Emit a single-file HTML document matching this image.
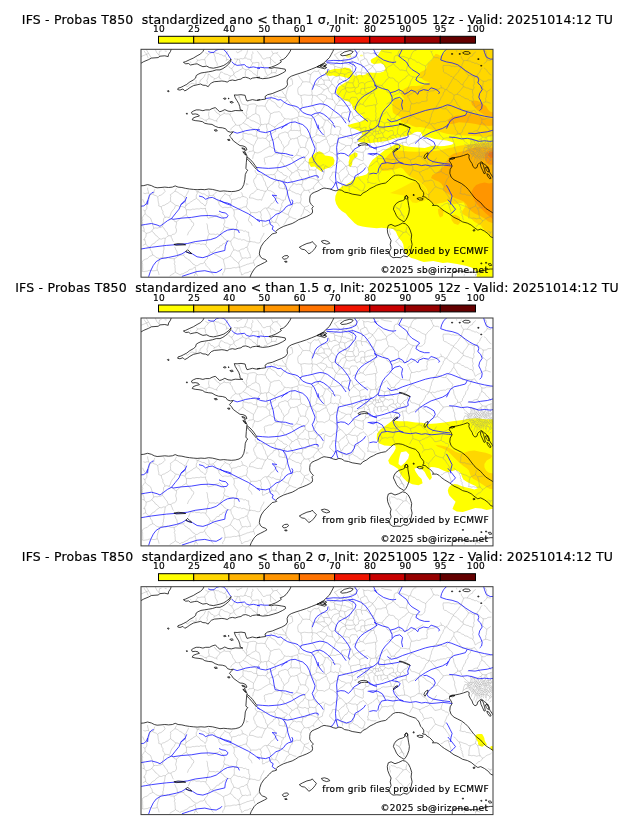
<!DOCTYPE html><html><head><meta charset="utf-8"><title>IFS - Probas T850</title>
<style>html,body{margin:0;padding:0;background:#fff}svg{display:block}text{font-family:"DejaVu Sans","Liberation Sans",sans-serif;fill:#000;white-space:pre;stroke:#000;stroke-width:0.18px}</style></head><body>
<svg width="630" height="828" viewBox="0 0 630 828">
<rect width="630" height="828" fill="#fff"/>
<clipPath id="mc"><rect x="141.0" y="49.3" width="352.0" height="227.9"/></clipPath>
<g transform="translate(0,0.0)">
<text y="23.8" font-size="12.5" xml:space="preserve"><tspan x="21.75" letter-spacing="0.192">IFS - Probas T850  standardized ano &lt; than 1 σ, </tspan><tspan x="334.27" letter-spacing="0.128">Init: 20251005 12z - Valid: 20251014:12 TU</tspan></text>
<rect x="158.50" y="36.3" width="35.22" height="6.9" fill="#ffff00" stroke="#000" stroke-width="1.0"/>
<rect x="193.72" y="36.3" width="35.22" height="6.9" fill="#ffd700" stroke="#000" stroke-width="1.0"/>
<rect x="228.94" y="36.3" width="35.22" height="6.9" fill="#ffb300" stroke="#000" stroke-width="1.0"/>
<rect x="264.16" y="36.3" width="35.22" height="6.9" fill="#ff9500" stroke="#000" stroke-width="1.0"/>
<rect x="299.38" y="36.3" width="35.22" height="6.9" fill="#ff7300" stroke="#000" stroke-width="1.0"/>
<rect x="334.60" y="36.3" width="35.22" height="6.9" fill="#f01400" stroke="#000" stroke-width="1.0"/>
<rect x="369.82" y="36.3" width="35.22" height="6.9" fill="#c80000" stroke="#000" stroke-width="1.0"/>
<rect x="405.04" y="36.3" width="35.22" height="6.9" fill="#960000" stroke="#000" stroke-width="1.0"/>
<rect x="440.26" y="36.3" width="35.22" height="6.9" fill="#640000" stroke="#000" stroke-width="1.0"/>
<text transform="translate(158.95,31.8) scale(1.08,1)" font-size="8.33" letter-spacing="0.33" text-anchor="middle">10</text>
<text transform="translate(194.17,31.8) scale(1.08,1)" font-size="8.33" letter-spacing="0.33" text-anchor="middle">25</text>
<text transform="translate(229.39,31.8) scale(1.08,1)" font-size="8.33" letter-spacing="0.33" text-anchor="middle">40</text>
<text transform="translate(264.61,31.8) scale(1.08,1)" font-size="8.33" letter-spacing="0.33" text-anchor="middle">50</text>
<text transform="translate(299.83,31.8) scale(1.08,1)" font-size="8.33" letter-spacing="0.33" text-anchor="middle">60</text>
<text transform="translate(335.05,31.8) scale(1.08,1)" font-size="8.33" letter-spacing="0.33" text-anchor="middle">70</text>
<text transform="translate(370.27,31.8) scale(1.08,1)" font-size="8.33" letter-spacing="0.33" text-anchor="middle">80</text>
<text transform="translate(405.49,31.8) scale(1.08,1)" font-size="8.33" letter-spacing="0.33" text-anchor="middle">90</text>
<text transform="translate(440.71,31.8) scale(1.08,1)" font-size="8.33" letter-spacing="0.33" text-anchor="middle">95</text>
<text transform="translate(475.93,31.8) scale(1.08,1)" font-size="8.33" letter-spacing="0.33" text-anchor="middle">100</text>
<rect x="141.0" y="49.3" width="352.0" height="227.9" fill="#fff"/>
<g clip-path="url(#mc)">
<path d="M382.5 48.0 L379.8 52.1 L378.3 54.5 L375.9 56.9 L372.7 58.5 L370.6 60.1 L371.1 62.5 L373.5 64.0 L376.7 63.7 L380.6 63.3 L383.8 64.8 L385.3 68.5 L384.0 71.3 L380.5 72.4 L376.7 72.8 L372.7 72.8 L369.5 72.4 L367.5 72.8 L365.6 74.4 L363.2 75.2 L359.2 74.8 L356.0 76.0 L353.7 75.2 L352.9 72.8 L351.6 71.2 L350.5 68.8 L348.1 68.0 L344.9 67.5 L341.7 68.5 L338.6 68.8 L335.4 68.8 L332.2 69.6 L329.0 70.4 L325.9 71.7 L325.1 73.6 L326.7 75.2 L329.8 76.0 L333.0 75.5 L336.2 76.4 L339.4 76.0 L342.5 76.7 L345.7 77.5 L348.9 78.3 L350.5 79.1 L348.1 81.2 L344.9 82.8 L341.7 84.7 L338.9 86.6 L337.0 89.4 L336.2 92.6 L337.8 95.0 L340.2 96.6 L342.5 99.0 L344.9 100.6 L347.3 101.3 L349.7 102.1 L351.6 104.5 L352.9 107.7 L353.7 110.1 L355.2 109.8 L357.6 112.9 L360.8 114.5 L363.2 116.9 L364.0 120.1 L360.8 121.7 L356.0 122.8 L351.3 124.0 L347.3 125.6 L350.5 127.5 L354.4 128.8 L358.4 130.4 L361.6 132.3 L362.4 134.4 L360.0 136.7 L358.4 139.1 L357.6 141.5 L360.8 142.3 L365.6 142.8 L371.1 143.1 L376.7 142.3 L380.0 142.0 L383.8 141.2 L389.5 140.2 L395.2 138.3 L401.0 136.9 L406.7 136.0 L411.4 134.5 L414.3 132.6 L417.1 131.7 L420.5 132.1 L421.9 134.0 L422.4 136.4 L425.7 137.2 L430.0 137.6 L434.4 138.9 L438.9 139.4 L442.2 140.0 L446.7 140.6 L451.1 141.7 L453.9 142.8 L452.2 144.4 L448.9 145.2 L444.4 145.9 L440.0 146.3 L435.6 145.6 L431.4 146.0 L424.8 147.9 L418.1 147.4 L411.4 146.9 L404.8 146.0 L401.0 144.5 L397.0 143.5 L392.5 146.0 L388.6 147.9 L384.6 150.2 L380.6 153.4 L376.7 156.6 L372.7 159.8 L370.3 162.9 L368.7 166.1 L367.9 169.3 L368.7 172.1 L366.3 174.5 L362.4 175.8 L358.4 176.4 L355.2 177.7 L352.9 180.1 L349.7 182.5 L345.7 184.8 L341.7 186.4 L339.4 188.8 L337.0 192.0 L335.4 196.0 L335.1 199.9 L336.2 203.9 L338.6 207.9 L341.7 211.0 L345.7 213.4 L348.1 216.6 L351.3 219.8 L354.4 222.9 L357.6 225.3 L362.4 226.6 L367.1 227.2 L371.9 227.7 L376.7 228.2 L381.4 227.7 L386.2 228.2 L389.4 228.5 L393.0 229.0 L395.9 231.7 L397.5 235.6 L399.4 238.8 L401.7 241.2 L403.3 244.4 L403.8 248.3 L404.9 252.3 L407.3 255.5 L411.3 257.9 L415.2 259.1 L419.0 260.5 L423.8 262.1 L428.6 261.6 L433.3 261.0 L438.1 262.1 L442.9 262.9 L447.6 262.5 L452.4 263.2 L457.1 264.1 L461.9 264.9 L466.7 266.0 L471.4 267.6 L475.4 270.8 L477.0 274.0 L476.2 278.5 L495.0 278.5 L495.0 48.0Z" fill="#ffff00" fill-rule="evenodd"/>
<path d="M309.0 159.0 L312.0 156.0 L316.0 152.5 L319.5 151.3 L322.0 152.6 L325.0 155.5 L329.0 156.1 L333.0 157.1 L334.6 160.6 L333.8 164.5 L330.6 166.9 L326.7 168.5 L324.0 169.5 L322.0 172.0 L318.7 169.8 L314.8 166.6 L311.0 167.0 L308.5 163.0Z" fill="#ffff00" fill-rule="evenodd"/>
<path d="M355.2 152.3 L357.6 153.4 L357.3 156.6 L354.4 158.2 L352.5 160.6 L352.1 164.5 L350.5 167.2 L348.9 166.1 L348.6 162.1 L349.7 158.2 L348.9 155.8 L351.6 154.2Z" fill="#ffff00" fill-rule="evenodd"/>
<path d="M345.7 55.0 L348.0 54.3 L351.3 55.0 L351.0 57.3 L348.0 57.9 L345.7 57.0Z" fill="#ffff80" fill-rule="evenodd"/>
<path d="M360.0 55.0 L362.0 54.6 L363.3 55.5 L362.0 56.6 L360.0 56.2Z" fill="#ffff80" fill-rule="evenodd"/>
<path d="M447.0 48.0 L445.2 52.1 L442.9 54.5 L440.5 56.1 L438.1 54.5 L435.7 53.7 L434.1 56.1 L432.5 59.3 L430.2 61.7 L427.8 64.0 L427.0 66.4 L426.2 68.8 L423.8 70.4 L420.6 72.0 L418.3 74.4 L419.8 76.7 L422.2 79.1 L424.6 80.7 L427.8 81.8 L429.4 82.8 L425.4 84.7 L420.6 85.5 L415.9 86.0 L411.4 86.0 L407.6 86.9 L403.8 89.3 L401.4 91.7 L400.5 94.0 L402.4 96.4 L404.8 99.3 L401.9 99.8 L398.1 99.3 L394.3 99.3 L392.9 101.7 L392.4 105.0 L392.4 108.8 L392.9 112.6 L395.2 114.5 L398.6 116.0 L401.4 117.9 L400.5 120.2 L401.4 122.1 L404.8 123.1 L408.6 124.0 L412.4 126.0 L416.2 127.2 L420.0 127.0 L424.5 127.8 L430.9 129.4 L437.2 131.0 L442.0 132.5 L446.7 133.7 L451.5 134.5 L456.3 134.9 L461.0 135.3 L465.0 135.5 L470.0 135.8 L475.0 136.2 L480.0 136.6 L485.6 136.8 L490.0 136.6 L495.0 136.2 L495.0 48.0Z" fill="#ffd700" fill-rule="evenodd"/>
<path d="M495.0 142.2 L487.8 142.6 L483.3 142.8 L478.9 143.3 L474.4 143.9 L470.0 144.4 L465.6 145.0 L461.1 145.6 L456.7 146.3 L452.2 147.4 L447.8 148.3 L443.3 149.4 L440.0 150.3 L436.0 150.7 L431.1 151.0 L423.5 151.5 L415.9 151.8 L408.3 151.4 L400.6 150.5 L394.3 150.9 L390.5 152.8 L387.3 156.0 L384.8 159.1 L382.2 162.3 L380.3 165.5 L379.7 169.3 L382.9 171.0 L389.0 170.5 L395.0 169.5 L400.5 167.5 L402.9 168.8 L405.2 171.7 L407.6 174.5 L410.5 176.9 L414.3 178.8 L418.1 180.7 L421.0 183.1 L423.8 185.5 L426.2 188.3 L427.6 191.2 L428.1 194.5 L427.6 197.9 L429.0 200.2 L431.4 202.1 L435.0 204.3 L439.8 203.3 L443.6 202.4 L447.4 201.0 L451.2 202.4 L454.0 204.3 L458.8 203.3 L463.6 202.4 L465.5 206.2 L463.6 209.0 L461.7 211.9 L463.6 214.8 L467.4 216.7 L471.2 218.6 L474.0 221.4 L476.9 223.3 L480.7 225.2 L482.6 228.1 L484.5 230.0 L487.4 231.9 L490.2 234.8 L492.1 237.6 L495.0 239.5Z" fill="#ffd700" fill-rule="evenodd"/>
<path d="M390.0 193.1 L395.2 190.7 L401.0 187.9 L406.7 185.0 L411.4 182.6 L416.2 181.0 L422.0 184.0 L426.0 189.0 L427.8 194.5 L427.6 198.0 L424.0 201.0 L420.0 201.8 L416.2 203.1 L412.4 202.6 L410.5 200.2 L408.6 197.9 L405.7 196.0 L401.0 195.0 L395.2 194.0Z" fill="#ffe600" fill-rule="evenodd"/>
<path d="M437.9 209.0 L441.0 208.0 L443.6 211.0 L443.0 216.0 L440.0 217.6 L438.5 214.0Z" fill="#ffd700" fill-rule="evenodd"/>
<path d="M451.2 215.7 L455.0 214.5 L459.5 217.0 L460.7 222.0 L458.0 225.0 L454.0 223.5 L451.5 220.0Z" fill="#ffd700" fill-rule="evenodd"/>
<path d="M471.0 101.5 L474.5 100.5 L478.0 101.0 L482.0 103.5 L486.0 106.0 L488.0 109.5 L490.0 111.5 L495.0 113.0 L495.0 117.2 L490.0 116.5 L485.5 115.5 L482.0 113.5 L479.0 111.5 L476.5 109.5 L474.5 107.0 L472.0 105.0Z" fill="#ffb300" fill-rule="evenodd"/>
<path d="M447.8 121.7 L448.9 118.9 L452.2 116.7 L456.7 115.6 L462.2 115.6 L466.7 114.4 L468.9 113.3 L472.2 113.9 L476.7 115.0 L481.1 116.7 L485.6 117.8 L490.0 118.9 L495.0 118.9 L495.0 125.6 L492.8 125.6 L488.9 126.1 L484.4 125.6 L480.0 125.0 L475.6 124.1 L471.1 123.3 L466.7 122.8 L462.2 122.6 L458.9 122.2 L455.6 123.3 L452.2 124.1 L449.4 123.7Z" fill="#ffb300" fill-rule="evenodd"/>
<path d="M495.0 147.5 L492.0 147.5 L476.2 147.2 L470.0 148.6 L465.0 150.8 L461.8 151.6 L457.9 152.4 L453.9 153.6 L450.7 155.6 L448.3 158.3 L446.7 161.5 L445.0 164.5 L443.3 167.0 L440.0 169.7 L436.7 172.8 L432.4 175.1 L431.0 178.0 L434.7 180.0 L438.5 181.5 L441.5 183.8 L443.5 187.0 L443.5 190.5 L446.0 192.5 L450.2 195.3 L455.0 198.0 L459.8 199.8 L463.6 201.6 L466.4 204.3 L468.3 208.1 L471.2 211.0 L475.0 213.8 L479.8 215.7 L484.5 218.6 L488.3 221.4 L492.1 222.9 L495.0 223.5Z" fill="#ffb300" fill-rule="evenodd"/>
<path d="M495.0 182.6 L489.0 183.4 L484.5 182.6 L479.9 183.4 L476.2 184.9 L473.5 187.9 L471.6 191.7 L471.7 193.8 L473.1 197.6 L475.0 201.4 L477.9 205.2 L481.7 209.0 L485.5 212.9 L489.3 216.2 L492.1 218.6 L495.0 220.0Z" fill="#ff9500" fill-rule="evenodd"/>
<path d="M495.0 150.0 L488.0 151.0 L485.0 154.0 L484.5 158.0 L486.0 162.0 L489.0 164.5 L495.0 165.0Z" fill="#ff9500" fill-rule="evenodd"/>
<path d="M495.0 151.5 L489.5 152.5 L488.0 155.0 L490.0 157.5 L495.0 158.0Z" fill="#ff7300" fill-rule="evenodd"/>
<path d="M145.7 48.6l2.9 4.8 2.8 4.7M154.9 48.6l1.9 4.2 3.2 3.4M141 56.6l7.6-3.2M395.3 206.3l4.4 3.8 2.9 4.8 1.9 4.7M391.8 53l-1.7-.4-1.8-.3-1.8-.2-1.8-.2-1.7-.7-1.8-.2M461.6 185.3l-.1 1.7-.9 1.5 .2 1.7-.2 1.7-.8 1.5M471.3 196l-1.6-.5-1.7-.4-1.7-.1-1.5-1.1-1.8 .4-1.6-.6-1.6-.3M443.2 189.2l.6 1.6 1.6 .9 .7 1.6 .9 1.3 1 1.4 .9 1.3 .6 1.6 1.4 1.1M443.2 189.2l.7-1.6 1.2-1.5-.2-2 .8-1.6 .7-1.7 .6-1.7 1.4-1.4 .4-1.7M490.2 232.3l1.8-.5M490.2 232.3l-2.5-1.2M491.7 215.4l-1.4 1.2-1.6 .7-1.7 .5-1.5 1.1-1.3 1.2-1.7 .6M482.5 220.7l-.1 .8M475.6 226.7l1.6-.8 1-1.5 1.9-.4 1.2-1.2 1.1-1.3M480.2 272.9l-1.2 1.3M479 274.2l1.3 1.3M410.1 245.5l-1.2 1.3-.9 1.4-1.1 1.3-1.1 1.3M405 253l.8-2.2M279.1 153l-1.7-.7-1-1.7-1.7-.8-1.2-1.6-1.8-.6-1.4-1.2M279.1 153l-1.3 1-1.9-.4-1.5 .5-1.3 1.1-1.4 1-1.7 0-1.6 .3-1.5 .7-1.6 .2-1.3 1.1M270.3 146.4l-1.7 .6-1.5 .9-1.5 .8-1.5 .9-1.5 1-1.4 1.1-1.6 .6-1.6 .7M281.4 153.7l1.2-1.2 .7-1.4 0-1.8 .9-1.4M281.4 153.7l-2.3-.7M269.1 141.7l.7 1.5-.3 1.7 .8 1.5M269.1 141.7l1.3-1.2 1.6-.7 1.9-.1 1.5-.8 1.2-1.5 1.8-.3M284.2 147.9l-.7-1.6-.7-1.6-1.2-1.3-.3-1.9-1.2-1.4-.9-1.5-.8-1.5M269.1 141.7l-1.8-1.4-1.3-2M254.5 152.1l1.7 .6 1.8 .3M254.5 152.1l-1.2-1.3M253.5 146l-.2 2.4 0 2.4M253.5 146l.9-1.6 1-1.5 .5-1.7 1.2-1.5 .4-1.8M257.5 137.9l1.7 .2 1.7 .2 1.7-.4 1.7 .5 1.7-.1M205.4 52.7l1.5 .8 1.5 .7M208.4 54.2l-.7 1.5-1.3 1.1-1.2 1.2-.5 1.7M204.7 59.7l-1.7-.1-1.8 .1-1.7 .5-1.7 0M196.3 58.9l1.5 1.3M150.5 218.1l.7 1.7 .5 1.7 .8 1.6 .1 1.8 .7 1.6 .4 1.8M153.7 228.3l1.7-.4 1.8 .3 1.7-.6 1.8-.1 1.6-.8M163.7 218.7l-.2 1.6 .1 1.7-.9 1.5 .2 1.7-.6 1.5M191.3 62.6l-1.5-.8M195.7 62.9l1.1-1.3 1-1.4M448.8 176l-1.3-1.3-2-.2-1.3-1.3-1.8-.5-1.3-1.2M443.5 163.3l-1 1.5-.1 1.7-.6 1.6-.5 1.7-.2 1.7M443.5 163.3l1.3-1 1.7-.4 1.1-1.3M435.9 148.6l1.2-.9M449.5 156.7l-1.6-.7-1.2-1.2-1.2-1.2-1.5-.9-1.3-1-1.5-1-1.3-1.1-1.2-1.2-1.6-.7M418.9 156.2l2.5 .3M418.9 156.2l-1.8 .4-1.4 1.3-1.6 .9-1.8 .4-1.6 .7M421.4 156.5l.8 1.7 1.2 1.4 1.9 .7 1.2 1.4 .9 1.6 .8 1.7 1.5 1.1M410.7 159.9l-.2 1.7 .9 1.6-.2 1.7 1.3 1.4 .3 1.7 0 1.7M429.7 166.1l.2 1.1M429.9 167.2l-1.4 .9-1.4 .9-1.7 .3-1.4 1.1-1.7 .2-1.2 1.3-1.7 .2M419.4 172.1l-1.7-.5-1.6-.7-1.7-.5-1.6-.7M434.7 148.6l-1.2-1.3-1.4-.8-1.2-1.3-1.4-.9-1.6-.8-1.6-.6-.9-1.6-1.5-.9-1.4-.9-1.3-1.1-1.5-.8M434.7 148.6l-1.4 1-1.5 .9-1.7 .4M422.7 155.4l-1.3 1.1M418.8 139.5l.9-1.9M418.8 139.5l-.2 1.6 0 1.7 .6 1.7-.5 1.7 .3 1.6 .3 1.7-.3 1.7 .3 1.7 .1 1.6-.5 1.7M435.9 148.6l-1.2 0M437 157.9l-1.5 1.1-.6 1.9-1.9 .7-.5 2-1.5 1.2-1.3 1.3M441.1 171.5l-1.5 .6-1.6 .4-1.6 .4-1.6 .1M434.8 173l-1.1-1.5-1-1.7-1.5-1.2-1.3-1.4M470.5 208.3l1.7-.7 1.6-.8 1.7-.7M470.5 208.3l-.7 1.5-.4 1.7-.4 1.5 0 1.7 0 1.7-.5 1.6M480.2 218.5l-.7-1.6-.4-1.8-.2-1.8-.1-1.8-.8-1.7-.3-1.7M480.2 218.5l-1.7-.2-1.7 .6-1.6-.5-1.7-.4-1.7 .4-1.6-.4-1.7 0M477.7 208.1l-2.2-2M476 201.3l.3 1.7-.7 1.5-.1 1.6M459.3 204.5l-1.7-1-1-1.7-1.4-1.4-1.6-1M459.3 204.5l1.7 .2 1.6 .7 1.5 .6 1.7 .4 1.5 .8 1.4 1.1 1.8 0M459.3 204.5l.3 1.6 1 1.4-.5 1.8 1.1 1.4-.3 1.7 1.3 1.3-.2 1.7 .8 1.5 .1 1.6 .7 1.5M483.1 207.3l-1.8 .4-1.8 .1-1.8 .3M482.5 220.7l-2.3-2.2M448.4 202.9l.1 1.8 .8 1.5 .3 1.7 .7 1.6 .5 1.6 .2 1.7M448.4 202.9l-1.6 .5-1.6 .4-1.5 .7-1.2 1.4-1.7 .3M443.2 189.2l-1.9-.4-2-.5-1.8-.7-1.8-.9M429 198.3l-.4-1.7 .2-1.7M428.8 194.9l.9-1.6 1.2-1.3 1.2-1.3 1-1.6 1.4-1.2 1.2-1.2M435.7 186.7l-1.1-1.5-.4-1.9-.9-1.7-1.3-1.4M419.4 172.1l.5 1.7 .8 1.5 1.6 1.1 .5 1.7 .6 1.7 1 1.4M432 180.2l-1.9 0-1.9 .7-1.9 0-1.9 .3M490.2 232.3l-.1 1.9M309.9 193.1l-.7-1.6-1-1.4M314.2 189.8l-.8-1.8M313.4 188l-1.8 .6-1.5 1.2-1.9 .3M410.4 235.7l-1.5-1.1-1.4-1.3-1.2-1.4M405.8 250.8l-1.5-.9-1.3-1.1-.9-1.6-1.4-1-1.5-.9-1-1.4-1-1.5-1.6-.8M395.6 241.6l1-1.4 1.5-1 .9-1.4 1-1.3 1-1.4 1.4-1 .8-1.6M403.2 232.5l3.1-.6M406.3 231.9l-.3-1.7 .5-1.7 .4-1.7M362.5 51.4l1.2 1.5M378.6 52.3l-2.1 .5-1.9 .9M363.7 52.9l1.8 .3 1.8-.4 1.8 .2 1.8 .8 1.9-.4 1.8 .3M282.1 155.3l1.6 .2 1.5 .8 1.5 .6 1.8-.3 1.5 .8 1.5 .6M282.1 155.3l-.1 2.1-.7 2-.9 2M297.2 170.6l.7-1.2M297.2 170.6l-1.9 .5-1.5 1.4-1.9 .5M280.4 161.4l1.3 1 1.4 .9 .4 1.9 1.8 .6 .9 1.3 1.3 1 .9 1.5 1.2 1 1.5 .9 .8 1.5M291.5 158l.7 1.6 .9 1.4 1 1.5 1 1.4 .7 1.5 1.2 1.3 .9 1.4M297.9 169.4l0-1.3M291.5 158l2-.5 1.4-1.7 1.9-.7M297.9 168.1l1.3-1.2 .9-1.6 1.4-1.1 1.6-.8 .6-1.9 1.6-.9M305.3 160.6l-.2-2.4M305.1 158.2l-1.8-.3-1.5-.9-1.5-1.1-1.8-.3-1.7-.5M282.1 155.3l-.7-1.6M280.4 161.4l-.8 1.6-1.3 1.3M264 158.5l.6 1.5-.2 1.6 .9 1.5-.2 1.7M274.3 174.4l-1.6 .4-1.7-.3-1.5 .4-1.6 0-1.7-.1-1.5 .5-1.7-.5-1.6 .4M274.3 174.4l1.1-1.4 1.3-1.2 .8-1.7M278.3 164.3l-.5 1.9 0 2-.3 1.9M261.4 175.2l-1.4-1M256.3 173.3l-1-1.4-.1-1.8M254.5 152.1l-.2 1.8-1.1 1.6-.2 1.7-.4 1.7M257.5 174.2l2.5 0M257.5 174.2l-1.2-.9M297.2 170.6l1 1.4 1 1.4 .1 1.8 1 1.3 1.3 1.3 .3 1.7 .9 1.5M291.9 173l-1.1 2.1-1.7 1.6M301.8 184.6l.8-1.7 .2-1.9M301.8 184.6l-1.7-.2-1.8-.3-1.8 .6-1.7-1.1-1.7 .3M293.1 183.9l-.5-1.6-1.6-1-.1-1.8-1.2-1.3-.6-1.5M277.5 170.1l1.4 1 1.3 1.2 1.8 .4 1 1.8 1.6 .8 1.8 .4 1.2 1.3M274.3 174.4l1.1 1.6-.2 2.2 1.3 1.6M261.4 175.2l1 1.3 .8 1.5 .4 1.6 .8 1.4 .9 1.4 .3 1.7 .3 1.6 1.3 1.2 .3 1.7M276.5 179.8l-1 1.6-2 .6-.6 1.9-1.6 .9-1.5 1.1-1 1.5-1.3 1.2M304.5 207.2l1.6-.6 1.6-.5 1.4-1M304.5 207.2l-1.7-1.3-1.5-1.3-1-1.9M304.2 190.1l2 .4 2-.4M304.2 190.1l-1.2 1.5-1.3 1.5-.5 1.9M300.3 202.7l.6-1.9 .3-1.9-.6-2 .6-1.9M301.8 184.6l.3 2 1.4 1.6 .7 1.9M293.1 183.9l-1.1 1.6-1.3 1.4-1.1 1.5-.6 1.8M301.2 195l-1.6-.4-1.4-.9-1.8 0-1.4-.8-1.5-.8-1.6-.4-1.2-1.4-1.7-.1M300.3 202.7l-1.8 .3-1.9-.3-1.7 .9-1.8-.1M289 190.2l-1.2 .5M287.8 190.7l-.6 1.8-.4 1.8-.7 1.7-.6 1.8-.1 1.8M278.8 134.2l1.6-.5 1.4-.8 1.7-.3 1.5-.8M274.4 127l1 2.1 .3 2.3M274.4 127l1.7-.7 1.1-1.5 1.3-1.1 1.6-.9 1.6-.8 1.5-.8M278.4 137.1l.4-2.9M267.2 136.2l-1.2 2.1M267.2 136.2l1.5-.7 1.1-1.2 1.6-.6 1.4-.8 1.3-1 1.6-.5M267.2 136.2l.3-1.7-.6-1.7-.1-1.7 .5-1.7-.6-1.7-.2-1.7 .3-1.7M268.1 123.6l-1.3 .7M268.1 123.6l1.8 .5 1.3 1.3 1.6 .8 1.6 .8M271 113.6l-.9 1.5 .1 1.9-.6 1.6-.5 1.7-.1 1.8-.9 1.5M271 113.6l1.6-.5 1.5-.9 1.7-.1 1.7-.2 1.6-.4M283.2 121.2l1.3-2.8M284.5 118.4l-1.2-1.3-1.2-1.3-.4-1.9-1.3-1.2-1.3-1.2M317.3 152.4l1.6 .9 2-.2 1.8 .1 1.7 .8M317.3 152.4l-.2 1.8-1.3 1.4-1 1.5 .3 2-1.2 1.4-.6 1.7M313.3 162.2l1.6 1.4 1.5 1.6 1.2 1.7M324.3 164.8l-1.8 .1-1.4 1.3-1.8-.1-1.7 .8M316.5 151.9l.8 .5M305.3 160.6l1.6 1.3 1.8 .8M308.7 162.7l2.4 .1 2.2-.6M308.7 152l-.5 1.7-1.4 1.3-1.2 1.4-.5 1.8M358.4 175.6l-.8 1.1M357.6 176.7l1.2 1.3 1 1.6 1.4 1.1 1.1 1.3 1.2 1.4 1.4 1.1M368.4 171.4l.4 1.6-.1 1.7-.2 1.6-.1 1.6-.9 1.5 .7 1.7-.6 1.6M357.6 176.7l-2.9 .9M361.9 191.3l1.1-1M361.9 191.3l-1.3-.9-1.7-.5-1-1.5-1.4-.7-1.6-.7-1.4-.8-1.2-1.2M354.7 177.6l-.4 1.9-1.1 1.7 .1 2.1-1 1.7M364.9 184.5l-.1 2.1-.8 1.9-1 1.8M378.2 175.2l.1 1.7 .1 1.8 .6 1.6 .8 1.6M367.6 182.7l1.8-.3 1.7 .8 1.8 .2 1.7 .1 1.8-.5M325.2 165.7l-.6 1.6-.5 1.6 .2 1.8-.1 1.7-.4 1.6-.9 1.5-.3 1.7-.3 1.6M325.2 165.7l1.7 .9 1.8 1 2 .2M332.4 172.2l-.3 1.8-.7 1.6-1.4 1.4-.3 1.8M340.4 160.8l-1.6 .8-1.3 1.1-1.4 1-1 1.4-1.9 .4-.9 1.6-1.6 .7M340.4 160.8l-1.5-1.2-.5-2-1.6-1.1-1-1.6M324.4 154l1.6-1.1 1.8-.7 1.5-1.2M335.8 154.9l-1.7-.8-1.4-1.5-1.9-.4-1.5-1.2M346.1 166.3l-.2-.1M346.1 166.3l.9 1.4-.3 1.8 .8 1.4 .9 1.4 .2 1.7M345.9 166.2l-1.4 1.1-.8 1.7-1.8 .6-1 1.4-1.4 1.1-1.2 1.3M348.6 174l-1.1 1.1-.7 1.6-1.8 .6-.9 1.4-1.2 1.1-.5 1.7-1.5 .9M338.3 173.4l.8 1.7 0 2 .5 1.8 .9 1.7 .4 1.8M358.4 175.6l-.6-1.6-.6-1.6 .2-1.7 0-1.8-.6-1.5M356.8 167.4l-1.5-.9-1.9 .3-1.7-.2-1.6-.7-1.7-.4M348.4 165.5l-2.3 .8M354.7 177.6l-1.6-.7-1.7-.7-1.2-1.3-1.6-.9M340.4 160.8l1.1 .4M341.5 161.2l1.1 1.2 1.1 1.3 1.1 1.2 1.1 1.3M332.4 172.2l2.1-.1 1.9 .4 1.9 .9M333.4 182.9l-1-1.6-1.6-1-1.1-1.5M333.4 182.9l1.8 .3 1.8 0 1.8 0 1.8 .4M340.6 183.6l.3-1.2M382.1 169.5l-1.1 1.4-.8 1.5-1.1 1.4-.9 1.4M382.1 169.5l-.7-1.5-.8-1.4-1.4-1-.2-1.8-1-1.3-.8-1.4M368.2 171.1l.2-1.7-.5-1.6M367.9 167.8l1.2-1.2 1.4-.8 1.5-.7 1.2-1.2 1.2-1 1.2-1.1 1.6-.7M356.8 167.4l1.9-.8 .9-1.9 2-.4 1.4-1.4M367.9 167.8l-1.3-1.2-.9-1.5-1.4-1.1-1.3-1.1M393 168.6l-1.8-.2-1.8 .2-1.8 .8-1.9-.4-1.8 .2-1.8 .3M393 168.6l.9-1.7 .5-1.9 .6-1.8 .6-1.8 .9-1.7M396.5 159.7l-1.8 0-1.6-.4-1.8 .6-1.7-.5-1.7-.5-1.7-.2-1.7 0-1.7 0-1.7-.2-1.8 .1-1.7-.1M377.2 161.1l.4-2.6M363.2 152l-1.7 .4-1.6-.4-1.7-.2-1.6-.6-1.6-.4-1.7 .4M363.2 152l0 1.9 .4 2-.5 1.9 .3 2M363.4 159.8l-.8 1.1M362.6 160.9l-1.8-.7-1.9-.8-1.8-.9-1.7-1M355.4 157.5l-.8-1.5-.3-1.6 0-1.8-1-1.4M377.6 158.5l-.4-1.6-.8-1.6-.6-1.6M375.7 153.7l.1 0M348.4 165.5l1.1-1.4 1.6-1 .9-1.5 .9-1.5 1.6-1 .9-1.6M351.5 149l1.8 2.2M351.5 149l-.8-1.5 .2-1.7M335.8 154.9l1.4-1.1 1-1.4 1.3-1.2 1.4-1 1.7-.7 1-1.3 1.4-1.1 1.1-1.3M350.9 145.8l-2.4-.4-2.4 .4M363.2 152l1.7-1.3 1-1.8M365.9 148.9l2.4 .2M231.8 68.6l-1.9-.6-1.2-1.8M231.8 68.6l.9-1.3 1.2-1.1 .4-1.7 1.3-1.1 .6-1.5 .9-1.4 .6-1.5M226 61.1l.7-1.7M237.7 59l-1.8 .1-1.9-.4M228.6 59.7l-1.9-.3M236.3 51.3l1.1 1.6M227.8 51l-.8 1.8-1 1.7-1.2 1.5M237.7 59l.3-.1M226.7 59.4l-.5-2-1.4-1.4M271 113.6l-2-1.3M269 112.3l-.6-1.7-1.7-1-.4-1.9-1.1-1.4M270.2 99.1l-2.5 1.1M270.2 99.1l.9 1.5 1.6 .8 1.5 .8 1.4 1 .9 1.5 .8 1.5 1.6 .8 1.3 1.1M265.2 106.3l.2-1.7 1-1.4 .8-1.4 .5-1.6M282 91.1l.9 1.4 .9 1.5 1.2 1.2 .9 1.5M285.9 96.7l0-1.9 .8-1.8 .2-1.9 .8-1.8 .2-1.9M259 62.7l-.1 1.7-.1 1.8-.2 1.7-.5 1.7-.5 1.7-.2 1.7 0 1.7 0 1.8M267.4 75.9l-1.4 1.2-2-.1M267.6 75.5l-.9-1.4-.8-1.5-.7-1.6-.2-1.7-1.2-1.3-.2-1.8-1.2-1.3-.8-1.5-.2-1.8M270.6 95.6l.8 1.4M274.4 94.3l-.7 1.5M270.2 99.1l1.2-2.1M276.7 73.4l-1.6-.7M275.1 72.7l-1.9-.1-1.8 .5M271.4 73.1l-1.9 1.3-1.9 1.1M286.3 98.3l-1.4-.8-1.7-.1-1.6-.1-1.6-.4-1.7 .4-1.4-1.3-1.7 .5-1.5-.7M286.3 98.3l-.4-1.6M287.1 99.4l0 .1M287.1 99.4l-.8-1.1M287.1 99.5l-.9 1.7-1.4 1.2-1.6 1.1-.7 1.7-1 1.6-1.3 1.3M204.7 59.7l.7 1.6-.1 1.9 .8 1.6M208.4 54.2l1.6-.7 1.6-.8 1.8-.2M213.4 52.5l.7 1.6 .5 1.7 .7 1.6-.2 1.8 .5 1.7 1 1.5 .7 1.6-.4 1.9M213.4 52.5l.2-.2M213.6 52.3l1.6 .4 1.6 .7 1.8 0 1.3 1.2 1.8 .1 1.4 1.2 1.7 .1M406.3 142.3l-2 0-2 .1M406.3 142.3l1 1.7 1.4 1.4M402.2 142.5l.1-.1M402.2 142.5l.5 1.6 .2 1.7 .3 1.7 .5 1.7-.5 1.8 .8 1.6 .3 1.7 .2 1.7 .1 1.7M405.8 157.7l-1.2 0M418.8 139.5l-1.4 .9-1.5 .7-1.3 1-1.4 1-1.7 .4-1.5 .7-1.3 1.2M410.7 159.9l-1.7-.6-1.5-1.1-1.7-.5M397.9 158.1l-1-1.6-1.3-1.5-.9-1.7M397.9 158.1l1.7 .4 1.6-.7 1.7 .1 1.7-.2M393.1 149.8l1-1.6 .5-1.9 1.4-1.4M396 144.9l1.7-.3 1.5-.6 1.6-.5 1.4-1M430.9 124.1l1.6-.8 1.8 .6 1.6-.5 1.5-.9 1.7 .1 1.5-.9 1.7 0 1.6-.4 1.8 .2 1.4-1.3 1.7 0 1.6-.4 1.7-.2M430.9 124.1l1 1.5 1.3 1.1 .8 1.5 1.7 .9 .4 1.8 1.1 1.4 1.9 .6 .7 1.6 1 1.4 1.4 1.1 1 1.4M443.2 138.4l1.8-.2 1.9-.4 1.9 .1 1.9 0 1.8-.2M452.1 119.6l1.1 1.4 .5 1.6 .1 1.8 .5 1.6 .9 1.5 .2 1.7 1.2 1.4 .9 1.4 .2 1.7M452.5 137.7l1.3-1 1.3-1 1.5-.7 1.1-1.3M437.1 147.7l.7-1.8 1.2-1.4 1-1.6 1-1.5 1.6-1.1 .6-1.9M456.5 155l-.2-1.6-.3-1.6-.6-1.5-.4-1.5-.5-1.6 .3-1.7-.4-1.6-.8-1.5-.3-1.5-.6-1.6-.2-1.6M453.8 98.8l-1.5 1.1-.6 1.8-1.1 1.5-1.6 1-1.1 1.4-1.3 1.3-.8 1.7M453.8 98.8l1.2 1.1 .7 1.5 1 1.3 .3 1.7 1.4 1 1.2 1.2 .4 1.7 1.6 .8 .5 1.7M445.8 108.6l1.2 1.2 1.5 .9 .7 1.7 1.4 .9 1.2 1.1 1 1.4M436.2 107.5l1.6-.3 1.6 .1 1.6 .5 1.5 .9 1.7 .2 1.6-.3M436.2 107.5l-2.4 .9M429.2 123.1l.6-1.7 .4-1.6 .2-1.7 .9-1.5 .1-1.8 .6-1.6 .8-1.6 .9-1.5 .1-1.7M429.2 123.1l1.7 1M452.1 119.6l0-1.9 .7-1.9M419.7 137.6l-.1-1.2M429.2 123.1l-.3 0M419.6 136.4l.5-1.6 1.4-1 1.2-1.2 1-1.2 .7-1.5 .9-1.4 .4-1.6 1.2-1.2 1.4-1 .6-1.6M491.5 117.9l-1.6 .3-1.7 0-1.6-.1-1.5 1.1-1.7 .2-1.6-.3M475.3 107.6l1.3-1 1.3-1 1.6-.6 1.5-.7 1.3-.9 1.4-.9 1.6-.5M485.3 102l1.9 0 1.7 .8 1.8 .5M481.8 119.1l-1.1-1.3-.8-1.4-1.3-1.1-1.1-1.3-1-1.4-1.1-1.2-.9-1.4M390.4 235.1l0-1.7-.9-1.5 .2-1.7 .1-1.7M403.2 232.5l-1.4-1-1.6-.7-1.6-.6-1.9 .3-1.3-1.4-1.5-.6-1.9 0-1.3-1.1M399.3 209.1l-1.6-.8-1.6-.4M399.3 209.1l1.1 1.7 .9 1.9 .6 1.9M401.9 214.6l-1.5 .7-1.2 1.2M401.9 214.6l1.5 1 1.3 1.3M399.3 209.1l1.2-1.4 .5-1.6 .1-1.9 1.2-1.3M393 168.6l.1 2 1.1 1.7 .3 1.9M318.4 181.4l.1-.6M318.4 181.4l.8 1.6 1.4 1.1 1.3 1.3 1 1.3M318.5 180.8l1.8-1.1 2-.9M313.4 188l.6-1.7 1-1.2 1-1.4 1.4-1 1-1.3M309.1 177.8l1.6 .1 1.6 .4 1.6 .4 1.5 .6 1.4 .7 1.5 .7M309.1 177.8l.3-1.8-.8-1.6-.3-1.7 .1-1.7M318.3 180.7l-.5-1.8-.8-1.8-.5-1.7-.4-1.9-.1-1.9-.4-1.8M315.6 169.8l-1.9 .6-2.1-.5-2 .1M308.4 171l1.2-1M318.5 180.8l-.2-.1M302.8 181l1.3-1.3 2 .1 1.2-1.6 1.8-.4M297.9 169.4l1.7 .4 1.7 .5 1.8 .4 1.9-.8 1.6 1 1.8 .1M317.6 166.9l-.9 1.5-1.1 1.4M308.7 162.7l0 1.9 0 1.8 .4 1.8 .5 1.8M253.3 150.8l-2.1 .5-2.2 .1M249 151.4l-1.3 1.4M253.6 180.6l.3 1.9 1 1.7 .3 1.9 1.4 1.5 .5 1.8M257.1 189.4l-1.3 1.3-1.1 1.3-1.4 1.1-1.8 .6-1.3 1.3M257.5 174.2l-1.2 1.5-.4 1.9-1.7 1.1-.6 1.9M248.4 184.3l-1-.1M247.4 184.2l-1.5-1.1M145 211l.1 2.8M145 211l1.8-2.4M145.1 213.8l1.3 1.1 1.3 1.2 1.4 1 1.4 1M163.7 218.7l1.1-1.2M158.7 206l2.6 .8M164.8 217.5l-.1-1.7-1.3-1.2-.6-1.6 .2-1.7-1-1.4-.5-1.5-.2-1.6M479 274.2l-1.9-.2-1.7 .4M475.5 276.1l-.1-1.7M475.4 274.4l-.4-.2M296.3 218.9l-1.8-.3-1.7-.5-1.6-1-1.8-.2M283.5 224.8l1.1-1.2 .9-1.4 .8-1.5 .6-1.6 1.6-.9 .9-1.3M293.1 203.5l-.6 1.6-.5 1.7-1.3 1.3-.6 1.6-.6 1.7-.8 1.5-.4 1.7M285.4 199.6l-2 .7M283.4 200.3l-.2 1.6-1.2 1.3-.4 1.5 .4 1.9-1.2 1.3-.3 1.5-.4 1.6M280.1 211l1.7 .5 1.5 1 1.6 .9 1.6 .7 1.8 .5M304.4 208.5l-.8 1.6-.3 1.9-.6 1.7-1.3 1.4-.4 1.8M304.4 208.5l.1-1.3M289.4 216.9l-1.1-2.3M359.7 50.4l-.9 1.6-1.6 .5M354.2 50.8l1.7 .5 1.3 1.2M314.4 71l2 .5 1.9-.4M318.3 71.1l1-1.7M395.3 55.7l2.4-.4M395.3 55.7l-1 1.4-.2 1.7 .1 1.8-1.3 1.3 0 1.7M397.7 55.3l1.4 1 1.7 .1 1.7 0 1.7 .4 1.5 .6 1.6 .5 1.4 .9M406.5 70.8l.1-1.7 .6-1.7 .3-1.7 .2-1.7 .3-1.7 .6-1.7 .1-1.8M406.5 70.8l-1.6-.1-1.6-.5-1.7-.2-1.6 .2M392.9 63.6l1.4 .8 .9 1.4 1.2 1.2 1.5 .7 1 1.4 1.1 1.1M378.5 59l1.1 1.4 1.4 1 1.3 1.2 .8 1.6 1.4 1.1 .9 1.6 1.4 1.1M392.9 63.6l-1.2 1.5-1.7 .9-1.8 .7-1.4 1.3M363.7 52.9l.1 1.9 .3 2 .8 1.8M364.9 58.6l1.8 .6M318.3 71.1l1.3 1.3 .6 1.7 1.1 1.5M328.6 68.9l.7 1.6 .2 1.8M321.3 75.6l2-.2 2-.4 2-.2M329.5 72.3l-.9 1.5-1.3 1M287.9 87.4l1.5-1.1 1.8-.7 1.4-1.4M290.1 79.2l1.6-.6M291.7 78.6l.5 1.8 .4 1.9 0 1.9M298.4 94.4l-.4-1.9-.3-1.8 .2-1.9M284.6 179.8l-.2 1.8 .7 1.7-.5 1.8 .1 1.7 .2 1.8M284.6 179.8l-1.6 .4-1.5 .6-1.8-.6-1.6 .6M278.1 180.8l.7 1.8 .5 1.7-.6 2 .7 1.8M284.9 188.6l-1.9 .2-1.8-.6-1.8-.1M287.6 177l-1.7 1.2-1.3 1.6M287.8 190.7l-1.3-1.3-1.6-.8M276.5 179.8l1.6 1M267.5 188.6l0 1.2M273.6 192.5l-1.5-.8-1.4-.9-1.8-.1-1.4-.9M283.4 200.3l-1.8-.2-1.5-1.1-1.7-.7-1.8-.4M273.6 192.5l1.2 1.6 .7 2 1.1 1.8M257.1 189.4l1.8 0 1.7 1 1.8 0 1.7 .9 1.9-.2M266 191.1l1.5-1.3M250.2 195l-.9 3M249.3 198l1.8 0 1.8 .1 1.8 .8 1.7 .6 1.7 .4 2-.4 1.6 .8M266 191.1l-1.1 1.4-.8 1.4-.5 1.7-.8 1.5-.7 1.5-.4 1.7M284.5 118.4l1.9 .6 1.9-.2 1.9 .5 2-.4M287.1 99.5l.8 1.4 1.4 1 .6 1.5 1.5 .9 .6 1.6 1.1 1.1 1.1 1.2 1.3 1 1.4 .9 .8 1.5 1 1.3M298.7 112.9l.1 3.1M298.8 116l-1.5 1.5M292.2 118.9l1.7-.4 1.7-.6 1.7-.4M298.4 94.4l2.6 1.2M298.7 112.9l1.1-1.7 1-1.7 1.1-1.7M301 95.6l0 1.7 .7 1.7 .1 1.8-.4 1.8 .8 1.7-.1 1.8-.2 1.7M363 190.3l1.6 .5M329.3 151l.4-2 .3-2M346.1 145.8l-1.5-1-1.6-.6-1.8-.3-1.3-1.4-1.8-.3M330 147l1.6-1 1.9-.4 1.1-1.9 1.9-.4 1.6-1.1M316.5 151.9l-.2-1.7 .2-1.6-.5-1.7 0-1.7 0-1.6M316 143.6l1.6-1 2 0 1.5-1.3 1.7-.9 1.6-.9 1.8-.5M330 147l-.8-1.6-.7-1.6-1.1-1.4 0-2-1.2-1.4M237.4 52.9l1.6-.8 1.5-1 1.7-.6M249.5 104.4l2.1-.3 2-.2 2.1 .3M256.8 105.6l-1.1-1.4M256.8 105.6l1.7 .5 1.7-.2 1.7-.1 1.7 .3 1.6 .2M242.2 104.2l1.9 .3 2 .4 1.8 .5M242.2 104.2l-.9-1.8-.8-1.9-.6-1.9-.5-1.9M247.9 105.4l1.6-1M239.4 96.7l.2-.6M275.1 72.7l1.3-1.4 .3-1.8M271.4 73.1l.2-1.6-.1-1.7M271.3 64.9l-1-1.5 .4-1.7-.3-1.6 .1-1.6M276.1 63.3l-1.6-1-1.3-1.3-1.4-1.3-1.3-1.2M271.5 50.7l.8 1.5 .8 1.6M278.2 52.1l-1.7 .9M276.5 53l-1.8 .2-1.6 .6M263.3 59.1l1.8-.2 1.5-1 1.8-.1 1.7-.3M263.3 59.1l-1.1-1.3-.9-1.4-.8-1.6-1.5-1.1-.8-1.5-1.1-1.3M273.1 53.8l-1.2 2.1-1.8 1.6M270.5 58.5l-.4-1M231.2 128.5l-.5 1.7M206.4 122l-.3-1.8M217.1 122.2l-.5-1.5M216.6 120.7l-2.1 0-1.8-1-1.9-.6-1.9-.4M206.1 120.2l2.8-1.5M166.7 51.3l-2-.3M159.5 51.3l2-.5M400.3 137.9l1 .9M400.3 137.9l.4-2.4M401.3 138.8l2.2-.8 2.4 .3M400.7 135.5l1.9-1.5M402.6 134l1.4 1.2 1.1 1.5 .8 1.6M406.3 142.3l-.1-1.8 .5-1.8M419.6 136.4l-1.8-.6-1.8-.7-1.7-.8-2-.1M406.7 138.7l-.8-.4M491.4 79.7l-1.7 .2-1.7 0-1.5 1.2-1.6 .3-1.8-.1M490.8 88.9l-1.3 1.1-1.3 .8-1.3 1.1M483.1 81.3l.2 1.8-.6 1.7 .1 1.8-.5 1.7M486.9 91.9l-1.6-1.1-1.3-1.4-1.7-1.1M485.3 102l.6-1.6-.4-1.8 .9-1.6-.1-1.7 .4-1.7 .2-1.7M396.5 159.7l1.4-1.6M393.1 149.8l-1.9-1M391.2 148.8l-1.9 .4-2 .3-1.9 .2-2-.3M375.8 153.7l.7-.8M383.4 149.4l-1.9 .6-1.4 1.5-2 .3-1.6 1.1M471.4 159.2l.3-1.8 1-1.5M472.7 155.9l-1.1-.9M475.9 165.3l-.2-1.7 1-1.5 .5-1.6-.1-1.7M478.8 161.4l.3-1.6 .2-1.6M478.1 157.7l-1 1.1M478.1 157.7l.5 0M478.6 157.7l.7 .5M352.3 185l-1.3 1.2-1.7 .2M349.3 186.4l-.2 1.7 0 1.7 .8 1.6M428.8 194.9l-1.6-.5-1.2-1.3M424.4 181.2l-1.2 1.5-1.4 1.3M412.8 169.7l-.9 1.5-.9 1.4-.7 1.5-.9 1.4M145 211l-1.7-1.1M146.8 208.6l.1-1.8-.4-1.8M142.6 199.1l.7 1.7 .8 1.6 1.2 1.3 1.2 1.3M209.3 195.5l-.3-1.6 0-1.7-.7-1.6M209.3 195.5l-.7 .6M208.6 196.1l-1.7-.2-1.4-1.1-1.4-1-1.8 .1-1.5-1-1.6-.4-1.5-.8M199.5 190.9l-1.8 .8M168.9 235.7l2.2 .1M168.9 235.7l-2 1-1.5 1.6M171.1 235.8l.2 1.6 .9 1.5 .4 1.6 1 1.4M174.6 246.8l.8 1.5 .5 1.5 1 1.4 .2 1.7 .3 1.6 .7 1.5M178.1 256l-1.7 1.6-2.1 1.1M165.4 238.3l-.4 1.6-.2 1.6-.2 1.6-.6 1.6-.3 1.6 .3 1.7-.1 1.6-.5 1.6 .1 1.6-.7 1.6 .2 1.7-.6 1.5M174.3 258.7l-1.7-.1-1.7 0-1.7-.6-1.6-.4-1.8 .7-1.7-.6-1.7-.1M175.9 232.9l-1.5 1.2-2 .3-1.3 1.4M178.1 256l1.7-.7 1.7-.2 1.8 .1M183.3 255.2l1.3-1M188.1 248.7l.8-1.4 .6-1.6 .7-1.4 1.1-1.2M464.1 275.8l.3-1.8M272.3 221.8l1.7 .7 1.8-.2M272.3 221.8l-.7-1.4-1-1.4-.3-1.6 0-1.8-.8-1.4-.6-1.6-.8-1.4-1-1.4-.3-1.6M275.8 222.3l.1-1.7 .7-1.6 .7-1.5 .4-1.7 1.1-1.4 .5-1.6 .4-1.6M279.7 211.2l-1.6-.5-1.8-.1-1.6-.7-1.5-1-1.9 .4-1.5-1.1-1.7-.4M266.8 208.2l1.3-.4M279.4 226.3l-.8-1.7-1.1-1.5-1.7-.8M280.1 211l-.4 .2M276.6 197.9l-.8 1.4-1.1 1.2-.8 1.5-1.1 1.2-1.8 .6-.6 1.7-1.5 .9-.8 1.4M265.1 207.9l1.7 .3M334.4 54.6l1.6-.5 1.3-1 1.5-.8 1.5-.6 1.6-.4M386.8 68l-.6 2M386.2 70l.5 1.9 1 1.6-.1 2.1 1.2 1.6M392.8 78l-2.1 0-1.9-.8M356.4 55.7l-1.7 .4-1.6 .8-1.7 .5M356.4 55.7l.9 1.6 .9 1.5 .2 1.9M353.7 64.3l-1.2-1.5-.3-1.9-1.2-1.5M357.2 52.5l-.9 1.5 .1 1.7M350.1 56l1.3 1.4M360.1 61.2l1.6-1 1.7-.7 1.5-.9M321.3 75.6l-.1 2.5M327.3 74.8l.5 1.9 1.1 1.8 .6 1.9M321.2 78.1l1 1.3 1.5 .8M329.5 80.4l-1.9-.3-1.9 0-2 .1M307.3 73l1.6 1.1 2 .4M297.9 75.3l1.3 1.1 .7 1.7 1.1 1.2 1.1 1.4 1 1.3M303.1 82l1.7-.2 1.6-.1 1.7 .3 1.7 .1M310.9 74.5l-.5 1.9-.4 1.9-.1 1.9-.1 1.9M314.4 71l-1.3 1.1-1.3 1-.9 1.4M297.9 88.8l.7-1.7 1.7-.8 .9-1.5 .5-1.7 1.4-1.1M312.8 85.7l-.6 1.8-.1 1.8-.4 1.8 .5 1.9-.3 1.9M312.8 85.7l-1.4-1.9-1.6-1.7M301 95.6l1.8-.5 1.8-.3 1.9 .3 1.8 .2 1.8 0 1.8-.4M312.8 85.7l2.7-1M315.5 84.7l1.5-1 1.2-1.3 .5-1.8 1.2-1.4 1.3-1.1M276.5 53l1.2 1.3 1.2 1.3 1.1 1.4 1.1 1.3M308.7 152l-.9-1.7-1.1-1.5-1.6-1.1M305.1 147.7l.7-1.6 .1-1.6 .3-1.6 .9-1.5 .7-1.5 .1-1.7M311.6 137.9l1.2 1.4 .7 1.7 1.8 .8 .7 1.8M311.6 137.9l-1.6-.2M310 137.7l-2.1 .5M284.2 147.9l1.7-1.6 1.9-1.2M296.8 155.1l.2-1.8 1.3-1.4 .2-1.7 .5-1.7M305.1 147.7l-2.4-.4-2.4 .4M365.3 148.2l.2-2M365.9 148.9l-.6-.7M368.3 149.1l.9-1.7 .6-1.9 .4-2M370.2 143.5l-.6-1.6-.4-1.6M369.2 140.3l-1.8 .6M350.9 145.8l.7-1.7 1.1-1.5M354.4 142.7l1.9 .7M363.9 138.2l-1.4 1.1-1.8 .3-1.7 .5-1.2 1.5-1.6 .7-1.8 .4M363.9 138.2l.7 1.7-.3 1.8M352.7 142.6l-.2-1.7-.2-1.7M338.1 142.2l-.2-1.8 .4-1.7-.1-1.7 .5-1.7M352.1 138.9l.2 .3M352.1 138.9l-1.4-.9-1.8 .1-1.5-.9-1.4-1-1.8 0-1.6-.5-1.3-1.2-1.7-.1M238.9 59.4l1.9-.9 2.1 .4 1.8-.8M238.9 59.4l1 1.7 0 2.1 1.5 1.4 .7 1.8 .6 1.8M244.7 58.1l1.7 0 1.3 1 1.7 .1 1.5 .8M242.7 68.2l1.7 1 1.9 .6M252.8 62.9l-.9 1.7-.9 1.7-1.6 1.1-.8 1.8M252.8 62.9l-1.4-1.2-.5-1.7M248.6 69.2l-2.3 .6M238 58.9l.9 .5M247.6 50.3l-.4 1.7-.4 1.6-1 1.4-.6 1.5-.5 1.6M231.8 68.6l.5 1.8 1.3 1.5 .3 1.9M233.9 73.8l1.3-1.2 1.5-.9 1.7-.5 1.2-1.4 1.7-.6 1.4-1M252.6 51.5l.4 1.9-1.3 1.4 .2 1.9-.1 1.7-.9 1.6M259 62.7l-2.1-.3-2.1 .5-2 0M257.4 76.5l-1.4-.9-.9-1.4-1.8-.5-.9-1.4-1.2-1.1-1.6-.6-1-1.4M245.5 75.7l-.3-2 .2-2 .9-1.9M233.9 73.8l-.2 .6M236.7 78.2l-1.1-1.1-1.1-1.3-.8-1.4M220.8 71.9l1.8 .4 1.3 1.3 1.7 .6 1.8 .3 1.5 1 1.7 .6M230.6 76.1l1.7-.5 1.4-1.2M247.9 105.4l0 1.9-.5 1.7-.4 1.8-.7 1.7 .7 2-.7 1.7M246.3 116.2l-1.5-1.1-.8-1.8-1.8-.9M220.1 115.6l2.1-1.1 2-1.1M220.1 115.6l-1.1 1.7-1.5 1.5-.9 1.9M224.2 113.4l1.9 .6 2.1-.2 1.9 .6M231.2 128.5l1.4-1.4 1.5-1.1 1.6-1.1M235.7 124.9l-.7-1.6-.9-1.4-1.2-1.3-.5-1.7-.5-1.6-1.4-1.2-.4-1.7M239.4 96.7l-1.6 .5M247.2 118.2l1.7 .4 1.2 1.2 1.5 .9 1.8 .3 1.5 .7 1.4 .9 1.6 .6 1.4 1 1.5 .7M247.2 118.2l1.3-.9 1.7-.5 1.2-1.1 1.4-1 1.6-.5 1.4-.8M255.8 113.4l1.5 1.1 1.8 .7M259.1 115.2l.4 1.6 .6 1.5 .1 1.6 .1 1.7 .3 1.5 .7 1.5M261.3 124.6l-.5 .3M256.8 105.6l-.7 1.9-.3 1.9 0 2 0 2M246.3 116.2l.5 2.1M246.8 118.3l.4-.1M266.8 124.3l-1.9-.3-1.8 .7-1.8-.1M242.8 138.6l-1.7 1-1.3 1.6-1.6 1.1M242.8 138.6l1.3 1 1.3 1 1.2 1.2 1.5 .6 1.4 .9 1.3 .9 1.5 .7 1.2 1.1M220.8 71.9l-.7 1.5-.8 1.5-.1 1.7M219.2 76.6l-1.6 .9-1.5 1-1.8 .2M214.3 78.7l-1.3-1.5-2.1-.5-.9-1.9-1.8-.8M213.8 80.4l.5-1.7M208.2 74l-.1 1.6 0 1.7-.5 1.7-.8 1.5 .7 1.8-.7 1.6M220.1 115.6l-.9-1.5-1.6-.8-1.4-1-.8-1.6-1.5-.9M224.2 113.4l-.2-1.8M208.9 118.7l.3-1.7-.7-1.8 .2-1.8 .3-1.7M230.1 114.4l1-1.3M142 218.1l.8 1.6-.7 1.8 .5 1.6 .1 1.7 .3 1.6 .8 1.6 .4 1.6 0 1.7M144.2 231.3l-1.8-.6M142 218.1l.9-1.5 1-1.5 1.2-1.3M159.5 51.3l-.3 2-.1 2M148.3 58.2l-.7-1.6-.7-1.6-.9-1.5-1.1-1.3-.9-1.5M481.8 119.1l0 3M481.8 122.1l-.6 1.6-1.2 1.2-.2 1.7-.9 1.4-.8 1.5-1.1 1.2M474.5 110l-2.5 1.1M472 111.1l-.3 1.6-1.1 1.3-.4 1.7-1.5 1-.7 1.5 .1 1.8-.8 1.5-1.2 1.2-.5 1.6-.3 1.6-1.4 1.2-.3 1.6-1.1 1.3-.1 1.8-1.1 1.3M477 130.7l-1.7 .2-1.6 .6-1.3 1.2-1.6 .3-1.7 .2-1.4 .9M457.7 133.7l1.9-.1M462.1 110.8l1.7 .3 1.6-.2 1.7-.4 1.6 .4 1.7 .1 1.6 .1M459.6 133.6l1.7-.5M490.9 60.6l-1.9-.1-1.8-.7M486 51.5l.6 1.6-.6 1.8 1.1 1.5-.2 1.8 .3 1.6M486 51.5l-1.5-.6M491.4 75.1l-1.7-.8-.9-1.5-1.4-1.1-.8-1.7-1.2-1.2-1.5-.9M483.1 81.3l-1.4-.8-1.2-1.2-1.3-.9-1-1.4-1.3-1M476.9 76l.7-1.4 1-1.3 1.2-1.1 .5-1.7 .8-1.4 1.1-1.2M487.2 59.8l-.7 1.8-1.4 1.2-1.4 1.1M475.6 51.6l-1 1.5-1.6 .9-.6 1.9-1.9 .6-1.2 1.2-1.1 1.4-1.1 1.5M479.7 64.6l-1.6-.2-1.4-1.2-1.8 .2-1.4-.9-1.7-.3-1.4-1-1.6-.3-1.7-.3M476.9 76l-2.3 1M473.6 89.1l.4-1.7-.5-1.8 .8-1.7 0-1.7-.3-1.8 0-1.7 .6-1.7M475.3 107.6l-.7-1.9-.7-1.9-1.1-1.7M472.8 102.1l.5-1.8-.1-1.7-.7-1.7 .8-1.8-.6-1.7-.3-1.7 .4-1.8M473.6 89.1l-.8 .8M461.4 50.7l-.7 1.6M467.1 60.6l-1.8-.2-1.8 .5M461.2 56.2l.3 1.8 1.1 1.4 .9 1.5M453.8 98.8l.1-1.8 .2-1.8M472.8 102.1l-1.4-1.3-1.8-.1-1.3-1.4-1.6-.6-1.9-.2-1.2-1.5-1.8-.3-1.3-1.2-1.6-.7-1.7-.5M454.1 95.2l1.5-.6 1.6-.3M472.8 89.9l-1.6-.6-1.6-.3-1.4-.9-1.7-.2-1.5-.8-1.6-.3M457.2 94.3l.7-1.6 1.4-.9 1-1.3 1-1.2 .9-1.4 1.2-1.1M474.6 77l-2.1-.2-1.8-1.3-2.2 0M468.5 75.5l-.7 1.6-1 1.6-1 1.5-1.3 1.3-1 1.5-.5 1.8M463.4 86.8l-.4-2M413.1 51.7l1.5-1.1 1.8-.2M409.8 58.3l1.7 .2 1.2 1.3 1.7 .2 1.3 .9 1.1 1.5 1.9-.2 1.3 1 1.4 .9 1.4 .8 1.5 .5 1.4 .8M409.8 58.3l1-1.6 .5-1.8 .8-1.6 1-1.6M425.7 66.2l1.1-1.4 1-1.4 1.3-1.2 1.4-1.1 1.1-1.3 1.2-1.3 .7-1.7M433.5 56.8l-.8-1.5-.6-1.6-.7-1.5M430.5 50.7l.9 1.5M397.7 55.3l.4-1.8 .6-1.6 .8-1.5M408.7 58.8l1.1-.5M373.9 139.2l0 1.7 .1 1.6 .7 1.5M376.5 152.9l.2-1.9-.5-1.8 .3-1.9-.4-1.8M374.7 144l1.4 1.5M391.2 148.8l-.1-1.7-.6-1.5-.7-1.5-.6-1.5-1.3-1.2-.2-1.7M387.7 139.7l-1.3 1.3-1.9 .2-1.3 1.2-1.4 .9M396 144.9l-.1-2.2 .5-2.2M388.9 136.9l.3-.1M388.9 136.9l-1.3 1.5M387.7 139.7l-.1-1.3M389.2 136.8l1.5 .6 1.3 1 1.6 .4 1.5 .8 1.3 .9M400.3 137.9l-1.8 .4-1.4 1.1M397.1 139.4l-.7 1.1M400.7 135.5l-1.6-.5-1.4-1.1M397.1 139.4l-.8-2-1.1-1.8M397.7 133.9l-2.5 1.7M389.2 136.8l1.9-1.1 2.1-.7M395.2 135.6l-2-.6M480.4 161l.8-1.7M479.3 158.2l.7-.1M480 158.1l1.2 1.2M486.3 154.1l-.3-.3M486.3 154.1l1.4-.7M487.7 153.4l-.5-1.6M487.2 151.8l-1.2 .4M486 153.8l0-1.6M487.8 155.7l0 .2M487.8 155.7l-1.5-1.4M486.3 154.3l-1 1.2M487.8 155.9l-.7 .7M487.1 156.6l-1.8-1.1M490.9 163.1l-1.2 1.9M491.7 159.6l-1.8 1.1M489.9 160.7l-1.3 1.3-.7 1.6M491.7 159.5l0 .1M491.7 159.5l-1-1.3M489.9 160.7l-.3-1.7M490.7 158.2l-1.1 .8M481.2 159.3l.5-.5M483.7 160.8l-.7-1.7M487.2 157.5l1.4 .5M487.2 157.5l-.9 1.6-.2 1.8M488.6 158l.1 .5M485.4 157.5l1.6-.4M485.4 157.5l-.3 1.3M487 157.1l.2 .4M485.1 158.8l1 2.1M485.8 163.7l.5-2M483 159.1l.6-.9M489.6 159l-.9-.5M304.4 208.5l1.2 1.4 1.9 .5 1.1 1.4 1.6 .9M247.4 184.2l-1.5 .9M247.9 199l-1.3-1.3-1.5-.7-1.7-.5M243.4 196.5l-1-1.3-.4-1.7-1-1.3M231.6 199.9l-1.4-1.8-.6-2.3M231.6 199.9l1.6-.7 1.8 0 1.7-.6 1.5-1 1.9 .3 1.5-1.2 1.8-.2M229.6 195.8l1.3-1.3 1.4-1.3M229.6 195.8l-1.5-.6-1.5-.6-1.4-.8M225.2 193.8l-1.2-1.4M225.2 193.8l-1.2 1.3-1.3 1.2-1 1.4-1.1 1.4-.6 1.7-1.1 1.3M213 195.2l1.2-1.2 1.5-1 1.1-1.4M213 195.2l1.5 1.1 .5 2 1.6 1 .9 1.6 1.4 1.2M209.3 195.5l1.9 .1 1.8-.4M143.3 193l1.8 .7 1.7-.6 1.8 .1M146.5 205l.2-1.8 .6-1.8 1.4-1.4 .5-1.8 .3-1.8 .6-1.7M150.1 194.7l-1.5-1.5M148.6 193.2l-.3-1.8-.6-1.8-.1-1.9M175.9 232.9l.6-1.8-.1-1.9-.8-1.9 .4-1.8 .6-1.8-.3-1.9M187.4 235.3l.6-1.5 .6-1.6 1-1.2 1.1-1.3 .9-1.3 .4-1.6 1.4-1.1 .4-1.7M193.8 224l-.7-1.6-1.7-.8-.4-1.9-1.8-.8-.8-1.6-1.2-1.2-.9-1.5M186.3 214.6l-1.5 1-1.6 .8-1.3 1.2-1.6 .7-1.3 1.3-1.3 1.2-1.4 1M162.3 226.7l1.5 1.2 .9 1.7 1.1 1.5 1.3 1.4 .5 1.9 1.3 1.3M164.8 217.5l2-.5 2 .5M176.3 221.8l-1.7-.4-1-1.8-1.7-.5-1.6-.7-1.5-.9M247.9 199l-.9 1.7 .4 2.1-.5 1.8-.6 1.9M231.6 199.9l0 1.9-.6 1.8-.1 1.8 .1 1.9M231 207.3l1.6 1.2 1.1 1.5M233.7 210l1.7-.3 1.6-.2 1.5-.5 1.5-.9 1.7 .1 1.4-1 1.6-.3 1.6-.4M218.9 202.1l0 1.8M231 207.3l-1.6 0-1.6 .4-1.7-.4-1.7 0-1.6 .6M218.9 203.9l1 1.6 1.5 1.2 1.4 1.2M208.6 196.1l-.2 1.8-.6 1.6-1 1.6 .1 1.8-.9 1.6-.7 1.6M159.5 238.9l-1.2 1-1.5 .8-1.1 1.2-1 1.3-1.6 .6-1.4 .9-.8 1.5-1.4 .9M159.5 238.9l-1.2-1.4-1.2-1.4-1.7-.9-.9-1.7-1.5-1.1-1.1-1.5M151.9 230.9l-1.7 1.3-2 .7-2.1 .5M146.1 233.4l0 1.7-.3 1.7-1.2 1.6 .2 1.7M144.8 240.1l.7 1.9 .2 2M145.7 244l1 1.4 1.2 1.1 1.6 .6M153.7 228.3l-1.8 2.6M165.4 238.3l-2-.1-1.9 .9-2-.2M144.2 231.3l1.9 2.1M143.1 239.5l1.7 .6M142.8 245.5l1.4-.9 1.5-.6M152.7 255l1.7 .7 1.4 1.5 1.7 .7 1.8 .6M152.7 255l-1.4 .8-1.6 .4-1.2 1.3-1.2 1.2-1.7 .4-1.4 .7-1.4 .9M159.3 258.5l.2 1.7-.7 1.6-.5 1.6-.6 1.6-.3 1.6-.3 1.6 .2 1.8M157.3 270l-1.6 .6-1.7 .2-1.6 0-1.8-.4-1.6 0-1.6 .7-1.7 .2-1.6 .3-1.7-.1M142.8 260.7l-.6 1.8 .5 1.8-.1 1.8 .1 1.8 .1 1.8-.4 1.8M162.4 257.6l-1.6 .2-1.5 .7M149.5 247.1l.6 1.6 .6 1.6 1.2 1.4 .3 1.7 .5 1.6M174.3 258.7l-.1 1.7 .8 1.6-.8 1.8 .9 1.6-.2 1.7 .3 1.6 0 1.7 .2 1.7M175.4 272.1l-1.2 1.2-1.6 .8-1.4 .9-1.5 .9M159.1 275l-.4-1.8-.5-1.7-.9-1.5M183.3 255.2l1.2 1.1 .9 1.5 1.7 .5 1 1.3 1.7 .6 .8 1.5 1.4 .9 .9 1.5 1.6 .5 1.1 1.3M195.6 265.9l1.9-.3 1.6-1.1 1.7-.9 2 0 1.6-1.1M191.3 243.1l1.6 .4 1.7-.5 1.5 .9 1.6-.1 1.6-.2 1.6 .9 1.6-.5 1.6 .2 1.6 .3M205.7 244.5l.7 1.7 1.1 1.5 1.4 1.3 .8 1.6 .8 1.7M210.5 252.3l-1.4 1.2-.4 1.7-1.2 1.3-.1 1.9-1.2 1.2-1.2 1.3-.6 1.6M309.7 251.1l-1.6-.8M308.1 250.3l-.2 0M327.1 63.4l1.8-.5 1.3 1.4 1.6 .3 1.7 0M334.4 54.6l.8 1.4 1.5 .9 .5 1.6 1.6 .9 .6 1.5M339.4 60.9l-1.3 1.3-1.8 .3-1.1 1.6-1.7 .5M428.9 123.1l-1.8-.2-1.5-1-1.4-1.1-1.9 .2-1.5-.8-1.3-1.4-2 .3-1.5-.9-1.5-1.1-1.5-.9-1.7-.2M412.3 134.2l-1.5-.8-.5-1.8-1.8-.4-.8-1.4M411.3 116l-.8 1.6-1.5 1.2-1.3 1.3-.4 1.9-1.2 1.4M407.3 128.2l.4 1.6M402.6 134l.2-.4M402.8 133.6l1.3-1.6 2.1-.8 1.5-1.4M399.5 92.5l-.4-1.8-.1-1.9-.5-1.8-.2-1.9 .3-1.9M399.5 92.5l1.5 .8 1.7 .1 1.7 0 1.5 .7M405.9 94.1l.6-1.6 .5-1.6 .4-1.7 1-1.4 .4-1.7 1.1-1.4 .3-1.7 .6-1.6 .7-1.6 1.1-1.4 .4-1.6M398.6 83.2l1.2-1.2 1.4-.9 1.1-1.3 1.5-.8 1.5-.8 .8-1.6 1.6-.8 1.1-1.2M408.8 74.6l1.9 1.4 2.3 .8M391.7 96.4l1.5-.8 1.6-.8 1.5-.8 1.8-.4 1.4-1.1M391.7 96.4l-.8-1.5-1.2-1.1-1-1.2-1.7-.7-.3-1.8-1.6-.8-.9-1.3-1.4-1-.8-1.4M382 85.6l.9-1.6 1.1-1.4 1.5-1.1 .7-1.7 1.8-.9 .8-1.7M392.8 78l1.7 1 .9 1.9 2 .7 1.2 1.6M406.5 70.8l1.2 1.9 1.1 1.9M424.3 75.1l-2.1 2.1M424.3 75.1l.7-1.7-.1-1.8 .8-1.8 0-1.8 0-1.8M422.2 77.2l-1.8 .5-1.9-.5-1.8 0-1.9 0-1.8-.4M411.5 103.8l-.7-1.7-1-1.5-.5-1.8-1.3-1.5-.3-1.8M411.5 103.8l1.8 0 1.7-.3 1.7-.8 1.8 .4 1.8-.4 1.5-1.3 1.8 .1 1.7-.3 1.8-.3M407.7 95.5l1.6-.4 1.3-1 1.5-.6 1.1-1.3 1.7-.4 1.4-.8 1.4-.6 1.5-.7 1.3-1 1.4-.7 1.3-1M427.1 100.9l.1-1.7-.6-1.8 .8-1.7-.4-1.7 .1-1.7M409.4 111.3l-1.8 .3-1.7-.5-1.7-.1-1.7-.2-1.7-.1M409.4 111.3l.7-1.8 .4-1.9 0-2 1-1.8M389.4 102l1.5 .9 1.1 1.6 1.6 .8 1.3 1.3 1.4 1.1 1.7 .8 1.6 .9 1.2 1.3M411.3 116l-.8-1.5-.3-1.7-.8-1.5M377.3 103.8l-.8-1.5 0-1.7-.5-1.6-.3-1.6-1.4-1.2 .3-1.9-.9-1.4M382 85.6l-2.4-.4-2.4 .2M389.4 102l-1.1 1.4-1.7 .7M377.2 85.4l-.6 1M376.6 86.4l-.3 1.8-.7 1.7-1.7 1.2-.2 1.8M365.4 106.6l-2.4-2.1M365.4 106.6l1.7-.6 1.7-.2 1.8-.2 1.7-.2 1.7-.6 1.8 .1M375.8 104.9l1.5-1.1M363 104.5l.5-1.7M363.5 102.8l1.2-1.3 1.1-1.5 1.1-1.4 1-1.5 1.4-1.2 1-1.5 1.5-1.1M373.7 92.9l-1.9 .4M360.1 61.2l.8 2 1 1.8 .6 2M366.7 59.2l.6 1.8 .9 1.7 1 1.6M362.5 67l1.8-.5 1.6-.7 1.7-.5 1.6-1M378.5 59l-1.4 1.3-.8 1.6-1 1.5-1.4 1.2-1.3 1.3M372.6 65.9l-1.7-.8-1.7-.8M352.8 71.4l.4 .4M352.8 71.4l-1.8 .2-1.5 .7-1.7 .4-1.4 1.2-1.7 .4M353.2 71.8l-.6 1.6-1 1.4-.5 1.6-1.5 1.1-.3 1.8-.6 1.5-1.1 1.4M347.6 82.2l-.7 .4M344.7 74.3l0 2 .6 1.8 .8 1.8 0 1.9M346.9 82.6l-.8-.8M329.5 72.3l2.2 .6M329.5 80.4l1.7 1.2M331.2 81.6l.8-1.6 .9-1.6M345.4 87.9l.2-1.9 1-1.6 .3-1.8M345.4 87.9l-1.4-1.3-1.7-.8-1.4-1.3-1.9-.6-1.3-1.5M346.1 81.8l-1.4-1.1-1.9 .1-1.2-1.5-1.8-.3M337.7 82.4l.6-1.9 1.5-1.5M316.6 85l1.9-.4 1.9 .1 1.9-.5 2 .3M316.6 85l1.4 1.2 1.9 .4 1.3 1.3 1.5 1.1 1.7 .7M324.3 84.5l1.4 1.1 1.4 1 .9 1.5M324.4 89.7l1.8-.9 1.8-.7M315.5 84.7l1.1 .3M323.7 80.2l.5 2.1 .1 2.2M301.2 134.8l-.7-2.1-.1-2.3M301.2 134.8l-1.1 1.4-1.8 .5-1.1 1.3M300.4 130.4l-1.6 .5-1.6-.5-1.6 .1-1.6-.2-1.6 .3-1.6-.4M297.2 138l-1.6 .2-1.6 .7-1.7-.3-1.6 .8M290.7 139.4l-.8-1.6-1.1-1.4-.2-1.8-.8-1.6M287.8 133l1.2-1.7 1.8-1.1M300.4 130.4M310.8 125.7l.3 1.8-.9 1.6 0 1.7 .3 1.8-.3 1.7-.5 1.6 .3 1.8M307.9 138.2l-1.8-.7-1.3-1.5-2-.2-1.6-1M300.3 147.7l-.2-1.7-1-1.5-.6-1.6-.4-1.6-.2-1.7-.7-1.6M292.2 118.9l-.2 1.6-.3 1.6 0 1.7-.4 1.5-.4 1.6 .5 1.7-.6 1.6M297.3 117.5l.9 1.5-.3 1.8 1 1.5 .3 1.6 .1 1.7 .6 1.5 .3 1.6 .2 1.7M287.8 145.1l.9-1.4 .2-1.7 .7-1.4 1.1-1.2M285 131.8l2.8 1.2M326.2 139l-.1-1.5M338.7 135.3l-1.7-.1-1.6-.8-1.8 .8-1.6-.8-1.7-.1M330.3 134.3l-1.3 1.1-1.7 .8-1.2 1.3M316.3 135l1.8-.2 1.6 .9 1.8 .1 1.7 .7 1.8-.1M316.3 135l-1.3 1.3-1.7 .8-1.7 .8M325 136.4l1.1 1.1M331.2 81.6l.9 2.8M328 88.1l.1 0M328.1 88.1l1.6-1 .7-1.9 1.7-.8M332.9 78.4l1.3-1.1 1.6-.7 1.7-.4 1.6-.5M339.1 75.7l.4 1.6 .3 1.7M333.3 84.6l-1.2-.2M219.2 76.6l.4 1.7 1.7 .8M230.6 76.1l-.9 1.6-.7 1.6M239.5 125.1l2-.8 1.6-1.5M239.5 125.1l.3 1.7 .7 1.5 1.5 1.2 .4 1.7 .8 1.5M243.1 122.8l1.3 .9 1.6 .5 1.4 .9 1.3 .9 1.2 1.2 1.6 .4 1.1 1.3 1.9 .1 .9 1.5 1.6 .5M243.2 132.7l1.6 .8 1.8 .1 1.6 .7 1.9-.2 1.7 .4 1.5 1.3 1.8 .2 1.8 .3M256.9 136.3l-.5-1.8 .5-1.8 .1-1.7M246.8 118.3l-1.1 1.6-1 1.7-1.6 1.2M235.7 124.9l1.8 .5 2-.3M242.8 138.6l.4-2-.3-1.9 .3-2M260.8 124.9l-.9 1.5-1.3 1.3-.3 1.9-1.3 1.4M257.5 137.9l-.6-1.6M199.3 117.9l1.8 .3 1.7 .7 1.5 1.1 1.8 .2M464.9 147.1l-.8 1.8-.6 2-.3 2M463.2 152.9l-1 1.6M459.6 133.6l1.4 1.9 .7 2.3M456.8 52.1l-.3-1.7M433.5 56.8l1.8 .9 2.1-.1 1.9 .8M431.4 52.2l1-1.4M468.5 75.5l-1-1.5-1.4-1.2-.7-1.7-1.6-1-1.1-1.4-1.2-1.3M463.5 60.9l-.6 2-.9 1.9-.5 2.1M461.5 67.4l0-.5M461.5 66.9l-1.7 .2-1.6-.8-1.7 .1-1.7 .3-1.6-.7-1.7 .3-1.6-.7-1.6-.3-1.7 .1-1.7 .1-1.6-.1M445 89.6l1.6 0M445 89.6l-1.3-1.3-1.9-.4M446.6 89.6l.6-1.6 1.2-1.2 .6-1.5 .8-1.5 .9-1.4 .9-1.4 .6-1.6 1.2-1.1M441.8 87.9l-1.3-2.9M443.4 71.8l1.3 1.1 1.8 .3 1.2 1.3 1.6 .6 1.2 1.1 1.7 .4 1.2 1.2M453.4 78.3l0-.5M436.2 107.5l.3-1.7 1.4-1.2 .5-1.6 .9-1.4 .8-1.4 .6-1.6 .7-1.5 1.1-1.3 .7-1.5 .2-1.8 1.4-1.1 .2-1.8M454.1 95.2l-1.4-1.2-1.5-1.2-1.9-.6-1.2-1.5-1.5-1.1M427.1 92.3l1.7-.4 1.5-.8 1.7-.2 1.8-.1 1.5-1 1.5-.8 1.9 .3 1.4-1.3 1.7-.1M463 84.8l-1.7-.5-1.3-1-1-1.5-1.3-.9-1.3-1.2-1.5-.6-1.5-.8M424.3 75.1l.2 .1M443.3 65.4l-.4 2.1 .5 2.1 0 2.2M461.5 67.4l-.9 1.4-1.3 1-.7 1.6-1 1.3-1.1 1.2-1 1.4-1.3 1-.8 1.5M363.9 138.2l1.8-2.3M352.3 139.2l1.3-1.1 1.5-.9 1.1-1.4 1.7-.7 1.2-1.2 1.6-.8M360.7 133.1l1.3 .9 1.4 .8 1.6 .5M365 135.3l.7 .6M367.7 137.4l-1.9-1.5M367.7 137.4l1.6 2.6M365.7 135.9l.1 0M350.7 128.8l1.7-.6 1.8-.3 1.8-.1 1.7-.7 1.9 .1M350.7 128.8l-.2 1.7 .4 1.7 .4 1.7 .6 1.6 .3 1.7-.1 1.7M360.7 133.1l.1-1.7 .3-1.6-.6-1.7M359.6 127.2l.9 .9M365 135.3l.6-2 .4-1.9-.3-2.1 .6-1.9M360.5 128.1l2 .1 1.8-.9 2 .1M364.9 112.8l-1.7 .3-1.6 .7-1.6 .5-1.5 1.2-1.9-.2-1.3 1.4-1.8 .2M353.3 117.9l.2-1M353.3 117.9l1.9 .7 1.2 1.6 1.6 1.1 1.6 1.1M359.6 122.4l1.5-1 1.7-.5 1.7-.5 1.1-1.7 1.8-.4M387.6 138.4l-1.9-.2-1.7-.9M381 142.8l.2-1.6-.3-1.6 .1-1.7M384 137.3l-3 .6M367.7 137.4l1.4-1.3 1.6-.9 1.8-.5M372.5 134.7l1.3 .9 1 1.3M373.9 139.2l1.2-1.2M374.8 136.9l.3 1.1M378.2 143.1l-.7-2.3-.1-2.3M375.1 138l2.3 .5M381 137.9l-1.4-.3M377.4 138.5l2.2-.9M473.6 155.3l1.2-1M473.6 155.3l-.7-1.4M472.9 153.9l1.3-.5M474.8 154.3l-.6-.9M474.4 152.9l-.2 .5M474.4 152.9l.8-.4M475.4 154.5l1-1M475.4 154.5l-.6-.2M476.4 153.5l-.2-.4M475.2 152.5l1 .6M472.7 155.9l.9-.3M471.6 155l.3-1.2M473.6 155.6l0-.3M471.9 153.8l.7-.1M482.2 137.2l-1.1 1.7M482.2 137.2l3.2 .2M481.1 138.9l.3 2M481.7 141.6l1.8 1.7M485.4 137.4l-.5 2.3 .4 2.4M483.5 143.3l1.2-.3M485.3 142.1l-.6 .9M481.7 141.6l.5 3.1M483.5 143.3l-.3 1.1M483.2 144.4l-1 .3M480.3 143.8l1.3 1.2M480.3 143.8l1.1-2.9M481.6 145l.4 0M481.8 122.1l1.1 1.4 1.7 .8 1 1.6 1.1 1.4 1.5 1 1.1 1.4 .9 1.6 1.1 1.4M477 130.7l1.4 1 .9 1.4 .8 1.6 1.4 1 .7 1.5M486.7 137.1l-1.3 .3M486.7 137.1l1.5-1 1.7-.4 1.5-1M473.6 155.6l1 1M475.4 154.5l.4 1.1M475.8 155.6l-1.2 1M478.1 157.7l-1-1.6M477.1 158.8l-1-1.3M477.1 156.1l-1 1.4M473.8 163l.3-1.9 .7-1.8 .5-1.9M475.3 157.4l-.7-.8M475.3 157.4l.8 .1M476.7 149.2l.8-1.4M476.7 149.2l-1.2-.4M477.5 147.8l-.6-.6M476.9 147.2l-1.3 .6M475.6 147.8l-.2 .8M475.5 148.8l-.1-.2M485.4 157.5l-.5-.6M487 157.1l.1-.5M485.3 155.5l-.1 .1M483.6 158.2l-.3-1M484.9 156.9l-1.6 .3M491 157.2l-.3 .4M491 157.2l-.4-1.5M488.9 156.1l.5-.4M490.7 158.2l0-.6M492.2 155.4l-1-.4M488.6 158l.7-.8M157.7 197l1.3-1.4 2-.4 1.5-1.2 1.5-1.2 1.2-1.4M157.7 197l-1.5-1.3-2-.6-1.6-1M152.6 194.1l1.3-1.3 .3-1.9 .6-1.7M165.2 191.4l-1.5-2.8M158.7 206l.2-1.9-.5-1.7-.3-1.8-.1-1.8-.3-1.8M150.1 194.7l2.5-.6M186.3 210l-1.2-2.5M186.3 210l.3 2.3-.3 2.3M168.8 217.5l1.3-1.3 .5-1.8 .6-1.7 .9-1.5 1.1-1.4 1.2-1.3 .6-1.7 1.2-1.3M185.1 207.5l-1.7-.6-1.8-.5-1.9 .3-1.7-1-1.8-.2M161.3 206.8l1.4-1.2 1.9-.4 1.5-1.1 1.7-.7 1.4-1.2 1.5-1M176.2 205.5l-1.7-.7-1-1.5-1.7-.7-1.1-1.4M170.7 201.2l-.1-1.7-.2-1.6 .5-1.6-.6-1.6M176.6 188.1l-.9 1.5-.7 1.6M170.3 194.7l1.7-1.1 1.5-1.2 1.5-1.2M260.4 212l.5 1.5 .5 1.6-.7 1.8 .7 1.5 .3 1.6 .6 1.6 .4 1.6-.5 1.7 .6 1.6M260.4 212l-1.6-.4-1.6 .9-1.6 .2-1.7-.1-1.6 0-1.6 .2M250.7 212.8l-.5 1.8-.6 1.8-.6 1.8-.7 1.8M248.3 220l.8 1.6 1.6 1 .8 1.6 .6 1.7M262.8 226.5l-.3 .4M265.1 207.9l-1.8 1.1-1.6 1.3-1.3 1.7M272.3 221.8l-1.5 1-1.8 .3-1.2 1.6-1.9 .1-1.3 1.4-1.8 .3M246.3 206.5l.7 1.8 1.6 1.2 1.2 1.5 .9 1.8M233.7 210l.6 2 0 2-.5 2M233.8 216l1 1.5 .7 1.7 1.3 1.3 1.1 1.4M264 232.9l-.4 1.7-1 1.5-.9 1.6-.8 1.6-.1 1.9-.9 1.5M258 256.6l.3-1.7M205.7 207.9l-.2 .4M205.5 208.3l.1 1.8 .8 1.5 .7 1.6 .3 1.7-.2 1.9 .9 1.5M219.6 214l-1.5 1-1.8 .3-1.7 .5-1.4 1.2-1.7 .4-1.7 .4-1.7 .5M219.6 214l1.2 1.1 .9 1.5 1.5 .8 .5 1.7 1.3 1.1M179.9 275.2l1.4-1.1 1.9-.3 1.4-1 1.6-.7 1.6-.7 1.1-1.5 1.7-.6 1.8-.3 1.4-1.2 1.5-.9M195.3 266.9l.1 2 .7 2-.3 2.1M195.8 273l-1 1.4-.6 1.6M175.4 272.1l1.4 1.1 1.8 .7 1.3 1.3M204.4 262.5l1.3 1.2 .4 1.9 1.2 1.2 1.3 1.2 1.3 1.2 .8 1.6 .6 1.7 1 1.4 1.3 1.2M198 275.6l-1.3-1.1-.9-1.5M342.9 61.4l-.1 0M342.9 61.4l1.7 .5M342.8 61.4l-.3 2.1 0 2-.5 2M344.6 61.9l1.2 1.5 1.9 .6 1.8 .8 1.4 1.3 1.4 1.3M342 67.5l1.4 .9 1.8-.2 1.3 1.2 1.7 .2 1.5 .5 1.5 .7 1.5 .5M352.7 71.3l0-2-.4-1.9M344.3 57.9l-1.1 1.6-.3 1.9M339.4 60.9l1.7-.1 1.7 .6M351 59.4l-1.7 .4-1.7 .3-1.5 1-1.5 .8M353.7 64.3l-1.1 1.4-.3 1.7M352.8 71.4l-.1-.1M355.6 72.8l1.7-.7 1.6 0 1.8 .2M362.5 67l-.7 1.7-.1 2-1 1.6M341.4 68.3l-1.6-.8-1.8-.1-1.6-.7-1.7-.2M341.4 68.3l-.2 1.8-.3 1.7-.7 1.7M340.2 73.5l-.7 .5M339.5 74l-1.6-.6-1.2-1.3-1.8-.3M334.9 71.8l.2-1.7-.6-1.8 .2-1.8M333.5 64.6l1.2 1.9M342 67.5l-.6 .8M344.7 74.3l-2.2-.8-2.3 0M339.1 75.7l.4-1.7M331.7 72.9l1.4-1.1 1.8 0M400.8 110.7l-1.2 1.4-.8 1.6-1.7 .9-1.1 1.4-.9 1.6-1.4 1.1M406.1 123.4l-2 .1M397.6 122.1l-1.2-1.2-1.1-1.4-1.6-.8M386.6 111.8l1.3 1.2 .4 1.8 1.6 1 .3 1.9 1.3 1.1M391.5 118.8l2.2-.1M376.9 120.5l1.5 1 1.8-.1 1.7 .3 1.4 1 1.7 .5M376.9 120.5l.9-1.5 1.3-1 1.6-.7 1.1-1.1 .9-1.5 1.2-1.1 1.5-.8 1.2-1M385 123.2l1.9-.9 2.3 0M391.5 118.8l-1.2 1.8-1.1 1.7M345.4 88.3l0-.4M345.4 88.3l1.8-.7 1.9 .3 1.8 .1 1.8-.3 1.8-.4M347.6 82.2l1.8 .6 1.7 0 1.8 0M354.5 87.3l-1.1-2.2-.5-2.3M355.6 72.8l0 .1M355.6 72.9l-.5 1.5-.3 1.6 .3 1.7-1.2 1.4 .2 1.7-.6 1.5M353.5 82.3l-.6 .5M355.6 72.9l.8 1.5 .4 1.6-.2 1.8 1.1 1.4 .7 1.5-.1 1.8M369.2 81.6l-1.7 .3-1.5 .9-1.3 1.1M364.7 83.9l-1.5-1.2-1.8-.1M377.2 85.4l-.9-1.5-1.2-1.4-1.1-1.4M374 81.1l-1.6 .1-1.7-.2-1.5 .6M376.6 86.4l-1.8-.2-1.5 1.2-1.9-.7-1.6 .8-1.7-.1-1.6 .8-1.8 0M364.7 88.2l.2-2.2-.2-2.1M360.7 72.3l.6 .5M361.3 72.8l.2 2.4 1.1 2.1M358.3 82.5l1.1 .9M359.4 83.4l2-.8M371.8 93.3l-1.9-.6-2 .5-1.9-.6M364.7 88.2l-.3 .4M364.4 88.6l.3 2.2 1.3 1.8M363.7 94.7l2.3-2.1M373.7 78.5l-1.6-.6-1.2-1.1-1.5-.7-1.3-1.1-.9-1.4-1.6-.6M373.7 78.5l.9-1.5 .3-1.7 .8-1.6 .4-1.6M365.6 73l1.3-1 .8-1.5 1.2-1.1 1.7-.6 1-1.3 1-1.3M376.1 72.1l-.5-1.7-1-1.4-1.1-1.3-.9-1.5M374 81.1l-.3-2.6M361.3 72.8l2.1 .1 2.2 .1M386.2 70l-1.7 .4-1.7 .2-1.6 .9-1.7 0-1.8-.1-1.6 .7M372.6 65.9l0 .3M196.3 83.7l-1.8 .4-1.8-.7-1.8 .1M190.9 83.5l-1.5 1.5-1.7 1.5M205.9 73.3l-1 1.5-.6 1.7-1.2 1.2-1.1 1.4-1.7 .9-.4 1.8-1.3 1.3M196 80.1l0 1.8 .3 1.8M186 85.9l1.7 .6M464.3 144.1l1.8 .9 1.9 .9M461.7 137.8l1.3 1.1 .7 1.6 1.3 1.1 1.2 1.2 1.2 1 1.3 1.1M468.7 144.9l-.7 1M464.9 147.1l2 .3M466.9 147.4l1.3-.8M468 145.9l.2 .7M359.6 127.2l.4-1.6-.2-1.6-.2-1.6M367.4 118.3l1.8 1.5 2 1.2M371.2 121l-1 1.6-.2 1.9-1 1.6M375.8 104.9l-.4 1.7 .5 1.7-.1 1.7-.3 1.8 .7 1.7-.5 1.7 .5 1.8-.7 1.7 .3 1.7M371.2 121l2.3-.1 2.3-.5M376.9 120.5l-.6 .1M375.8 120.4l.5 .2M388.2 131.6l-.5-.7M384 137.3l-1-2.1-.4-2.2M387.7 130.9l-2.6-.8M382.6 133l1.7-1.1 .8-1.8M385 123.2l-.7 1.8 .3 2-.4 1.8M389.2 122.3l.5 1.6 .5 1.5M385.1 130.1l-.9-1.3M377.3 124.7l-.6-2-.4-2.1M377.3 124.7l1.3 1.1 .2 1.8 1.3 1.1M384.2 128.8l-2 0-2.1-.1M382.6 133l-1.1-.3M379.1 134.1l2.4-1.4M380.1 128.7l-.2 1.3M379.9 130l1.6 2.7M480.3 146l-.8-.8M480.3 146l-.1 1M480.2 147l0 .1M478.8 146.9l1.4 .2M478.8 146.9l-.5-1.2M478.3 145.7l1.2-.5M480.3 146l1.3-1M479.5 145.2l0-1M481.1 138.9l-1.7 .7-1.6 1.1M477.8 140.7l.8 3M479.5 144.2l-.9-.5M473.8 140.4l1.1 1.8 1 1.8M473.8 140.4l1.9 .6 2-.3M477.7 140.7l-.7 1.7-.3 1.7M475.9 144l.8 .1M468.7 144.9l.7 0M477.8 140.7l-.1 0M473.8 140.4l-.4-.1M470.8 138.3l.1 .1M470.9 138.4l1.4 1.2M473.4 140.3l-1.1-.7M468.3 153.1l1.2-1.2M470.2 152l.3 1.4M471.9 153.8l-.5-.3M470.5 153.4l.9 .1M474.4 152.9l-1.2-1M472.6 153.7l.5-1.8M473.2 151.9l-.1 0M475.2 152.5l-.1-1M473.2 151.9l1.2-.7M475.2 149.8l-1 .3M475.2 149.8l.3-1M475.4 148.6l-1.6 0M473.8 148.6l-.2 1.1M474.2 150.1l-.6-.4M478.6 157.7l.7-1.4M480 158.1l.7-1.1M480.7 157l-.7-.7M479.3 156.3l.7 0M481.7 158.8l.2-1.4M480.7 157l.8 .1M481.9 157.4l-.4-.3M483.3 157.2l-.1-.1M481.9 157.4l1.3-.3M486.7 137.1l0 2.1 1.1 1.9 .4 2M485.3 142.1l1.3 1.7M488.2 143.1l-1.6 .7M491.9 149.8l-.5-1.3M490.6 150.2l-.7-.9M490.6 150.2l-1.4 1.2M489.2 151.4l-.6-1.7M489.9 149.3l-1.3 .4M487.1 150.4l1.2-.8M486.3 149.9l.3-1.6M486.8 148.2l-.2 .1M486.8 148.2l1.2 .3M489.2 151.6l0-.2M487.1 150.4l.2 1.2M488.3 149.6l.3 .1M485.5 146.3l-.2 .1M485.5 146.3l-.2-1.6M485.3 146.4l-1 0M483.9 144.7l.1 1.4M483.9 144.7l.9-.3M484.3 146.4l-.3-.3M485.3 144.7l-.5-.3M484.8 148.5l.4-.4M484.8 148.5l-1.1-.9M485.2 148.1l.1-1.7M483.7 147.6l.6-1.2M483.2 144.4l.7 .3M482 145l.4 1.1M482.4 146.1l1.6 0M484.7 143l.1 1.4M486.4 144.1l.2-.3M491.9 149.8l-.1 .3M491.8 153.3l.3-.8M491.2 155l-.3-1.2M490.9 153.8l.9-.5M491.2 151.6l.9 .9M491.2 151.6l.1-1.2M491.3 150.4l.5-.3M490.8 153.8l-1-1.4M490.8 153.8l-1.4 .7M489.4 154.5l-1-.6M489.6 152.3l-1.3 1.3M489.6 152.3l.2 .1M488.4 153.9l-.1-.3M490.9 153.8l-.1 0M491.2 151.6l-1.4 .8M489.4 155.7l0-1.2M487.8 155.7l.6-1.8M487.7 153.4l.6 .2M489.2 151.6l.4 .7M490.6 150.2l.7 .2M486.3 154.1l0 .2M185.7 206l.4-1.8-.6-1.8-.2-1.7-.2-1.8-.1-1.8M185.7 206l1.1-1.3 1.3-1.1 1.5-.7 1.2-1.1 1.6-.7 1.1-1.3 1.6-.5 1.3-1M185 197.1l1.2-1.5 .8-1.7 .9-1.6 .7-1.8M196.4 198.3l-.2-1.7 .2-1.6 .9-1.5-.3-1.6M197 191.9l-1.1-1.3M185.1 207.5l.6-1.5M175 191.2l1.6 .6 1.5 .7 1.3 1.2 1.4 .7 1.5 .8 1.2 1.3 1.5 .6M205.3 206.1l-1.3-1-1.1-1.4-1.6-.7-1.3-1.1-.8-1.6-1.5-.9-1.3-1.1M186.3 210l1.6-.4 1.6 .3 1.6-.1 1.6-.7 1.6 .2 1.6-.4 1.6-.1 1.6 .3 1.6-.8 1.6 .4 1.6-.1 1.6-.3M197.7 191.7l-.7 .2M251.4 271.2l-1.8 .2-1.5 1.1-1.8 .3-1.8 .3-1.3 1.4-1.8 .4M254.6 265.9l-.2-1.8-.8-1.4M241.4 274.9l-.1-2-1.3-1.7 .1-2.1-.7-1.9M253.6 262.7l-1.6 .4-1.7 .2-1.5 .7-1.7 .2-1.5 .8-1.5 .5-1.6 .6-1.5 .8-1.6 .3M258 256.6l-1.7 .9-.9 1.9-1.7 .9M253.6 262.7l.1-2.4M247 247.2l-1.8 .4-1.3 1.4-1.9 0-1.6 .8-1.5 1.1M247 247.2l.8 1.4 0 1.7 .8 1.4 .7 1.5 .7 1.5 .3 1.6 .4 1.5M238.9 250.9l1.1 1.6 .7 1.9 .4 2 1.2 1.6M250.7 257.8l-1.7-.3-1.7 .8-1.6-.6-1.7 .4-1.7-.1M248.7 232.1l0 2 .1 1.9 1 1.8-.3 2 .4 1.9M248.7 232.1l-1.7 .1-1.4-1.3-1.8 .4-1.4-1-1.7-.2-1.7 .1-1.6-.5-1.5-.5M233.8 237.6l1.7 .3 1.5 .7 1.5 .6 1.8-.2 1.4 1.1 1.8-.5 1.6 .5 1.4 .9 1.6 .4 1.7 .3M233.8 237.6l.6-1.8-.1-1.8-.1-1.9 .7-1.8M249.9 241.7l-.1 0M235.9 229.2l-1 1.1M259.9 242.7l-1.7 .4-1.7-.3-1.6-.8-1.7 0-1.6-.4-1.7 .1M237.9 221.9l-.9 1.7-.5 1.9 .4 2-1 1.7M247 247.2l1-1.8 .4-2.1 1.4-1.6M238.9 250.9l-1.8 .1-1.5-1-1.8 0M233.8 250l-.5-1.8-.8-1.7-1.1-1.6-.3-1.8-.4-1.9M230.7 241.2l1.5-1.8 1.6-1.8M224.5 226.5l-.9 1.5-.3 1.9-1.4 1.3-1 1.5-.4 1.8M224.5 226.5l-.9-1.9M220.5 234.5l-1.6 .1-1.6-.7-1.7 .8-1.6-.6-1.6 .1-1.6 .1-1.6-.5M209.2 233.8l-.9-1.6-.1-1.8-.6-1.6-.1-1.8-.1-1.8-.7-1.7M206.7 223.5l0-.1M227 241l1.9 .1 1.8 .1M227 241l-1.1-1.4-1.8-.8-.9-1.8-1.7-.9-1-1.6M234.9 230.3l-1.6-1-1.7-.6-2 .1-1.6-1.1-1.9-.2-1.6-1M225 220.2l-.4 2.3-1 2.1M205.7 244.5l.9-1.4-.1-1.7 .7-1.5 .5-1.5 .1-1.7 .6-1.4 .8-1.5M210.5 252.3l1.4 .2M211.9 252.5l1.5-1 1.5-.9 .9-1.6 1.3-1.1 2-.2 .8-1.9 2-.2 .8-1.7 1.8-.5 1.3-1.2 1.2-1.2M224.8 269.1l1.6-.4 1.6-.3 1.7 .1 1.6-.2 1.5-.5 1.6-.2 1.7 .3 1.6-.7 1.6-.1M224.8 269.1l.2-1.7-.2-1.6-.4-1.6-.5-1.6-.3-1.6 .1-1.6M230.2 256.1l-1.6 .9-1.6 .9-1.9 .3-1.4 1.2M230.2 256.1l1.6 1 1.4 1.2 1 1.7 1.7 .9 1.3 1.3 1.5 1.2M238.7 263.4l.6 1.8 0 1.9M222.8 275.4l-.1-1.8 1.2-1.4 .6-1.5 .3-1.6M239.4 267.2l-.1-.1M211.9 252.5l1.5 .9 1.3 1.1 1.7 .5 1.4 1 1.5 .8 1.5 .7 1.3 1.3 1.6 .6M233.8 250l-1.2 1.3-.9 1.6-.7 1.6-.8 1.6M242.3 258l-.7 1.5-1.3 1-1.1 1.3-.5 1.6M393.7 132.6l-1.1-2.1M397.2 131l.7-2M397.9 129l-.1-1.4M399 125.8l-1.2 1.8M390.2 125.4l1.8 1.2 1.7 1.3M388.2 131.6l2.1-1 2.3-.1M397.7 133.9l-.5-2.9M393.2 135l.5-2.4M358.5 86.6l-1.4 .8-1.6 .5M360.9 88.8l0 2.2-.9 1.9M355.5 87.9l-.8 1.9 .3 1.9M355 91.7l1.6 2.6M356.6 94.3l1.6-1 1.8-.4M354.5 87.3l1 .6M359.4 83.4l-1 1.5 .1 1.7M364.4 88.6l-1.7-.3-1.8 .5M363.7 94.7l-2-.5-1.7-1.3M363 104.5l-2.5-.5M360.5 104l-1.2-1.2-.5-1.6-1.2-1.1-.3-1.8-1.3-1.1M311.9 94.9l.3 .3M311.8 104.7l-.1-1.9 .6-1.9-.5-1.9 .9-1.9-.5-1.9M311.1 125.3l.1-1.7-.2-1.7 .6-1.7 .2-1.7M311.8 118.5l1.4-1.2 1.9-.4 1.5-1.3 1.6-.8M316.9 129.8l1.2-1.2 1.9 .1 1.1-1.4 1.6-.4M318.3 114.8l1.4 1 1.5 .8 1.3 1.2 1 1.6 1.7 .7M322.7 126.9l1.1-1.5 .4-1.8 .9-1.7 .1-1.8M298.8 116l1.5 .6 1.8-.4 1.6 .5 1.5 .9 1.6 .2 1.7 .1 1.6 .6 1.7 0M310.8 125.7l.3-.4M316.3 135l-.3-1.8 1-1.7-.1-1.7M311.8 104.7l.7 1.5 1.4 1.2 1 1.4 .5 1.7 1.4 1.1 .8 1.5 .6 1.7M325 136.4l-.7-1.5-.1-1.6 .1-1.7-.4-1.6-1-1.4-.2-1.7M350.7 128.8l-1.3-1.2-.9-1.5M339.6 134.4l.3-1.7-.2-1.7 1.1-1.5-.1-1.8M353.3 117.9l-1.2 1.3-1.2 1.4-1.3 1.3M348.5 126.1l.3-2.2 .8-2M330.3 134.3l.6-1.5 0-1.7 0-1.6 .7-1.6 0-1.6 .2-1.6M325.2 120.1l2.6 .2M331.8 124.7l-1.5-1.3-1.4-1.4-1.1-1.7M340.7 127.7l-.9-.7M331.8 124.7l1.7 .1 1.4 1.3 1.6 .3 1.7 .1 1.6 .5M345.4 88.3l-.1 .3M333.3 84.6l1.2 1.9 1.7 1.4M345.3 88.6l-2.8 .9M356 97.2l-1.7 .2-1.7-.2-1.7 .5M355 91.7l-1.8-.4-1.7 .5-1.7 .5-1.7-.1M345.3 88.6l1.2 2.5M348.1 92.2l-1.6-1.1M369.1 132.3l.7-2.3-.2-2.3M369.1 132.3l1.9 .5 1.4 1.2M369.6 127.7l1.5 1.2 1.1 1.5 1.6 .9M372.4 134l1.4-2.7M365.8 135.9l.9-1.3 1-1.4 1.4-.9M369 126.1l.6 1.6M376.3 134l2.4-.2M376.3 134l-1.1-2.8M378.7 133.8l-.5-2.4M378.2 131.4l-2.9-.3M375.3 131.1l-.1 .1M374.8 136.9l.6-1.5 .9-1.4M379.1 134.1l-.4-.3M373.8 131.3l1.4-.1M379.9 130l-1.7 1.4M377.3 124.7l-.6 1.6-.1 1.7-1.1 1.5-.2 1.6M469.1 150.3l.1-.1M469.1 150.3l-1.6 .6-1.7 .4M469.2 150.2l-.8-1.7M465.8 151.3l1.2-1.3 .9-1.5M467.9 148.5l.5 0M463.2 152.9l2.6-1.6M469.5 151.9l-.4-1.6M468.8 148.1l-.4 .4M468.8 148.1l1.3 .1M470.1 148.2l.3 .9M470.4 149.1l-.2 .8M470.2 149.9l-1 .3M466.9 147.4l1 1.1M468.2 146.6l.5 .2M468.7 146.8l.1 1.3M476.8 147l-.8-1.1M476.8 147l1.3-1.4M476 145.9l1.3-1.2M478.1 145.6l-.6-.9M477.5 144.7l-.2 0M477.5 147.8l.4 .1M476.9 147.2l-.1-.2M477.9 147.9l.9-1M478.3 145.7l-.2-.1M478.6 143.7l-1.1 1M476.7 144.1l.6 .6M475.9 144l-.6 .7M473.4 140.3l.8 1.9-.2 2.2M474 144.4l1.3 .3M476 145.9l-.4-.1M475.3 144.7l.3 1.1M468.7 146.8l.9-.4M470.1 148.2l.6-1M470.7 147.2l-1.1-.8M470.9 138.4l-.3 1.7 .6 1.6-.6 1.7 .2 1.6M469.4 144.9l.3 .3M470.8 145l-1.1 .2M469.6 146.4l.1-1.2M472.3 149.9l-1.4 .7M472.8 150.1l0 1.5M472.8 151.6l-1.1 .2M471.7 151.8l-.7-.4M470.9 150.6l.1 .8M471.9 148.8l.4 1.1M470.2 149.9l.7 .7M473.1 151.9l-.3-.3M470.2 152l.8-.6M480 156.3l.8-1.4M480.8 154.9l.1 0M481.5 157.1l.3-1.7M475.8 155.6l1.2 .3M477.5 154l-.5 1.9M479.3 156.3l-.5-.6M478.8 155.7l-1.7 .4M477.1 156.1l-.1-.2M479.8 154.4l-.9 .4M479.8 153.4l-1.4-.4M478.9 154.8l-1.2-.9M478.4 153l-.7 .9M480.8 154.9l-1-.5M477.5 154l.2-.1M488.3 146.5l-1.6 .3M488.3 146.5l0-1.3M488.3 145.2l-1.4-.2M486.9 145l-.7 1.4M486.2 146.4l.5 .4M488.2 143.1M488.2 143.1l.4 1.8M486.4 144.1l.5 .9M488.6 144.9l-.3 .3M485.5 146.3l.7 .1M485.2 148.1l1.4 .2M486.8 148.2l-.1-1.4M490 144.8l1.6 .1M491.1 143.2l-.7-.4M491.1 143.2l.5 1.6M491.6 144.8l0 .1M490.2 143l.2-.2M488.2 143.1l2-.1M488.6 144.9l1.2 0M489.8 144.9l.2-.1M491.4 134.7l-.4 1.6 .1 1.7 .1 1.6-.5 1.6-.3 1.6M484.8 148.7l1.1 1.3M484.8 148.7l-1.1 .9M483.9 150.2l1.2 .5M485.1 150.7l.8-.7M484.8 148.5l0 .2M486 152.2l-.9-.4M485.1 151.8l0-1.1M490.2 146.4l.5 .1M490.2 146.4l-1.4 .5M488.8 146.9l0 .7M488.8 147.6l1.3 .8M490.7 148.2l-.6 .2M490.7 146.5l.2 .3M489.8 144.9l.4 1.5M491.6 145.1l-.9 1.4M488.3 146.5l.5 .4M488 148.5l.8-.9M489.9 149.3l.2-.9M491.4 148.5l-.7-.3M483.4 147.7l-1.3-.7M483.4 147.7l-.5 1.5M482.9 149.2l-.2 0M481.7 148.5l-.1-1.1M481.6 147.4l.5-.4M482.4 146.1l-.3 .9M483.7 147.6l-.3 .1M480.2 147l1.4 .4M480.2 147.1l-.6 1.8M479.6 148.9l1.2 .3M480.8 149.2l.9-.7M485.1 151.8l-.6 .4M483.3 151.1l.6-.9M484.5 152.2l-.6 0M486 153.8l-1.3-.3M484.5 152.2l.2 1.3M481.6 150.9l-.3-.1M481.9 151.1l.2 1.8M481.3 150.8l-1.2 .4M480.1 151.2l-.1 .4M480 151.6l.4 1.3M480.4 152.9l1.1 .2M481.5 153.1l.6-.2M480.8 149.2l.5 1.6M483.3 151.1l-1.4 0M483.9 152.2l-1.3 1M482.6 153.2l-.5-.3M479.8 153.4l.6-.5M478.4 153l0-.6M478.4 152.4l1.6-.8M480.9 154.9l.6-1.8M342.5 188.3l-.1-1.6-.3-1.7M341.1 184.3l1 .7M340.6 183.6l.5 .7M349.3 186.4l-1.8-.5-1.9 .2-1.7-.7-1.8-.4M327.8 120.3l1.9-1.6M329.7 118.7l1.7-.8 1.9-.1 1.9 .3 1.7-.8 1.8-.2 1.8-.3M349.6 121.9l-1.5-.9-1-1.5-1.4-.8-1.5-.8-1.7-.6-1.1-1.3M341.4 116l-.9 .8M336.2 87.9l-.3 1.6-.8 1.5 .3 1.7M342.5 89.5l-1.7 1.3-.9 2-1.4 1.6M338.5 94.4l-1.7-.6-1.4-1.1M328.1 88.1l.4 2.1 1 1.9M329.5 92.1l2.4 1.8M331.9 93.9l1.8-.3 1.7-.9M318.3 114.8l.5-1.8 1.5-1.1 1.3-1.4 .7-1.6 1.1-1.4 .9-1.5M329.7 118.7l.5-1.7 1.5-1.2 .2-1.8 .6-1.5 .6-1.7 1.4-1.2 .3-1.8 .5-1.6 1-1.4M336.2 104.7l.1 .1M346.5 91.1l-.7 1.5-.7 1.6-.8 1.5-.3 1.7-.9 1.4M350.9 97.7l-.7 1.5-1.1 1.1M349.1 100.3l-1.9-.9-2.2 .2-1.9-.8M338.5 94.4l-.2 2.1 .6 2.1 .5 2.1M343.1 98.8l-1.9 .9-1.8 1M332.9 99.8l1.4 1.4 .7 2 1.2 1.5M332.9 99.8l-.7-1.9-.2-2-.1-2M339.4 100.7l-.9 1.4-1.2 1.1-.7 1.5M474 144.4l-.4 .8M475.6 145.8l-.8 .5M473.6 145.2l1.2 1.1M475.6 147.8l-1-.9M474.6 146.9l.2-.6M483.2 155.9l-1-.6M483.2 155.9l1.1-.7M482.2 155.3l.8-1.5M484.3 155.2l-.3-1M484 154.2l-1-.4M483.2 157.1l0-1.2M481.8 155.4l.4-.1M485.2 155.6l-.9-.4M482.6 153.2l.4 .6M484.7 153.5l-.7 .7M479.6 148.9M480.1 151.2l-.4-.4M479.7 150.8l-.1-1.9M477.9 147.9l.8 1M478.7 148.9l.9 0M476.8 149.6l1.2 .3M476.8 149.6l-.6 1.2M476.2 150.8l.9 .7M478 149.9l.1 .8M478.1 150.7l-.5 .8M477.1 151.5l.5 0M476.7 149.2l.1 .4M478.7 148.9l-.7 1M476 150.8l.2 0M476.2 153.1l.9-1.6M479.7 150.8l-1.6-.1M478.4 152.4l-.8-.9M323.3 102.6l1.1-1.7 1.4-1.3 1-1.7M323.3 102.6l-1.1-1.6-1.7-.9-1.3-1.4-1.3-1.3-1.2-1.5M320.5 94.2l2.1 .3 1.9 .7 1.9 .9M320.5 94.2l-2 .5-1.8 1.2M326.4 96.1l.4 1.8M324.3 106l-.9-1.6-.1-1.8M332.9 99.8l-2-.8-2.1-.2-2-.9M312.2 95.2l2.3 .2 2.2 .5M324.4 89.7l-1.2 1.5-1.3 1.6-1.4 1.4M341.9 113l1.6-.3 1.6-.5 1.7 .5 1.4-1.1 1.8 .5 1.5-.6M337.7 105.6l1.8-.2 1.8 .1 1.8 .6 1.8-.3 1.8 .1 1.8-.5 1.8 .3M341.4 116l.5-3M336.6 104.7l1.1 .9M353.5 116.9l-.9-1.7-.3-2-.8-1.7M349.1 100.3l.7 1.7 .6 1.8-.1 1.9M360.5 104l-1.5 1-1.8 .4-1.5 1-1.8 .1-1.5 1.1M472.3 139.6l-.2 1.8 0 1.8 .1 1.7M473.6 145.2l-.7 .2M472.2 144.9l.7 .5M470.8 145l.3 .2M472.2 144.9l-1.1 .3M470.7 147.2l.6-.2M471.1 145.2l.2 1.8M472.1 148.3l-.5-1.2M471.6 147.1l1.1-.6M473.6 148.3l.2-1M471.9 148.8l.2-.5M473.8 148.6l-.2-.3M471.3 147l.3 .1M472.9 145.4l-.2 1.1M474.6 146.9l-.8 .4" fill="none" stroke="#8c8c8c" stroke-width="0.35" stroke-linejoin="round"/>
<path d="M208.2 51.5l2.7 .9 3 0 2.3-2.3 3.8-1.1 3.8 .6 2.3 2.4 1.9 2.7 1.5 2.5 1.5 1.9M231.8 61.6l1.9 2.2 3.4 1.6 3.9-.4 3.4-.4 2.3 2.1 2.8 .9 3.8-.7 3.3 .7 3.4 1M257 68.2l3.8-.9 3.8 .5 4.2 0M265.6 98.5l5.7-.8 3.8 .8 2.9 1.5 2.8-.4 2.9 2.3 3.8 2.3 3.8 1.2 3.8 .7 2.9 1.2 1.9 1.9 2.8 3.2 4.2 1.9 4.4 1 2.8 3.4 1.9 4.2 2 5.7M299.9 109.2l2.8-1.6 4.8-.9 4.7-1 3.8-1.1 3.9-.8 3.8 .4 3.8 1.5 3.8 2.9 3.8 2.9 3.8 2.8 2.9 2.9 2.4 3.4 1.9 2.7M311.3 115.3l3.8-1.9 4.8-.8 3.8 1.7 3.8 2.9 3.8 3.8 2.3 3M281.4 128.6l4.2-3.8 4.7-2.3 4.8-.6 3 1.2M312.2 89.7l1.6-4 1.3-3.8 1.9-2.8 3.8-2.7 3.8-1.9 2.9-2.1 .5-3.2M326 61.2l7.2-.8 7.6 .2 7.6-1 3.8-1.1 3.8-1.9 1.2-3.2-1.9-2.9-1.2-1.9M326.5 62.7l6.7 .4 7.6 .5 7.6-1.1 4.8-.6 3.2 1.2 4.4 1.7 3.8 2.8 3.8 4.8 2.9 4.8 2.8 4.7 1.9 4.8 1 1.9M348.4 62.5l5.7 2.5 1.9 2.6-.9 3.1-2.9 3.6-2.2 2.9-3.5 2.8-3.8 1.9-3.8 2.1-1.9 2.7-1.1 3-.8 3.7 1.9 2.1 2.9 1.9 2.8 2.6 2.9 3.8 2.8 3.8 1.9 3.9-.9 3.8-1 3.8 1.2 3M377 87.8l-3.8 2.7-3.8 2.3-4.8 2.7-3.8 3-2.8 3.4-2 3.8-1.1 3.9 2.1 2.8 2.9 2.9 3.8 3 4.2 3.1M373.2 48.6l1.9 3.8 1.9 3.1M374 52.4l3.8 3.8 5.7 3.8 5.7 1.9 3.8 .6 3.1-.6M402.6 48.6l-1.9 3.8-1.9 3.8 3.8 2.9 3.8 2.8 2.8 4.8 2.9 2.9 4.8 2.8 2.8 1.9-2.8 2.9-1 2.8 3.8 2.5 4.8 1.5 5.1 0M374 84.8l3.8 1.9 4.8 1.9 5.7 1.5 1.9 2.7 1.9 4.4 0 3.8-2.9 3.8-3.8 3.8-2.8 3.8-1.9 4.8-1.4 4.7-1.1 3.8 .3 1.1M390.2 92.8l4.8-1.3 3.8-1.9 3.8 1.9 1.9 2.8 3.8-1.9 2.8-2.3 3.9 1.4 2.8 2.8 1-2.8 4.7-1.9 4.8 .9 2.8-2.7 3.9 1.2 2.8 1.5 1.9 2.3-1.3 .8M392.1 101l2.9-2.5 4.7-1.1 2.9 2.6-1 4.8 1 4.8M387.3 119.1l3.8 2.8 5.8-1.3 5.7-2.5 5.7-1.9 5.7-1.9 5.7-1.9 5.7-1.9 5.7-1.3 5.8-.6 5.7-1.9 4.7-1.9 3.8 .9 4.8 1.9 5.7 2.3 5.7 1.9 5.7 1.6 5.8 1.5 5.7 1.3 5.7 1 3.8 .4M467.3 111.8l-1.9 3.5-5.7 1.5-5.7 1.3-3.8 2.9-1.9 3.8-1.9 3.8M447.3 48.6l-1.3 1-2.5 2.8-1.9 3.8-.9 3.8 5.7 1.9 5.7 1 5.7 1.9 3.8 2.8 3.8 2.9 3.8 2.5 3.8 2.3 4.8 1.9 1 2.8-1 2.9 2.9 2.8 1.5 3.9-2.5 3.8-.9 3.8 1.9 3.8 1.5 3.8-.6 3.8-1.9 1.9M483.5 48.6l1 3.8 1.9 4.8 3.8 1.9 3.8 0M378.5 126.8l4.5 .4 5-.6 5-.7 5.2-.9 2.5-.7M233.3 131.8l3.8 1.4 3.9-1 4.7-1.5 4.8-.8 4.7-.5 4.8 .5M256.6 168.8l1.9 1.9 1.5 1.5M147.6 204.6l.4-4.8 1.5-4.7 2.3-2.3 1.9-.6M181 204.6l3.8-2.9 1.9-4.7M199 196l3.9 1 2.8 2.3 2.9-1.4 3.8-.5 3.8 1.9 3.8 1.5 3.8 1.5 3.8 .8 3.8 1.5M257 130.3l3.8 1.5 4.8 .8 4.7-1.3 4.8-1.9 4.8-1.9 4.7-1.9 2.9-1M298.1 123.1l4.6 1.5 4.2 3.8 2.5 4.8 1.9 5.7 1.9 4.7 1.9 4.8-1 3.8-1.9 3.8 1.9 4.8 2.9 3.8 3.8 3.8 2.5 3.8M270.3 131.3l1 4.7 1.9 5.7 .9 5.8 1 4.7 4.8 1 5.7 .4 4.7 1.5 2.9 .4M257 167.5l5.7 .5 5.7 .4 5.7-.4 5.8-.5 5.7-1.4 5.7-2.5 4.7-2.8 3.9-2.3 3.8-1.5 1.3 .4M257 170.3l3.8 1.9 4.8 2.9 4.7 2.8 4.8 1.9 4.8 1 2.8 .9 2.9 3.9 1.5 4.7 .8 4.8 1.5 4.7 1.9 4.8M282.7 181.7l4.8 1 5.7-1 5.7-1.5 5.7-1.3 5.7-1.9 4.8-1.4 2.9 .4 .3 1.9M272.2 195.1l2.9 2.8 .9 2.9 2 2.8M272.2 195.1l4.8 .7M369.4 130.3l-5.7 1-5.7 1.9-5.8 1.9-5.7 1.3-4.7 1.2-3.3 .7M371.3 128.8l-2.9 3.4-4.7 3.4-3.8 2.7-2.9 1.9M338.5 138.3l-1.1 4.4-.8 4.8 .4 5.7 .2 6.1-.6 5.3-.6 5.7-.5 5.7 .5 5.7-1.9 3.9-1.9 2.8-1.9 1M336 181.7l1 4.8 1.1 3.2M337.2 154.1l3.6-.9 3.8 .4 3.8 2.4 2.9-2.8 2.8-3.8 3.9-2.3 2.8-1.9M367.5 144l3.8 2.5 2.8 1.9 2.9 .6M337 181.7l3.8 1.9 5.7 2 4.8-1.6 2.8-4.2 1-3.8 4.8-2.8 3.8-2.9 1.9-2.8M369.4 154.1l3.8 1 3.8-1.9M369.4 174.1l3.8-.9 3.8 .5M318 124.6l.9 4.8 2.9 3.8 1.9 1.9M333.2 124.6l1.9 3M410.2 127.8l-1.2 2.6-1.3 3.2 .6 3.1-2.5 1.3-3.8 1-3.8 .9-3.8 1.7-2.6 1.5M367.7 144.6l2.5 2.3 3.8 1 5.1-1 5.1-1.3 3.8-1.3 3.8-1.2 2.6 .6 3.8 .6 1.9 2M370.2 130.4l3.8-1.9 3.9-3.2M367.7 153.9l5.1-.4 5.1 .4 4.4 2.5 2.5 4.5 .7 1.9M377.8 173.2l1-4.8 2.8-4.8 5.7-.9 5.7 .9 5.8-.9 5.7 1.5 5.7 .8 5.7-.8 5.7 1.4 3.8-.6 5.7 1.1 5.8-.5 5.7-.6 5.7 .6 3.8 .5M400.1 146.3l-1.3 2.5-3.2 1.3-2.5 2.5 1.3 3.8 2.5 3.2 2.5 2.5 3.9 1.3M415 143.6l4.7-4.5 5.7-3.8 5.7-3.1 5.8-1.9 5.7-1.9 4.7-2.8 1-1.8M423.5 138.3l2.9-.4 3.8 1.9 3.8 2.3 1.3 3.5-1.9 3.4-2.6 2.3-2.5 2.8-1.3 2.9 1.3 2.3 4.7 2.4 5.8 1 5.7 .9 5.7 .6M449.2 137l6.7 .6 5.7 1.3 5.7-.6 5.7 1.2 5.8 1.9 5.7-.6 5.7 .6 3.8-.6M468.3 133.2l6.7 .5 5.7-1.1 6.6-.8 6.7-1.9M446.4 185.2l1.9 3.2 1.9 3.8 1.9 3.8-1 3.8-.9 4.8M140 206.3l3.8-.4 2.9-2.4 .9-2.9M140 225.4l5.7-1 5.7-.9 5.7 1.5 2.9 1.3 3.8-2.8 3.8-2.9 3.8-1.9 1.9 .6 8.6-1.2 9.5-.7 9.6-1.6 7.6-.3 7.6 .7 5.7 1.9 4.8-.4 1.3-2.2-2.3-2.5-3.8-.6-2.9-1.3M171.4 218.7l3.8-4.8 3.8-4.7 2-4.8 3.8-3.8M220 200.6l5.7 2.9 5.7 1.9 5.7 2.8 5.8 2.9 5.7 2.8 5.7 3.8 3.8 2.9 1.9 1.3M140 249.2l5.7-1 5.7-.9 7.6-1 7.7-.9 7.6-.6 5.7-.4 7.6-.9 7.6-1.9 7.7-1 7.6-1 5.7-1.9 3.8-2.8 3.8-2.9 3.8-1.9 5.7-.9 4.8 .9 1.3 2.9M148.6 276.8l1.9-5.7 2.8-5.7 2.9-3.8 4.8-2.9 7.6-1.3 7.6-1.6 5.7-1.9 3.8-2.3 6.7 2.3 4.7 2.9 5.8 .9 5.7-1.9 5.7-2.8 5.7-1.4 4.8-1.1 .5-4.2 1.4-3.8 1.3-1.9M181.9 276.4l7.6-2.5 7.6-2.4 7.7-.8 5.7 1.3 5.7 .6 4.8-2.5 .9-1.3M257 219.6l3.8 1 4.8 .6 3.8-1.2 3.8-3.2 2.8-2.5 3.9-1.3 3.8-2.9 1.9-2.8 2.8-1.9 3.8-1 .6-2.8-1.1-2M269.4 220l.9 4.4 2.9 1.9-1 2.9 3.1 2.4M447.9 199.6l3.2 3.9 2.9 3.8 1.5 1.9-2.5 2.8-2.8 2.3" fill="none" stroke="#1414ff" stroke-width="0.8" stroke-linejoin="round"/>
<path d="M140 63.8l3.8-2.2 4.8-2 2.8-1.5 6.7-.5 1.9-1.4 4.8-.4 3.4 .8 .4-2.3 1.9-2.8 .9-2.9M204.4 48.6l-1.5 2.9-2.3 2.4-3.5 1.9-3.8 2.3-3.4 1.5-4.2 2-2.3 .7 2.3 1.5 2.9-.3 1.9 1.5 3.8-.8 2.8-.4 2.9 1.6 2.9 1.3 3.8-.6 2.8 1.5 3.8 .6 2.9-.6 3.8-.9 3.8-1.3 2.9-1.9 2.4-1.9 1.9-2.5-.3 2.1-2.1 3-2.9 2.5-2.8 1.9-2.9 1.3-3.8 0-3.8 1.2-3.8 .7-3.8 .6-3.8 .6-2.9 1.3-1.9 1.3-.6 2.5-2.3 1.9-3.4 1.9-3.2 2.5-2.9 1.5-2.8 1.4-2.9 .9-.4 1.4 2.3 .5 2.9-1.1 1.9 1.9 2.4-1.3 2.7-2 3.4-1.9 3.8-.9 3.5-.8 2.3 1.2 2.8 .2 2.5 1.3 1.3-1.9 1.9-1.9 2.9-1.2 3.8-.3 3.8-.4 2.9 .4 2.4 .7 2.3-1.5 2.9-.6 2.8 .6 2.9-1 2.9-.5 1.9-1.5 2.8-.4 2.9 .9 1.9 1 1.9-1 2.8-.4 4.8-.5M167.4 90.9l1.2-.4 .5 1-1.1 .3-.6-.9M186.3 113.4l.9-.2 .2 .9-.9 0-.2-.7M223.4 98.5l1.9-.6 .8 1-1.9 .4-.8-.8M229.9 101.9l2.3-.5 1.1 1.1-2.3 .6-1.1-1.2M228 98.5l.8-.4 .2 .8-1-.4M260 99.6l-3.8 .8-3.8-.8-2.9 .8-2.5 .6-1.1-2.5-.8-3.2-4.1-.6-3.9 .4-2.8-.2 .9 2.8 1.6 2.7 1.9 3.1 1.1 3.2 .4 2.9 2.7 1.1-3.9 0-3.8-.2-3.8 1-3.4-.4-3.2-1.5-2.9 1.5-2.3 .7-2.5-2.6-1.9-1.6-3.2 1-2.5 1.3-3.8 0-2.8 .8-3.5-.8-3.2 0-2.9 1.2-1.9 1.3 1 1.9 2.8-.4 2.9 .6 1.3 1.5-3.2 .8-2.9 1.1-1.1 1.9 3 .8 3.8 .4 3.5 .7 2.3 1.6 3.4 .7 3.8 .4 3.2 1.9 3.3 1.2 3.8 .3 3.4 1M257 77.6l5.7 1.1 5.7-.6 4.8-1.3 4.8-1.5 4.7-2.3 2.9-1.9-.4-1.9-3.4-.6-3.8-.6-3.9-.4-2.8 .8-2.5-.6 2.5-.7 3.8-1.4 2.9-1.5 3.4-2.3-1.2-1.5 3.1-1.1 2.7-2.1 2.2-2.9 1.9-2.8 1.2-2.9M257 100.4l4.8-.8 3.8-.5-.6-2.5 2.5-1.9 4.7-1.1 4.8-2 4.8-1.9 3.8-2.1 1.9-2.8-.4-3.8 1.3-2.9 2.9-1.9 4.7-1.7 4.8-1.5 5.7-1.9 4.8-1.9 4.7-1.9 3.9-1.9 3.8-2.3 2.8-2.7 2.9-2.7 1.9-3.4 1.5-2.8 1.3-2.9M317 66.9l3.8-1.9 3.8-1.5 2.1 1.3-3 1.7 3 1-1.9 1.3-4-1-3.8-.9M319.9 66.1l3.8-1.1 1.9 1.1-2.9 1.2-2.8-1.2M340.4 54.7l3.8-2.7 5.8-1.5 3.2 1-1.7 2.1-5 1.7-4.5 .5-1.6-1.1M399.3 123.6l3.3 .6 3.4 1.4 3.8 1.9 .4 .5-3.8-1.5-3.8-1.5-3.3-.9 0-.5M451.5 53.6l1.2 0 0 .7-1.2 0 0-.7M459.1 53.6l1.2 0 0 .7-1.2 0 0-.7M477.8 58.7l1.2 0 0 .8-1.2 0 0-.8M480.7 65.4l1.1 0 0 .7-1.1 0 0-.7M462.6 52.8l2.4-1.3 3.9 .3 1.5 1.4-2.1 1.1-3.8-.2-1.9-1.3M225.7 128.8l1.9 2.5 2.9 .9 2.8-.4-2.3 2.3-1.5 1.9 1.9 1.9 1.9 2.9 3.8 2.8 2.9 2 2.9 .3 2.8 1.2 1.3 2.6-2.6 1.2 1.3 2.3 1.3 2.8-.3 2.5-.4 4.2-.4 5.7 .8 1.2 1.1 .7-1.1 1.2-1.4 3-.5 5.3-1 4.8-1.9 3.8-2.9 1.9-3.8 1-3.8 .3-3.8-.3-3.8-.4-3.8 .4-3.8-1-3.8-.9-3.8-.4-3.8 .7-3.8-.3-3.9 .3-3.8-.3-3.8-.4-3.8-.6-3.8-.9-3.8-.4-2.9-1.2-2.8 1.2-3.8 .4-3.8-.4-3.8 .4-3.9 .3-2.8-.7-2.9-1.5-3.8-1-3.8 1-3.8 .3M247 157l3.1 2.3 2.7 3 2.4 3.3 1.9 2.8M246.7 158.5l2.8 2.7 2.5 3 2.3 2.7 2.3 2.7M214.3 129.9l2.3-.2 .7 1.2-2.3 .2-.7-1.2M227.6 139.5l1.9-.2 .4 1.1-1.9 0-.4-.9M241.9 147.8l2.9 .8 .3 1-2.6-.6-.6-1.2M242.9 151.6l2.2 1.6 .8 1.9-1.9-1.5-1.1-2M358 144.8l2.8-1.5 3.2-.4 3.1 .7 .8 1.6-3.3-.4-3.2 .4-2.5 .7-.9-1.1M311.4 204.6l-1.6-2.5-.1-3.2 .5-3.1 1.6-2.2 2.9-1.4 3.3-1.3 3.4-1.9 2.6-1 2.5 .4 3.8 .6 2.9 1.3 2.8 .6 2.9-1.2 2.9 .6 2.8 1.9 3.8 .6 3.8 1.3 3.8 .6 4.8 .8 1.9-2.3 3.8-1.9 3.5-2.7 3.6-1.7 3.1-1.7M393 151.6l1.6-1.9 2.6-1.5 .8 .8-2.3 1.5-1.9 1.9-.8-.8M423.9 157.4l.8-2.3 1.9-1.9 1.5-.4-.4 1.9-1.5 2.3-1.2 1.9-1.1-1.5M376.7 185.2l4.5-1.4 4.4-.8 2.9-2.4 2.6-2.7 2.1-1.7 2.3-1 3.3-.1 3.4 .5 3.4 1.4 3.3 1.5 3.2 1.1 3.4 1.1 1.9 1.8 1.6 2.1 1.7 4.4 1.3 1.3 1.7 2.4 0 2.4-1.2 1.5 3.1 .4 1.2 1.6 2.8 1.6 2.4 2.4 1.6 2M494 213.6l-3.3-2.1-5-3.2-3.1-3.3-1.9-2.3-3.8-2.9-2.9-2.8-2.9-3.8-2.8-3.8-2.9-2.9-3.8-2.9-3.8-1.9-3.8-1.9-2.9-2.8-1.3-3.8 .4-3.8 1.9-3.3-1-2.5-1.9-2.8 1-1.9 2.8-1 2.9-.5 3.8-.8 3.8-1.1 3.8-1.4 1.9 1-.3 2.8 1.3 2.9 1.9 2.8 .9 2.9 2 1.9 1.9-.9 .9-2.9 1.9-1.9 1.9-1 1.9 1.9 2.9 2 1.9 3.8 1.9 3.8 1.9 2.8 1.9 2.9M449.4 158.9l2.7-1.2 2.9 .4-2.5 1.2-3.1-.4M480.3 163.6l1.9-.9 1.3 2.9 1 3.8 .9 3.8-1.3 .5-1.5-3.4-1.6-3.4-.7-3.3M485.4 167.5l2.5-.6 1.5 3.4-1.1 1.9-1.9-1.9-1-2.8M486.8 173.7l1.9 .8 2.4 3.8-1.3 .6-2.3-2.9-.7-2.3M416.9 198.5l2.8-.8 3.4 .8-.5 1.5-3.3 0-2.4-1.5M405 196.6l1.8-1 1.1 2.1-1.5 1.6-1.2-1.2-.2-1.5M413 194.7l1-.4 .2 1.2-1 0-.2-.8M173.9 244.4l4.2-.8 4.8 .4 2.8 .8-4.7 .2-4.8 .2-2.3-.8M185.7 251.6l1.9-1.9 2.3 2.3 1.9 1.6-2.7-.4-3.4-1.6M311.4 204.6l2 2-1.5 1.6 .7 2.7-.4 2.3-2.4 1.7-3.1 1.6-4 1.6-4 1.5-3 2-3.5 1.9-4.7 1.5-3.8 1.3-3.8 1.9-2.9 1.9-1.3 1.4 1.1 1.1-2.3 .8-2.3 .5-2.8 2.9-2.9 2.8-2.8 2.9-2.5 3.8-1.3 3.8-.6 3.8 1.1 2.9 2.3 1.9 2.9 .9 1.3 1.6-2.3 1.3-3.8 1.9-3.8 1.9-2.9 2.9-2.8 4.7-1.9 4.8M299.3 247.3l3.4-1.9 4.2-1.9 4.4-1 .9-1.1 1.2 1.5 3 3-1.3 2.3-1.9 2.3-1.9 1.9-2.5 1.5-1.9-2.3-2.3-1.9-2.8-.5-2.5-1.9M321.4 241l3.2-.6 3.8 1.2 1.4 1.7-3.3 .9-3.8-1.3-1.3-1.9M282.3 257.4l2.3-1.6 2.9-.3 1.1 1.5-2.1 1.7-2.8 .6-1.4-1.9M284.6 261.4l2.1-.2 .4 .9-2.1 0-.4-.7M405 196.8l1.4-1.5 1.3 1.5 .2 3.8 .8 4.8 .7 3.8-.5 3.8-1.4 3.8-1.5 2.8-1.9 2.3-2.5-1.5-2.8-1.7-2.3-2.9-1.5-3.4-1.6-3.2 .8-2.9 1.9-2.7 3-2 3.5-1 1.9-1 .5-2.8M388.3 225.4l2.8-1 3.9 1.9 3.8-1.3 3.8-1.9 2.8 .7 2.9 2.5 1.9 3.8 1.5 4.8-.6 4.7 1 4.8-1 4.8-.9 4.7-2.9 2.9-3.8-1-2.8 1.9-3.8-.3-3.9 .3-2.8-1.9-1-3.8 1.9-3.8-.9-3.8 .9-3.8-1.9-3.8-1.5-3.8-.4-3.8 1-3.8M433.6 204.6l-1.2 .8 4.3 0 2.4 1.2 2.3 2.3 3.1 2.2 4.7 2.8 4.8 3.5 4.8 2.2 3.8 2.3 4.7 1.2 3.8 1.9 3.9 3.2 2.8 1.9 2.9-.9 3.8 1.9 3.8 2.8 2.3 2.9 2.4 .9 2 1M488.3 263.8l2.3-.3 1.1 1.9-2.3 .3-1.1-1.9M480.7 263.1l1.1-.2 .2 .9-1.1 0-.2-.7M473 230.1l1.6-.5 .4 1.1-1.6 .4-.4-1M452.1 278.6l.3-5 1.5-1.8 3-.6 3.6-.3 3.5 .9 3.6 .6 3.6-.3 3.6 .3 3.5-.6 3.6-.6 3-1 3-.8 2.3-.4 3.8 0M462.3 260.8l1.2 0 0 .8-1.2 0 0-.8M485.5 262.4l1.2 0 0 .8-1.2 0 0-.8" fill="none" stroke="#000" stroke-width="0.75" stroke-linejoin="round"/>
</g>
<rect x="141.0" y="49.3" width="352.0" height="227.9" fill="none" stroke="#3a3a3a" stroke-width="1.0"/>
<text transform="translate(322.2,254.2) scale(1.08,1)" font-size="8.33" letter-spacing="0.322">from grib files provided by ECMWF</text>
<text transform="translate(380.4,273.2) scale(1.08,1)" font-size="8.33" letter-spacing="0.28">©2025 sb@irizone.net</text>
</g>
<g transform="translate(0,268.7)">
<text y="23.8" font-size="12.5" xml:space="preserve"><tspan x="15.20" letter-spacing="0.192">IFS - Probas T850  standardized ano &lt; than 1.5 σ, </tspan><tspan x="340.03" letter-spacing="0.128">Init: 20251005 12z - Valid: 20251014:12 TU</tspan></text>
<rect x="158.50" y="36.3" width="35.22" height="6.9" fill="#ffff00" stroke="#000" stroke-width="1.0"/>
<rect x="193.72" y="36.3" width="35.22" height="6.9" fill="#ffd700" stroke="#000" stroke-width="1.0"/>
<rect x="228.94" y="36.3" width="35.22" height="6.9" fill="#ffb300" stroke="#000" stroke-width="1.0"/>
<rect x="264.16" y="36.3" width="35.22" height="6.9" fill="#ff9500" stroke="#000" stroke-width="1.0"/>
<rect x="299.38" y="36.3" width="35.22" height="6.9" fill="#ff7300" stroke="#000" stroke-width="1.0"/>
<rect x="334.60" y="36.3" width="35.22" height="6.9" fill="#f01400" stroke="#000" stroke-width="1.0"/>
<rect x="369.82" y="36.3" width="35.22" height="6.9" fill="#c80000" stroke="#000" stroke-width="1.0"/>
<rect x="405.04" y="36.3" width="35.22" height="6.9" fill="#960000" stroke="#000" stroke-width="1.0"/>
<rect x="440.26" y="36.3" width="35.22" height="6.9" fill="#640000" stroke="#000" stroke-width="1.0"/>
<text transform="translate(158.95,31.8) scale(1.08,1)" font-size="8.33" letter-spacing="0.33" text-anchor="middle">10</text>
<text transform="translate(194.17,31.8) scale(1.08,1)" font-size="8.33" letter-spacing="0.33" text-anchor="middle">25</text>
<text transform="translate(229.39,31.8) scale(1.08,1)" font-size="8.33" letter-spacing="0.33" text-anchor="middle">40</text>
<text transform="translate(264.61,31.8) scale(1.08,1)" font-size="8.33" letter-spacing="0.33" text-anchor="middle">50</text>
<text transform="translate(299.83,31.8) scale(1.08,1)" font-size="8.33" letter-spacing="0.33" text-anchor="middle">60</text>
<text transform="translate(335.05,31.8) scale(1.08,1)" font-size="8.33" letter-spacing="0.33" text-anchor="middle">70</text>
<text transform="translate(370.27,31.8) scale(1.08,1)" font-size="8.33" letter-spacing="0.33" text-anchor="middle">80</text>
<text transform="translate(405.49,31.8) scale(1.08,1)" font-size="8.33" letter-spacing="0.33" text-anchor="middle">90</text>
<text transform="translate(440.71,31.8) scale(1.08,1)" font-size="8.33" letter-spacing="0.33" text-anchor="middle">95</text>
<text transform="translate(475.93,31.8) scale(1.08,1)" font-size="8.33" letter-spacing="0.33" text-anchor="middle">100</text>
<rect x="141.0" y="49.3" width="352.0" height="227.9" fill="#fff"/>
<g clip-path="url(#mc)">
<path d="M495.0 150.6 L491.8 150.6 L485.6 150.6 L477.3 149.6 L469.1 150.0 L460.8 151.6 L452.5 152.6 L444.3 153.7 L436.0 154.7 L427.8 155.3 L421.6 154.1 L415.4 153.7 L407.1 152.6 L398.9 152.6 L392.7 151.6 L388.6 154.7 L384.4 157.8 L380.3 160.9 L377.0 165.0 L376.7 170.2 L378.9 174.6 L384.4 176.9 L391.1 177.4 L393.5 176.0 L395.5 177.5 L395.6 180.0 L393.7 183.6 L390.6 187.7 L388.2 191.9 L389.6 195.4 L393.7 197.4 L397.9 200.1 L399.9 204.2 L403.0 209.0 L407.1 213.1 L412.3 215.6 L418.5 216.6 L422.6 214.6 L421.6 210.4 L418.5 207.3 L415.8 203.2 L414.4 200.1 L417.5 198.7 L421.6 200.1 L424.7 203.2 L426.7 207.3 L429.8 211.5 L431.9 209.0 L431.1 205.3 L430.0 202.0 L429.0 199.5 L431.0 198.3 L434.4 198.5 L438.9 199.6 L443.3 201.9 L447.8 203.5 L452.2 202.4 L455.6 201.3 L458.9 203.0 L461.1 205.2 L462.2 208.5 L463.3 210.7 L466.7 213.0 L471.1 215.2 L475.6 217.4 L477.8 219.6 L474.4 220.7 L470.0 219.6 L465.6 218.5 L461.1 217.4 L457.8 215.7 L454.4 215.2 L451.1 216.3 L448.9 218.5 L447.8 221.9 L448.4 224.5 L449.4 226.9 L452.5 230.0 L455.6 233.1 L453.6 237.3 L452.5 240.4 L456.7 242.8 L462.9 243.4 L469.1 241.4 L475.2 239.3 L481.4 239.9 L486.6 241.4 L491.8 240.4 L495.0 240.0Z M401.0 183.6 L406.1 182.6 L409.2 185.7 L408.2 189.8 L405.1 193.9 L401.0 197.4 L398.5 195.4 L398.9 190.8 L399.9 186.7Z" fill="#ffff00" fill-rule="evenodd"/>
<path d="M435.6 176.3 L441.1 176.9 L446.7 178.0 L451.1 180.2 L455.6 183.0 L460.0 184.6 L464.4 184.1 L468.9 182.4 L474.4 181.9 L480.0 183.0 L485.6 184.1 L490.6 185.7 L492.2 187.4 L490.6 189.6 L486.7 191.9 L484.4 195.2 L484.4 198.5 L486.1 201.9 L488.9 204.1 L495.0 205.2 L495.0 220.7 L490.0 220.2 L486.7 218.5 L483.3 216.3 L480.0 214.1 L476.7 211.9 L473.3 210.2 L471.1 208.0 L470.0 205.2 L468.9 201.9 L466.7 199.6 L463.3 197.4 L460.0 194.6 L456.7 191.3 L453.3 188.0 L450.0 184.6 L446.7 181.9 L442.2 179.6 L437.8 178.0Z" fill="#ffd700" fill-rule="evenodd"/>
<path d="M145.7 48.6l2.9 4.8 2.8 4.7M154.9 48.6l1.9 4.2 3.2 3.4M141 56.6l7.6-3.2M395.3 206.3l4.4 3.8 2.9 4.8 1.9 4.7M391.8 53l-1.7-.4-1.8-.3-1.8-.2-1.8-.2-1.7-.7-1.8-.2M461.6 185.3l-.1 1.7-.9 1.5 .2 1.7-.2 1.7-.8 1.5M471.3 196l-1.6-.5-1.7-.4-1.7-.1-1.5-1.1-1.8 .4-1.6-.6-1.6-.3M443.2 189.2l.6 1.6 1.6 .9 .7 1.6 .9 1.3 1 1.4 .9 1.3 .6 1.6 1.4 1.1M443.2 189.2l.7-1.6 1.2-1.5-.2-2 .8-1.6 .7-1.7 .6-1.7 1.4-1.4 .4-1.7M490.2 232.3l1.8-.5M490.2 232.3l-2.5-1.2M491.7 215.4l-1.4 1.2-1.6 .7-1.7 .5-1.5 1.1-1.3 1.2-1.7 .6M482.5 220.7l-.1 .8M475.6 226.7l1.6-.8 1-1.5 1.9-.4 1.2-1.2 1.1-1.3M480.2 272.9l-1.2 1.3M479 274.2l1.3 1.3M410.1 245.5l-1.2 1.3-.9 1.4-1.1 1.3-1.1 1.3M405 253l.8-2.2M279.1 153l-1.7-.7-1-1.7-1.7-.8-1.2-1.6-1.8-.6-1.4-1.2M279.1 153l-1.3 1-1.9-.4-1.5 .5-1.3 1.1-1.4 1-1.7 0-1.6 .3-1.5 .7-1.6 .2-1.3 1.1M270.3 146.4l-1.7 .6-1.5 .9-1.5 .8-1.5 .9-1.5 1-1.4 1.1-1.6 .6-1.6 .7M281.4 153.7l1.2-1.2 .7-1.4 0-1.8 .9-1.4M281.4 153.7l-2.3-.7M269.1 141.7l.7 1.5-.3 1.7 .8 1.5M269.1 141.7l1.3-1.2 1.6-.7 1.9-.1 1.5-.8 1.2-1.5 1.8-.3M284.2 147.9l-.7-1.6-.7-1.6-1.2-1.3-.3-1.9-1.2-1.4-.9-1.5-.8-1.5M269.1 141.7l-1.8-1.4-1.3-2M254.5 152.1l1.7 .6 1.8 .3M254.5 152.1l-1.2-1.3M253.5 146l-.2 2.4 0 2.4M253.5 146l.9-1.6 1-1.5 .5-1.7 1.2-1.5 .4-1.8M257.5 137.9l1.7 .2 1.7 .2 1.7-.4 1.7 .5 1.7-.1M205.4 52.7l1.5 .8 1.5 .7M208.4 54.2l-.7 1.5-1.3 1.1-1.2 1.2-.5 1.7M204.7 59.7l-1.7-.1-1.8 .1-1.7 .5-1.7 0M196.3 58.9l1.5 1.3M150.5 218.1l.7 1.7 .5 1.7 .8 1.6 .1 1.8 .7 1.6 .4 1.8M153.7 228.3l1.7-.4 1.8 .3 1.7-.6 1.8-.1 1.6-.8M163.7 218.7l-.2 1.6 .1 1.7-.9 1.5 .2 1.7-.6 1.5M191.3 62.6l-1.5-.8M195.7 62.9l1.1-1.3 1-1.4M448.8 176l-1.3-1.3-2-.2-1.3-1.3-1.8-.5-1.3-1.2M443.5 163.3l-1 1.5-.1 1.7-.6 1.6-.5 1.7-.2 1.7M443.5 163.3l1.3-1 1.7-.4 1.1-1.3M435.9 148.6l1.2-.9M449.5 156.7l-1.6-.7-1.2-1.2-1.2-1.2-1.5-.9-1.3-1-1.5-1-1.3-1.1-1.2-1.2-1.6-.7M418.9 156.2l2.5 .3M418.9 156.2l-1.8 .4-1.4 1.3-1.6 .9-1.8 .4-1.6 .7M421.4 156.5l.8 1.7 1.2 1.4 1.9 .7 1.2 1.4 .9 1.6 .8 1.7 1.5 1.1M410.7 159.9l-.2 1.7 .9 1.6-.2 1.7 1.3 1.4 .3 1.7 0 1.7M429.7 166.1l.2 1.1M429.9 167.2l-1.4 .9-1.4 .9-1.7 .3-1.4 1.1-1.7 .2-1.2 1.3-1.7 .2M419.4 172.1l-1.7-.5-1.6-.7-1.7-.5-1.6-.7M434.7 148.6l-1.2-1.3-1.4-.8-1.2-1.3-1.4-.9-1.6-.8-1.6-.6-.9-1.6-1.5-.9-1.4-.9-1.3-1.1-1.5-.8M434.7 148.6l-1.4 1-1.5 .9-1.7 .4M422.7 155.4l-1.3 1.1M418.8 139.5l.9-1.9M418.8 139.5l-.2 1.6 0 1.7 .6 1.7-.5 1.7 .3 1.6 .3 1.7-.3 1.7 .3 1.7 .1 1.6-.5 1.7M435.9 148.6l-1.2 0M437 157.9l-1.5 1.1-.6 1.9-1.9 .7-.5 2-1.5 1.2-1.3 1.3M441.1 171.5l-1.5 .6-1.6 .4-1.6 .4-1.6 .1M434.8 173l-1.1-1.5-1-1.7-1.5-1.2-1.3-1.4M470.5 208.3l1.7-.7 1.6-.8 1.7-.7M470.5 208.3l-.7 1.5-.4 1.7-.4 1.5 0 1.7 0 1.7-.5 1.6M480.2 218.5l-.7-1.6-.4-1.8-.2-1.8-.1-1.8-.8-1.7-.3-1.7M480.2 218.5l-1.7-.2-1.7 .6-1.6-.5-1.7-.4-1.7 .4-1.6-.4-1.7 0M477.7 208.1l-2.2-2M476 201.3l.3 1.7-.7 1.5-.1 1.6M459.3 204.5l-1.7-1-1-1.7-1.4-1.4-1.6-1M459.3 204.5l1.7 .2 1.6 .7 1.5 .6 1.7 .4 1.5 .8 1.4 1.1 1.8 0M459.3 204.5l.3 1.6 1 1.4-.5 1.8 1.1 1.4-.3 1.7 1.3 1.3-.2 1.7 .8 1.5 .1 1.6 .7 1.5M483.1 207.3l-1.8 .4-1.8 .1-1.8 .3M482.5 220.7l-2.3-2.2M448.4 202.9l.1 1.8 .8 1.5 .3 1.7 .7 1.6 .5 1.6 .2 1.7M448.4 202.9l-1.6 .5-1.6 .4-1.5 .7-1.2 1.4-1.7 .3M443.2 189.2l-1.9-.4-2-.5-1.8-.7-1.8-.9M429 198.3l-.4-1.7 .2-1.7M428.8 194.9l.9-1.6 1.2-1.3 1.2-1.3 1-1.6 1.4-1.2 1.2-1.2M435.7 186.7l-1.1-1.5-.4-1.9-.9-1.7-1.3-1.4M419.4 172.1l.5 1.7 .8 1.5 1.6 1.1 .5 1.7 .6 1.7 1 1.4M432 180.2l-1.9 0-1.9 .7-1.9 0-1.9 .3M490.2 232.3l-.1 1.9M309.9 193.1l-.7-1.6-1-1.4M314.2 189.8l-.8-1.8M313.4 188l-1.8 .6-1.5 1.2-1.9 .3M410.4 235.7l-1.5-1.1-1.4-1.3-1.2-1.4M405.8 250.8l-1.5-.9-1.3-1.1-.9-1.6-1.4-1-1.5-.9-1-1.4-1-1.5-1.6-.8M395.6 241.6l1-1.4 1.5-1 .9-1.4 1-1.3 1-1.4 1.4-1 .8-1.6M403.2 232.5l3.1-.6M406.3 231.9l-.3-1.7 .5-1.7 .4-1.7M362.5 51.4l1.2 1.5M378.6 52.3l-2.1 .5-1.9 .9M363.7 52.9l1.8 .3 1.8-.4 1.8 .2 1.8 .8 1.9-.4 1.8 .3M282.1 155.3l1.6 .2 1.5 .8 1.5 .6 1.8-.3 1.5 .8 1.5 .6M282.1 155.3l-.1 2.1-.7 2-.9 2M297.2 170.6l.7-1.2M297.2 170.6l-1.9 .5-1.5 1.4-1.9 .5M280.4 161.4l1.3 1 1.4 .9 .4 1.9 1.8 .6 .9 1.3 1.3 1 .9 1.5 1.2 1 1.5 .9 .8 1.5M291.5 158l.7 1.6 .9 1.4 1 1.5 1 1.4 .7 1.5 1.2 1.3 .9 1.4M297.9 169.4l0-1.3M291.5 158l2-.5 1.4-1.7 1.9-.7M297.9 168.1l1.3-1.2 .9-1.6 1.4-1.1 1.6-.8 .6-1.9 1.6-.9M305.3 160.6l-.2-2.4M305.1 158.2l-1.8-.3-1.5-.9-1.5-1.1-1.8-.3-1.7-.5M282.1 155.3l-.7-1.6M280.4 161.4l-.8 1.6-1.3 1.3M264 158.5l.6 1.5-.2 1.6 .9 1.5-.2 1.7M274.3 174.4l-1.6 .4-1.7-.3-1.5 .4-1.6 0-1.7-.1-1.5 .5-1.7-.5-1.6 .4M274.3 174.4l1.1-1.4 1.3-1.2 .8-1.7M278.3 164.3l-.5 1.9 0 2-.3 1.9M261.4 175.2l-1.4-1M256.3 173.3l-1-1.4-.1-1.8M254.5 152.1l-.2 1.8-1.1 1.6-.2 1.7-.4 1.7M257.5 174.2l2.5 0M257.5 174.2l-1.2-.9M297.2 170.6l1 1.4 1 1.4 .1 1.8 1 1.3 1.3 1.3 .3 1.7 .9 1.5M291.9 173l-1.1 2.1-1.7 1.6M301.8 184.6l.8-1.7 .2-1.9M301.8 184.6l-1.7-.2-1.8-.3-1.8 .6-1.7-1.1-1.7 .3M293.1 183.9l-.5-1.6-1.6-1-.1-1.8-1.2-1.3-.6-1.5M277.5 170.1l1.4 1 1.3 1.2 1.8 .4 1 1.8 1.6 .8 1.8 .4 1.2 1.3M274.3 174.4l1.1 1.6-.2 2.2 1.3 1.6M261.4 175.2l1 1.3 .8 1.5 .4 1.6 .8 1.4 .9 1.4 .3 1.7 .3 1.6 1.3 1.2 .3 1.7M276.5 179.8l-1 1.6-2 .6-.6 1.9-1.6 .9-1.5 1.1-1 1.5-1.3 1.2M304.5 207.2l1.6-.6 1.6-.5 1.4-1M304.5 207.2l-1.7-1.3-1.5-1.3-1-1.9M304.2 190.1l2 .4 2-.4M304.2 190.1l-1.2 1.5-1.3 1.5-.5 1.9M300.3 202.7l.6-1.9 .3-1.9-.6-2 .6-1.9M301.8 184.6l.3 2 1.4 1.6 .7 1.9M293.1 183.9l-1.1 1.6-1.3 1.4-1.1 1.5-.6 1.8M301.2 195l-1.6-.4-1.4-.9-1.8 0-1.4-.8-1.5-.8-1.6-.4-1.2-1.4-1.7-.1M300.3 202.7l-1.8 .3-1.9-.3-1.7 .9-1.8-.1M289 190.2l-1.2 .5M287.8 190.7l-.6 1.8-.4 1.8-.7 1.7-.6 1.8-.1 1.8M278.8 134.2l1.6-.5 1.4-.8 1.7-.3 1.5-.8M274.4 127l1 2.1 .3 2.3M274.4 127l1.7-.7 1.1-1.5 1.3-1.1 1.6-.9 1.6-.8 1.5-.8M278.4 137.1l.4-2.9M267.2 136.2l-1.2 2.1M267.2 136.2l1.5-.7 1.1-1.2 1.6-.6 1.4-.8 1.3-1 1.6-.5M267.2 136.2l.3-1.7-.6-1.7-.1-1.7 .5-1.7-.6-1.7-.2-1.7 .3-1.7M268.1 123.6l-1.3 .7M268.1 123.6l1.8 .5 1.3 1.3 1.6 .8 1.6 .8M271 113.6l-.9 1.5 .1 1.9-.6 1.6-.5 1.7-.1 1.8-.9 1.5M271 113.6l1.6-.5 1.5-.9 1.7-.1 1.7-.2 1.6-.4M283.2 121.2l1.3-2.8M284.5 118.4l-1.2-1.3-1.2-1.3-.4-1.9-1.3-1.2-1.3-1.2M317.3 152.4l1.6 .9 2-.2 1.8 .1 1.7 .8M317.3 152.4l-.2 1.8-1.3 1.4-1 1.5 .3 2-1.2 1.4-.6 1.7M313.3 162.2l1.6 1.4 1.5 1.6 1.2 1.7M324.3 164.8l-1.8 .1-1.4 1.3-1.8-.1-1.7 .8M316.5 151.9l.8 .5M305.3 160.6l1.6 1.3 1.8 .8M308.7 162.7l2.4 .1 2.2-.6M308.7 152l-.5 1.7-1.4 1.3-1.2 1.4-.5 1.8M358.4 175.6l-.8 1.1M357.6 176.7l1.2 1.3 1 1.6 1.4 1.1 1.1 1.3 1.2 1.4 1.4 1.1M368.4 171.4l.4 1.6-.1 1.7-.2 1.6-.1 1.6-.9 1.5 .7 1.7-.6 1.6M357.6 176.7l-2.9 .9M361.9 191.3l1.1-1M361.9 191.3l-1.3-.9-1.7-.5-1-1.5-1.4-.7-1.6-.7-1.4-.8-1.2-1.2M354.7 177.6l-.4 1.9-1.1 1.7 .1 2.1-1 1.7M364.9 184.5l-.1 2.1-.8 1.9-1 1.8M378.2 175.2l.1 1.7 .1 1.8 .6 1.6 .8 1.6M367.6 182.7l1.8-.3 1.7 .8 1.8 .2 1.7 .1 1.8-.5M325.2 165.7l-.6 1.6-.5 1.6 .2 1.8-.1 1.7-.4 1.6-.9 1.5-.3 1.7-.3 1.6M325.2 165.7l1.7 .9 1.8 1 2 .2M332.4 172.2l-.3 1.8-.7 1.6-1.4 1.4-.3 1.8M340.4 160.8l-1.6 .8-1.3 1.1-1.4 1-1 1.4-1.9 .4-.9 1.6-1.6 .7M340.4 160.8l-1.5-1.2-.5-2-1.6-1.1-1-1.6M324.4 154l1.6-1.1 1.8-.7 1.5-1.2M335.8 154.9l-1.7-.8-1.4-1.5-1.9-.4-1.5-1.2M346.1 166.3l-.2-.1M346.1 166.3l.9 1.4-.3 1.8 .8 1.4 .9 1.4 .2 1.7M345.9 166.2l-1.4 1.1-.8 1.7-1.8 .6-1 1.4-1.4 1.1-1.2 1.3M348.6 174l-1.1 1.1-.7 1.6-1.8 .6-.9 1.4-1.2 1.1-.5 1.7-1.5 .9M338.3 173.4l.8 1.7 0 2 .5 1.8 .9 1.7 .4 1.8M358.4 175.6l-.6-1.6-.6-1.6 .2-1.7 0-1.8-.6-1.5M356.8 167.4l-1.5-.9-1.9 .3-1.7-.2-1.6-.7-1.7-.4M348.4 165.5l-2.3 .8M354.7 177.6l-1.6-.7-1.7-.7-1.2-1.3-1.6-.9M340.4 160.8l1.1 .4M341.5 161.2l1.1 1.2 1.1 1.3 1.1 1.2 1.1 1.3M332.4 172.2l2.1-.1 1.9 .4 1.9 .9M333.4 182.9l-1-1.6-1.6-1-1.1-1.5M333.4 182.9l1.8 .3 1.8 0 1.8 0 1.8 .4M340.6 183.6l.3-1.2M382.1 169.5l-1.1 1.4-.8 1.5-1.1 1.4-.9 1.4M382.1 169.5l-.7-1.5-.8-1.4-1.4-1-.2-1.8-1-1.3-.8-1.4M368.2 171.1l.2-1.7-.5-1.6M367.9 167.8l1.2-1.2 1.4-.8 1.5-.7 1.2-1.2 1.2-1 1.2-1.1 1.6-.7M356.8 167.4l1.9-.8 .9-1.9 2-.4 1.4-1.4M367.9 167.8l-1.3-1.2-.9-1.5-1.4-1.1-1.3-1.1M393 168.6l-1.8-.2-1.8 .2-1.8 .8-1.9-.4-1.8 .2-1.8 .3M393 168.6l.9-1.7 .5-1.9 .6-1.8 .6-1.8 .9-1.7M396.5 159.7l-1.8 0-1.6-.4-1.8 .6-1.7-.5-1.7-.5-1.7-.2-1.7 0-1.7 0-1.7-.2-1.8 .1-1.7-.1M377.2 161.1l.4-2.6M363.2 152l-1.7 .4-1.6-.4-1.7-.2-1.6-.6-1.6-.4-1.7 .4M363.2 152l0 1.9 .4 2-.5 1.9 .3 2M363.4 159.8l-.8 1.1M362.6 160.9l-1.8-.7-1.9-.8-1.8-.9-1.7-1M355.4 157.5l-.8-1.5-.3-1.6 0-1.8-1-1.4M377.6 158.5l-.4-1.6-.8-1.6-.6-1.6M375.7 153.7l.1 0M348.4 165.5l1.1-1.4 1.6-1 .9-1.5 .9-1.5 1.6-1 .9-1.6M351.5 149l1.8 2.2M351.5 149l-.8-1.5 .2-1.7M335.8 154.9l1.4-1.1 1-1.4 1.3-1.2 1.4-1 1.7-.7 1-1.3 1.4-1.1 1.1-1.3M350.9 145.8l-2.4-.4-2.4 .4M363.2 152l1.7-1.3 1-1.8M365.9 148.9l2.4 .2M231.8 68.6l-1.9-.6-1.2-1.8M231.8 68.6l.9-1.3 1.2-1.1 .4-1.7 1.3-1.1 .6-1.5 .9-1.4 .6-1.5M226 61.1l.7-1.7M237.7 59l-1.8 .1-1.9-.4M228.6 59.7l-1.9-.3M236.3 51.3l1.1 1.6M227.8 51l-.8 1.8-1 1.7-1.2 1.5M237.7 59l.3-.1M226.7 59.4l-.5-2-1.4-1.4M271 113.6l-2-1.3M269 112.3l-.6-1.7-1.7-1-.4-1.9-1.1-1.4M270.2 99.1l-2.5 1.1M270.2 99.1l.9 1.5 1.6 .8 1.5 .8 1.4 1 .9 1.5 .8 1.5 1.6 .8 1.3 1.1M265.2 106.3l.2-1.7 1-1.4 .8-1.4 .5-1.6M282 91.1l.9 1.4 .9 1.5 1.2 1.2 .9 1.5M285.9 96.7l0-1.9 .8-1.8 .2-1.9 .8-1.8 .2-1.9M259 62.7l-.1 1.7-.1 1.8-.2 1.7-.5 1.7-.5 1.7-.2 1.7 0 1.7 0 1.8M267.4 75.9l-1.4 1.2-2-.1M267.6 75.5l-.9-1.4-.8-1.5-.7-1.6-.2-1.7-1.2-1.3-.2-1.8-1.2-1.3-.8-1.5-.2-1.8M270.6 95.6l.8 1.4M274.4 94.3l-.7 1.5M270.2 99.1l1.2-2.1M276.7 73.4l-1.6-.7M275.1 72.7l-1.9-.1-1.8 .5M271.4 73.1l-1.9 1.3-1.9 1.1M286.3 98.3l-1.4-.8-1.7-.1-1.6-.1-1.6-.4-1.7 .4-1.4-1.3-1.7 .5-1.5-.7M286.3 98.3l-.4-1.6M287.1 99.4l0 .1M287.1 99.4l-.8-1.1M287.1 99.5l-.9 1.7-1.4 1.2-1.6 1.1-.7 1.7-1 1.6-1.3 1.3M204.7 59.7l.7 1.6-.1 1.9 .8 1.6M208.4 54.2l1.6-.7 1.6-.8 1.8-.2M213.4 52.5l.7 1.6 .5 1.7 .7 1.6-.2 1.8 .5 1.7 1 1.5 .7 1.6-.4 1.9M213.4 52.5l.2-.2M213.6 52.3l1.6 .4 1.6 .7 1.8 0 1.3 1.2 1.8 .1 1.4 1.2 1.7 .1M406.3 142.3l-2 0-2 .1M406.3 142.3l1 1.7 1.4 1.4M402.2 142.5l.1-.1M402.2 142.5l.5 1.6 .2 1.7 .3 1.7 .5 1.7-.5 1.8 .8 1.6 .3 1.7 .2 1.7 .1 1.7M405.8 157.7l-1.2 0M418.8 139.5l-1.4 .9-1.5 .7-1.3 1-1.4 1-1.7 .4-1.5 .7-1.3 1.2M410.7 159.9l-1.7-.6-1.5-1.1-1.7-.5M397.9 158.1l-1-1.6-1.3-1.5-.9-1.7M397.9 158.1l1.7 .4 1.6-.7 1.7 .1 1.7-.2M393.1 149.8l1-1.6 .5-1.9 1.4-1.4M396 144.9l1.7-.3 1.5-.6 1.6-.5 1.4-1M430.9 124.1l1.6-.8 1.8 .6 1.6-.5 1.5-.9 1.7 .1 1.5-.9 1.7 0 1.6-.4 1.8 .2 1.4-1.3 1.7 0 1.6-.4 1.7-.2M430.9 124.1l1 1.5 1.3 1.1 .8 1.5 1.7 .9 .4 1.8 1.1 1.4 1.9 .6 .7 1.6 1 1.4 1.4 1.1 1 1.4M443.2 138.4l1.8-.2 1.9-.4 1.9 .1 1.9 0 1.8-.2M452.1 119.6l1.1 1.4 .5 1.6 .1 1.8 .5 1.6 .9 1.5 .2 1.7 1.2 1.4 .9 1.4 .2 1.7M452.5 137.7l1.3-1 1.3-1 1.5-.7 1.1-1.3M437.1 147.7l.7-1.8 1.2-1.4 1-1.6 1-1.5 1.6-1.1 .6-1.9M456.5 155l-.2-1.6-.3-1.6-.6-1.5-.4-1.5-.5-1.6 .3-1.7-.4-1.6-.8-1.5-.3-1.5-.6-1.6-.2-1.6M453.8 98.8l-1.5 1.1-.6 1.8-1.1 1.5-1.6 1-1.1 1.4-1.3 1.3-.8 1.7M453.8 98.8l1.2 1.1 .7 1.5 1 1.3 .3 1.7 1.4 1 1.2 1.2 .4 1.7 1.6 .8 .5 1.7M445.8 108.6l1.2 1.2 1.5 .9 .7 1.7 1.4 .9 1.2 1.1 1 1.4M436.2 107.5l1.6-.3 1.6 .1 1.6 .5 1.5 .9 1.7 .2 1.6-.3M436.2 107.5l-2.4 .9M429.2 123.1l.6-1.7 .4-1.6 .2-1.7 .9-1.5 .1-1.8 .6-1.6 .8-1.6 .9-1.5 .1-1.7M429.2 123.1l1.7 1M452.1 119.6l0-1.9 .7-1.9M419.7 137.6l-.1-1.2M429.2 123.1l-.3 0M419.6 136.4l.5-1.6 1.4-1 1.2-1.2 1-1.2 .7-1.5 .9-1.4 .4-1.6 1.2-1.2 1.4-1 .6-1.6M491.5 117.9l-1.6 .3-1.7 0-1.6-.1-1.5 1.1-1.7 .2-1.6-.3M475.3 107.6l1.3-1 1.3-1 1.6-.6 1.5-.7 1.3-.9 1.4-.9 1.6-.5M485.3 102l1.9 0 1.7 .8 1.8 .5M481.8 119.1l-1.1-1.3-.8-1.4-1.3-1.1-1.1-1.3-1-1.4-1.1-1.2-.9-1.4M390.4 235.1l0-1.7-.9-1.5 .2-1.7 .1-1.7M403.2 232.5l-1.4-1-1.6-.7-1.6-.6-1.9 .3-1.3-1.4-1.5-.6-1.9 0-1.3-1.1M399.3 209.1l-1.6-.8-1.6-.4M399.3 209.1l1.1 1.7 .9 1.9 .6 1.9M401.9 214.6l-1.5 .7-1.2 1.2M401.9 214.6l1.5 1 1.3 1.3M399.3 209.1l1.2-1.4 .5-1.6 .1-1.9 1.2-1.3M393 168.6l.1 2 1.1 1.7 .3 1.9M318.4 181.4l.1-.6M318.4 181.4l.8 1.6 1.4 1.1 1.3 1.3 1 1.3M318.5 180.8l1.8-1.1 2-.9M313.4 188l.6-1.7 1-1.2 1-1.4 1.4-1 1-1.3M309.1 177.8l1.6 .1 1.6 .4 1.6 .4 1.5 .6 1.4 .7 1.5 .7M309.1 177.8l.3-1.8-.8-1.6-.3-1.7 .1-1.7M318.3 180.7l-.5-1.8-.8-1.8-.5-1.7-.4-1.9-.1-1.9-.4-1.8M315.6 169.8l-1.9 .6-2.1-.5-2 .1M308.4 171l1.2-1M318.5 180.8l-.2-.1M302.8 181l1.3-1.3 2 .1 1.2-1.6 1.8-.4M297.9 169.4l1.7 .4 1.7 .5 1.8 .4 1.9-.8 1.6 1 1.8 .1M317.6 166.9l-.9 1.5-1.1 1.4M308.7 162.7l0 1.9 0 1.8 .4 1.8 .5 1.8M253.3 150.8l-2.1 .5-2.2 .1M249 151.4l-1.3 1.4M253.6 180.6l.3 1.9 1 1.7 .3 1.9 1.4 1.5 .5 1.8M257.1 189.4l-1.3 1.3-1.1 1.3-1.4 1.1-1.8 .6-1.3 1.3M257.5 174.2l-1.2 1.5-.4 1.9-1.7 1.1-.6 1.9M248.4 184.3l-1-.1M247.4 184.2l-1.5-1.1M145 211l.1 2.8M145 211l1.8-2.4M145.1 213.8l1.3 1.1 1.3 1.2 1.4 1 1.4 1M163.7 218.7l1.1-1.2M158.7 206l2.6 .8M164.8 217.5l-.1-1.7-1.3-1.2-.6-1.6 .2-1.7-1-1.4-.5-1.5-.2-1.6M479 274.2l-1.9-.2-1.7 .4M475.5 276.1l-.1-1.7M475.4 274.4l-.4-.2M296.3 218.9l-1.8-.3-1.7-.5-1.6-1-1.8-.2M283.5 224.8l1.1-1.2 .9-1.4 .8-1.5 .6-1.6 1.6-.9 .9-1.3M293.1 203.5l-.6 1.6-.5 1.7-1.3 1.3-.6 1.6-.6 1.7-.8 1.5-.4 1.7M285.4 199.6l-2 .7M283.4 200.3l-.2 1.6-1.2 1.3-.4 1.5 .4 1.9-1.2 1.3-.3 1.5-.4 1.6M280.1 211l1.7 .5 1.5 1 1.6 .9 1.6 .7 1.8 .5M304.4 208.5l-.8 1.6-.3 1.9-.6 1.7-1.3 1.4-.4 1.8M304.4 208.5l.1-1.3M289.4 216.9l-1.1-2.3M359.7 50.4l-.9 1.6-1.6 .5M354.2 50.8l1.7 .5 1.3 1.2M314.4 71l2 .5 1.9-.4M318.3 71.1l1-1.7M395.3 55.7l2.4-.4M395.3 55.7l-1 1.4-.2 1.7 .1 1.8-1.3 1.3 0 1.7M397.7 55.3l1.4 1 1.7 .1 1.7 0 1.7 .4 1.5 .6 1.6 .5 1.4 .9M406.5 70.8l.1-1.7 .6-1.7 .3-1.7 .2-1.7 .3-1.7 .6-1.7 .1-1.8M406.5 70.8l-1.6-.1-1.6-.5-1.7-.2-1.6 .2M392.9 63.6l1.4 .8 .9 1.4 1.2 1.2 1.5 .7 1 1.4 1.1 1.1M378.5 59l1.1 1.4 1.4 1 1.3 1.2 .8 1.6 1.4 1.1 .9 1.6 1.4 1.1M392.9 63.6l-1.2 1.5-1.7 .9-1.8 .7-1.4 1.3M363.7 52.9l.1 1.9 .3 2 .8 1.8M364.9 58.6l1.8 .6M318.3 71.1l1.3 1.3 .6 1.7 1.1 1.5M328.6 68.9l.7 1.6 .2 1.8M321.3 75.6l2-.2 2-.4 2-.2M329.5 72.3l-.9 1.5-1.3 1M287.9 87.4l1.5-1.1 1.8-.7 1.4-1.4M290.1 79.2l1.6-.6M291.7 78.6l.5 1.8 .4 1.9 0 1.9M298.4 94.4l-.4-1.9-.3-1.8 .2-1.9M284.6 179.8l-.2 1.8 .7 1.7-.5 1.8 .1 1.7 .2 1.8M284.6 179.8l-1.6 .4-1.5 .6-1.8-.6-1.6 .6M278.1 180.8l.7 1.8 .5 1.7-.6 2 .7 1.8M284.9 188.6l-1.9 .2-1.8-.6-1.8-.1M287.6 177l-1.7 1.2-1.3 1.6M287.8 190.7l-1.3-1.3-1.6-.8M276.5 179.8l1.6 1M267.5 188.6l0 1.2M273.6 192.5l-1.5-.8-1.4-.9-1.8-.1-1.4-.9M283.4 200.3l-1.8-.2-1.5-1.1-1.7-.7-1.8-.4M273.6 192.5l1.2 1.6 .7 2 1.1 1.8M257.1 189.4l1.8 0 1.7 1 1.8 0 1.7 .9 1.9-.2M266 191.1l1.5-1.3M250.2 195l-.9 3M249.3 198l1.8 0 1.8 .1 1.8 .8 1.7 .6 1.7 .4 2-.4 1.6 .8M266 191.1l-1.1 1.4-.8 1.4-.5 1.7-.8 1.5-.7 1.5-.4 1.7M284.5 118.4l1.9 .6 1.9-.2 1.9 .5 2-.4M287.1 99.5l.8 1.4 1.4 1 .6 1.5 1.5 .9 .6 1.6 1.1 1.1 1.1 1.2 1.3 1 1.4 .9 .8 1.5 1 1.3M298.7 112.9l.1 3.1M298.8 116l-1.5 1.5M292.2 118.9l1.7-.4 1.7-.6 1.7-.4M298.4 94.4l2.6 1.2M298.7 112.9l1.1-1.7 1-1.7 1.1-1.7M301 95.6l0 1.7 .7 1.7 .1 1.8-.4 1.8 .8 1.7-.1 1.8-.2 1.7M363 190.3l1.6 .5M329.3 151l.4-2 .3-2M346.1 145.8l-1.5-1-1.6-.6-1.8-.3-1.3-1.4-1.8-.3M330 147l1.6-1 1.9-.4 1.1-1.9 1.9-.4 1.6-1.1M316.5 151.9l-.2-1.7 .2-1.6-.5-1.7 0-1.7 0-1.6M316 143.6l1.6-1 2 0 1.5-1.3 1.7-.9 1.6-.9 1.8-.5M330 147l-.8-1.6-.7-1.6-1.1-1.4 0-2-1.2-1.4M237.4 52.9l1.6-.8 1.5-1 1.7-.6M249.5 104.4l2.1-.3 2-.2 2.1 .3M256.8 105.6l-1.1-1.4M256.8 105.6l1.7 .5 1.7-.2 1.7-.1 1.7 .3 1.6 .2M242.2 104.2l1.9 .3 2 .4 1.8 .5M242.2 104.2l-.9-1.8-.8-1.9-.6-1.9-.5-1.9M247.9 105.4l1.6-1M239.4 96.7l.2-.6M275.1 72.7l1.3-1.4 .3-1.8M271.4 73.1l.2-1.6-.1-1.7M271.3 64.9l-1-1.5 .4-1.7-.3-1.6 .1-1.6M276.1 63.3l-1.6-1-1.3-1.3-1.4-1.3-1.3-1.2M271.5 50.7l.8 1.5 .8 1.6M278.2 52.1l-1.7 .9M276.5 53l-1.8 .2-1.6 .6M263.3 59.1l1.8-.2 1.5-1 1.8-.1 1.7-.3M263.3 59.1l-1.1-1.3-.9-1.4-.8-1.6-1.5-1.1-.8-1.5-1.1-1.3M273.1 53.8l-1.2 2.1-1.8 1.6M270.5 58.5l-.4-1M231.2 128.5l-.5 1.7M206.4 122l-.3-1.8M217.1 122.2l-.5-1.5M216.6 120.7l-2.1 0-1.8-1-1.9-.6-1.9-.4M206.1 120.2l2.8-1.5M166.7 51.3l-2-.3M159.5 51.3l2-.5M400.3 137.9l1 .9M400.3 137.9l.4-2.4M401.3 138.8l2.2-.8 2.4 .3M400.7 135.5l1.9-1.5M402.6 134l1.4 1.2 1.1 1.5 .8 1.6M406.3 142.3l-.1-1.8 .5-1.8M419.6 136.4l-1.8-.6-1.8-.7-1.7-.8-2-.1M406.7 138.7l-.8-.4M491.4 79.7l-1.7 .2-1.7 0-1.5 1.2-1.6 .3-1.8-.1M490.8 88.9l-1.3 1.1-1.3 .8-1.3 1.1M483.1 81.3l.2 1.8-.6 1.7 .1 1.8-.5 1.7M486.9 91.9l-1.6-1.1-1.3-1.4-1.7-1.1M485.3 102l.6-1.6-.4-1.8 .9-1.6-.1-1.7 .4-1.7 .2-1.7M396.5 159.7l1.4-1.6M393.1 149.8l-1.9-1M391.2 148.8l-1.9 .4-2 .3-1.9 .2-2-.3M375.8 153.7l.7-.8M383.4 149.4l-1.9 .6-1.4 1.5-2 .3-1.6 1.1M471.4 159.2l.3-1.8 1-1.5M472.7 155.9l-1.1-.9M475.9 165.3l-.2-1.7 1-1.5 .5-1.6-.1-1.7M478.8 161.4l.3-1.6 .2-1.6M478.1 157.7l-1 1.1M478.1 157.7l.5 0M478.6 157.7l.7 .5M352.3 185l-1.3 1.2-1.7 .2M349.3 186.4l-.2 1.7 0 1.7 .8 1.6M428.8 194.9l-1.6-.5-1.2-1.3M424.4 181.2l-1.2 1.5-1.4 1.3M412.8 169.7l-.9 1.5-.9 1.4-.7 1.5-.9 1.4M145 211l-1.7-1.1M146.8 208.6l.1-1.8-.4-1.8M142.6 199.1l.7 1.7 .8 1.6 1.2 1.3 1.2 1.3M209.3 195.5l-.3-1.6 0-1.7-.7-1.6M209.3 195.5l-.7 .6M208.6 196.1l-1.7-.2-1.4-1.1-1.4-1-1.8 .1-1.5-1-1.6-.4-1.5-.8M199.5 190.9l-1.8 .8M168.9 235.7l2.2 .1M168.9 235.7l-2 1-1.5 1.6M171.1 235.8l.2 1.6 .9 1.5 .4 1.6 1 1.4M174.6 246.8l.8 1.5 .5 1.5 1 1.4 .2 1.7 .3 1.6 .7 1.5M178.1 256l-1.7 1.6-2.1 1.1M165.4 238.3l-.4 1.6-.2 1.6-.2 1.6-.6 1.6-.3 1.6 .3 1.7-.1 1.6-.5 1.6 .1 1.6-.7 1.6 .2 1.7-.6 1.5M174.3 258.7l-1.7-.1-1.7 0-1.7-.6-1.6-.4-1.8 .7-1.7-.6-1.7-.1M175.9 232.9l-1.5 1.2-2 .3-1.3 1.4M178.1 256l1.7-.7 1.7-.2 1.8 .1M183.3 255.2l1.3-1M188.1 248.7l.8-1.4 .6-1.6 .7-1.4 1.1-1.2M464.1 275.8l.3-1.8M272.3 221.8l1.7 .7 1.8-.2M272.3 221.8l-.7-1.4-1-1.4-.3-1.6 0-1.8-.8-1.4-.6-1.6-.8-1.4-1-1.4-.3-1.6M275.8 222.3l.1-1.7 .7-1.6 .7-1.5 .4-1.7 1.1-1.4 .5-1.6 .4-1.6M279.7 211.2l-1.6-.5-1.8-.1-1.6-.7-1.5-1-1.9 .4-1.5-1.1-1.7-.4M266.8 208.2l1.3-.4M279.4 226.3l-.8-1.7-1.1-1.5-1.7-.8M280.1 211l-.4 .2M276.6 197.9l-.8 1.4-1.1 1.2-.8 1.5-1.1 1.2-1.8 .6-.6 1.7-1.5 .9-.8 1.4M265.1 207.9l1.7 .3M334.4 54.6l1.6-.5 1.3-1 1.5-.8 1.5-.6 1.6-.4M386.8 68l-.6 2M386.2 70l.5 1.9 1 1.6-.1 2.1 1.2 1.6M392.8 78l-2.1 0-1.9-.8M356.4 55.7l-1.7 .4-1.6 .8-1.7 .5M356.4 55.7l.9 1.6 .9 1.5 .2 1.9M353.7 64.3l-1.2-1.5-.3-1.9-1.2-1.5M357.2 52.5l-.9 1.5 .1 1.7M350.1 56l1.3 1.4M360.1 61.2l1.6-1 1.7-.7 1.5-.9M321.3 75.6l-.1 2.5M327.3 74.8l.5 1.9 1.1 1.8 .6 1.9M321.2 78.1l1 1.3 1.5 .8M329.5 80.4l-1.9-.3-1.9 0-2 .1M307.3 73l1.6 1.1 2 .4M297.9 75.3l1.3 1.1 .7 1.7 1.1 1.2 1.1 1.4 1 1.3M303.1 82l1.7-.2 1.6-.1 1.7 .3 1.7 .1M310.9 74.5l-.5 1.9-.4 1.9-.1 1.9-.1 1.9M314.4 71l-1.3 1.1-1.3 1-.9 1.4M297.9 88.8l.7-1.7 1.7-.8 .9-1.5 .5-1.7 1.4-1.1M312.8 85.7l-.6 1.8-.1 1.8-.4 1.8 .5 1.9-.3 1.9M312.8 85.7l-1.4-1.9-1.6-1.7M301 95.6l1.8-.5 1.8-.3 1.9 .3 1.8 .2 1.8 0 1.8-.4M312.8 85.7l2.7-1M315.5 84.7l1.5-1 1.2-1.3 .5-1.8 1.2-1.4 1.3-1.1M276.5 53l1.2 1.3 1.2 1.3 1.1 1.4 1.1 1.3M308.7 152l-.9-1.7-1.1-1.5-1.6-1.1M305.1 147.7l.7-1.6 .1-1.6 .3-1.6 .9-1.5 .7-1.5 .1-1.7M311.6 137.9l1.2 1.4 .7 1.7 1.8 .8 .7 1.8M311.6 137.9l-1.6-.2M310 137.7l-2.1 .5M284.2 147.9l1.7-1.6 1.9-1.2M296.8 155.1l.2-1.8 1.3-1.4 .2-1.7 .5-1.7M305.1 147.7l-2.4-.4-2.4 .4M365.3 148.2l.2-2M365.9 148.9l-.6-.7M368.3 149.1l.9-1.7 .6-1.9 .4-2M370.2 143.5l-.6-1.6-.4-1.6M369.2 140.3l-1.8 .6M350.9 145.8l.7-1.7 1.1-1.5M354.4 142.7l1.9 .7M363.9 138.2l-1.4 1.1-1.8 .3-1.7 .5-1.2 1.5-1.6 .7-1.8 .4M363.9 138.2l.7 1.7-.3 1.8M352.7 142.6l-.2-1.7-.2-1.7M338.1 142.2l-.2-1.8 .4-1.7-.1-1.7 .5-1.7M352.1 138.9l.2 .3M352.1 138.9l-1.4-.9-1.8 .1-1.5-.9-1.4-1-1.8 0-1.6-.5-1.3-1.2-1.7-.1M238.9 59.4l1.9-.9 2.1 .4 1.8-.8M238.9 59.4l1 1.7 0 2.1 1.5 1.4 .7 1.8 .6 1.8M244.7 58.1l1.7 0 1.3 1 1.7 .1 1.5 .8M242.7 68.2l1.7 1 1.9 .6M252.8 62.9l-.9 1.7-.9 1.7-1.6 1.1-.8 1.8M252.8 62.9l-1.4-1.2-.5-1.7M248.6 69.2l-2.3 .6M238 58.9l.9 .5M247.6 50.3l-.4 1.7-.4 1.6-1 1.4-.6 1.5-.5 1.6M231.8 68.6l.5 1.8 1.3 1.5 .3 1.9M233.9 73.8l1.3-1.2 1.5-.9 1.7-.5 1.2-1.4 1.7-.6 1.4-1M252.6 51.5l.4 1.9-1.3 1.4 .2 1.9-.1 1.7-.9 1.6M259 62.7l-2.1-.3-2.1 .5-2 0M257.4 76.5l-1.4-.9-.9-1.4-1.8-.5-.9-1.4-1.2-1.1-1.6-.6-1-1.4M245.5 75.7l-.3-2 .2-2 .9-1.9M233.9 73.8l-.2 .6M236.7 78.2l-1.1-1.1-1.1-1.3-.8-1.4M220.8 71.9l1.8 .4 1.3 1.3 1.7 .6 1.8 .3 1.5 1 1.7 .6M230.6 76.1l1.7-.5 1.4-1.2M247.9 105.4l0 1.9-.5 1.7-.4 1.8-.7 1.7 .7 2-.7 1.7M246.3 116.2l-1.5-1.1-.8-1.8-1.8-.9M220.1 115.6l2.1-1.1 2-1.1M220.1 115.6l-1.1 1.7-1.5 1.5-.9 1.9M224.2 113.4l1.9 .6 2.1-.2 1.9 .6M231.2 128.5l1.4-1.4 1.5-1.1 1.6-1.1M235.7 124.9l-.7-1.6-.9-1.4-1.2-1.3-.5-1.7-.5-1.6-1.4-1.2-.4-1.7M239.4 96.7l-1.6 .5M247.2 118.2l1.7 .4 1.2 1.2 1.5 .9 1.8 .3 1.5 .7 1.4 .9 1.6 .6 1.4 1 1.5 .7M247.2 118.2l1.3-.9 1.7-.5 1.2-1.1 1.4-1 1.6-.5 1.4-.8M255.8 113.4l1.5 1.1 1.8 .7M259.1 115.2l.4 1.6 .6 1.5 .1 1.6 .1 1.7 .3 1.5 .7 1.5M261.3 124.6l-.5 .3M256.8 105.6l-.7 1.9-.3 1.9 0 2 0 2M246.3 116.2l.5 2.1M246.8 118.3l.4-.1M266.8 124.3l-1.9-.3-1.8 .7-1.8-.1M242.8 138.6l-1.7 1-1.3 1.6-1.6 1.1M242.8 138.6l1.3 1 1.3 1 1.2 1.2 1.5 .6 1.4 .9 1.3 .9 1.5 .7 1.2 1.1M220.8 71.9l-.7 1.5-.8 1.5-.1 1.7M219.2 76.6l-1.6 .9-1.5 1-1.8 .2M214.3 78.7l-1.3-1.5-2.1-.5-.9-1.9-1.8-.8M213.8 80.4l.5-1.7M208.2 74l-.1 1.6 0 1.7-.5 1.7-.8 1.5 .7 1.8-.7 1.6M220.1 115.6l-.9-1.5-1.6-.8-1.4-1-.8-1.6-1.5-.9M224.2 113.4l-.2-1.8M208.9 118.7l.3-1.7-.7-1.8 .2-1.8 .3-1.7M230.1 114.4l1-1.3M142 218.1l.8 1.6-.7 1.8 .5 1.6 .1 1.7 .3 1.6 .8 1.6 .4 1.6 0 1.7M144.2 231.3l-1.8-.6M142 218.1l.9-1.5 1-1.5 1.2-1.3M159.5 51.3l-.3 2-.1 2M148.3 58.2l-.7-1.6-.7-1.6-.9-1.5-1.1-1.3-.9-1.5M481.8 119.1l0 3M481.8 122.1l-.6 1.6-1.2 1.2-.2 1.7-.9 1.4-.8 1.5-1.1 1.2M474.5 110l-2.5 1.1M472 111.1l-.3 1.6-1.1 1.3-.4 1.7-1.5 1-.7 1.5 .1 1.8-.8 1.5-1.2 1.2-.5 1.6-.3 1.6-1.4 1.2-.3 1.6-1.1 1.3-.1 1.8-1.1 1.3M477 130.7l-1.7 .2-1.6 .6-1.3 1.2-1.6 .3-1.7 .2-1.4 .9M457.7 133.7l1.9-.1M462.1 110.8l1.7 .3 1.6-.2 1.7-.4 1.6 .4 1.7 .1 1.6 .1M459.6 133.6l1.7-.5M490.9 60.6l-1.9-.1-1.8-.7M486 51.5l.6 1.6-.6 1.8 1.1 1.5-.2 1.8 .3 1.6M486 51.5l-1.5-.6M491.4 75.1l-1.7-.8-.9-1.5-1.4-1.1-.8-1.7-1.2-1.2-1.5-.9M483.1 81.3l-1.4-.8-1.2-1.2-1.3-.9-1-1.4-1.3-1M476.9 76l.7-1.4 1-1.3 1.2-1.1 .5-1.7 .8-1.4 1.1-1.2M487.2 59.8l-.7 1.8-1.4 1.2-1.4 1.1M475.6 51.6l-1 1.5-1.6 .9-.6 1.9-1.9 .6-1.2 1.2-1.1 1.4-1.1 1.5M479.7 64.6l-1.6-.2-1.4-1.2-1.8 .2-1.4-.9-1.7-.3-1.4-1-1.6-.3-1.7-.3M476.9 76l-2.3 1M473.6 89.1l.4-1.7-.5-1.8 .8-1.7 0-1.7-.3-1.8 0-1.7 .6-1.7M475.3 107.6l-.7-1.9-.7-1.9-1.1-1.7M472.8 102.1l.5-1.8-.1-1.7-.7-1.7 .8-1.8-.6-1.7-.3-1.7 .4-1.8M473.6 89.1l-.8 .8M461.4 50.7l-.7 1.6M467.1 60.6l-1.8-.2-1.8 .5M461.2 56.2l.3 1.8 1.1 1.4 .9 1.5M453.8 98.8l.1-1.8 .2-1.8M472.8 102.1l-1.4-1.3-1.8-.1-1.3-1.4-1.6-.6-1.9-.2-1.2-1.5-1.8-.3-1.3-1.2-1.6-.7-1.7-.5M454.1 95.2l1.5-.6 1.6-.3M472.8 89.9l-1.6-.6-1.6-.3-1.4-.9-1.7-.2-1.5-.8-1.6-.3M457.2 94.3l.7-1.6 1.4-.9 1-1.3 1-1.2 .9-1.4 1.2-1.1M474.6 77l-2.1-.2-1.8-1.3-2.2 0M468.5 75.5l-.7 1.6-1 1.6-1 1.5-1.3 1.3-1 1.5-.5 1.8M463.4 86.8l-.4-2M413.1 51.7l1.5-1.1 1.8-.2M409.8 58.3l1.7 .2 1.2 1.3 1.7 .2 1.3 .9 1.1 1.5 1.9-.2 1.3 1 1.4 .9 1.4 .8 1.5 .5 1.4 .8M409.8 58.3l1-1.6 .5-1.8 .8-1.6 1-1.6M425.7 66.2l1.1-1.4 1-1.4 1.3-1.2 1.4-1.1 1.1-1.3 1.2-1.3 .7-1.7M433.5 56.8l-.8-1.5-.6-1.6-.7-1.5M430.5 50.7l.9 1.5M397.7 55.3l.4-1.8 .6-1.6 .8-1.5M408.7 58.8l1.1-.5M373.9 139.2l0 1.7 .1 1.6 .7 1.5M376.5 152.9l.2-1.9-.5-1.8 .3-1.9-.4-1.8M374.7 144l1.4 1.5M391.2 148.8l-.1-1.7-.6-1.5-.7-1.5-.6-1.5-1.3-1.2-.2-1.7M387.7 139.7l-1.3 1.3-1.9 .2-1.3 1.2-1.4 .9M396 144.9l-.1-2.2 .5-2.2M388.9 136.9l.3-.1M388.9 136.9l-1.3 1.5M387.7 139.7l-.1-1.3M389.2 136.8l1.5 .6 1.3 1 1.6 .4 1.5 .8 1.3 .9M400.3 137.9l-1.8 .4-1.4 1.1M397.1 139.4l-.7 1.1M400.7 135.5l-1.6-.5-1.4-1.1M397.1 139.4l-.8-2-1.1-1.8M397.7 133.9l-2.5 1.7M389.2 136.8l1.9-1.1 2.1-.7M395.2 135.6l-2-.6M480.4 161l.8-1.7M479.3 158.2l.7-.1M480 158.1l1.2 1.2M486.3 154.1l-.3-.3M486.3 154.1l1.4-.7M487.7 153.4l-.5-1.6M487.2 151.8l-1.2 .4M486 153.8l0-1.6M487.8 155.7l0 .2M487.8 155.7l-1.5-1.4M486.3 154.3l-1 1.2M487.8 155.9l-.7 .7M487.1 156.6l-1.8-1.1M490.9 163.1l-1.2 1.9M491.7 159.6l-1.8 1.1M489.9 160.7l-1.3 1.3-.7 1.6M491.7 159.5l0 .1M491.7 159.5l-1-1.3M489.9 160.7l-.3-1.7M490.7 158.2l-1.1 .8M481.2 159.3l.5-.5M483.7 160.8l-.7-1.7M487.2 157.5l1.4 .5M487.2 157.5l-.9 1.6-.2 1.8M488.6 158l.1 .5M485.4 157.5l1.6-.4M485.4 157.5l-.3 1.3M487 157.1l.2 .4M485.1 158.8l1 2.1M485.8 163.7l.5-2M483 159.1l.6-.9M489.6 159l-.9-.5M304.4 208.5l1.2 1.4 1.9 .5 1.1 1.4 1.6 .9M247.4 184.2l-1.5 .9M247.9 199l-1.3-1.3-1.5-.7-1.7-.5M243.4 196.5l-1-1.3-.4-1.7-1-1.3M231.6 199.9l-1.4-1.8-.6-2.3M231.6 199.9l1.6-.7 1.8 0 1.7-.6 1.5-1 1.9 .3 1.5-1.2 1.8-.2M229.6 195.8l1.3-1.3 1.4-1.3M229.6 195.8l-1.5-.6-1.5-.6-1.4-.8M225.2 193.8l-1.2-1.4M225.2 193.8l-1.2 1.3-1.3 1.2-1 1.4-1.1 1.4-.6 1.7-1.1 1.3M213 195.2l1.2-1.2 1.5-1 1.1-1.4M213 195.2l1.5 1.1 .5 2 1.6 1 .9 1.6 1.4 1.2M209.3 195.5l1.9 .1 1.8-.4M143.3 193l1.8 .7 1.7-.6 1.8 .1M146.5 205l.2-1.8 .6-1.8 1.4-1.4 .5-1.8 .3-1.8 .6-1.7M150.1 194.7l-1.5-1.5M148.6 193.2l-.3-1.8-.6-1.8-.1-1.9M175.9 232.9l.6-1.8-.1-1.9-.8-1.9 .4-1.8 .6-1.8-.3-1.9M187.4 235.3l.6-1.5 .6-1.6 1-1.2 1.1-1.3 .9-1.3 .4-1.6 1.4-1.1 .4-1.7M193.8 224l-.7-1.6-1.7-.8-.4-1.9-1.8-.8-.8-1.6-1.2-1.2-.9-1.5M186.3 214.6l-1.5 1-1.6 .8-1.3 1.2-1.6 .7-1.3 1.3-1.3 1.2-1.4 1M162.3 226.7l1.5 1.2 .9 1.7 1.1 1.5 1.3 1.4 .5 1.9 1.3 1.3M164.8 217.5l2-.5 2 .5M176.3 221.8l-1.7-.4-1-1.8-1.7-.5-1.6-.7-1.5-.9M247.9 199l-.9 1.7 .4 2.1-.5 1.8-.6 1.9M231.6 199.9l0 1.9-.6 1.8-.1 1.8 .1 1.9M231 207.3l1.6 1.2 1.1 1.5M233.7 210l1.7-.3 1.6-.2 1.5-.5 1.5-.9 1.7 .1 1.4-1 1.6-.3 1.6-.4M218.9 202.1l0 1.8M231 207.3l-1.6 0-1.6 .4-1.7-.4-1.7 0-1.6 .6M218.9 203.9l1 1.6 1.5 1.2 1.4 1.2M208.6 196.1l-.2 1.8-.6 1.6-1 1.6 .1 1.8-.9 1.6-.7 1.6M159.5 238.9l-1.2 1-1.5 .8-1.1 1.2-1 1.3-1.6 .6-1.4 .9-.8 1.5-1.4 .9M159.5 238.9l-1.2-1.4-1.2-1.4-1.7-.9-.9-1.7-1.5-1.1-1.1-1.5M151.9 230.9l-1.7 1.3-2 .7-2.1 .5M146.1 233.4l0 1.7-.3 1.7-1.2 1.6 .2 1.7M144.8 240.1l.7 1.9 .2 2M145.7 244l1 1.4 1.2 1.1 1.6 .6M153.7 228.3l-1.8 2.6M165.4 238.3l-2-.1-1.9 .9-2-.2M144.2 231.3l1.9 2.1M143.1 239.5l1.7 .6M142.8 245.5l1.4-.9 1.5-.6M152.7 255l1.7 .7 1.4 1.5 1.7 .7 1.8 .6M152.7 255l-1.4 .8-1.6 .4-1.2 1.3-1.2 1.2-1.7 .4-1.4 .7-1.4 .9M159.3 258.5l.2 1.7-.7 1.6-.5 1.6-.6 1.6-.3 1.6-.3 1.6 .2 1.8M157.3 270l-1.6 .6-1.7 .2-1.6 0-1.8-.4-1.6 0-1.6 .7-1.7 .2-1.6 .3-1.7-.1M142.8 260.7l-.6 1.8 .5 1.8-.1 1.8 .1 1.8 .1 1.8-.4 1.8M162.4 257.6l-1.6 .2-1.5 .7M149.5 247.1l.6 1.6 .6 1.6 1.2 1.4 .3 1.7 .5 1.6M174.3 258.7l-.1 1.7 .8 1.6-.8 1.8 .9 1.6-.2 1.7 .3 1.6 0 1.7 .2 1.7M175.4 272.1l-1.2 1.2-1.6 .8-1.4 .9-1.5 .9M159.1 275l-.4-1.8-.5-1.7-.9-1.5M183.3 255.2l1.2 1.1 .9 1.5 1.7 .5 1 1.3 1.7 .6 .8 1.5 1.4 .9 .9 1.5 1.6 .5 1.1 1.3M195.6 265.9l1.9-.3 1.6-1.1 1.7-.9 2 0 1.6-1.1M191.3 243.1l1.6 .4 1.7-.5 1.5 .9 1.6-.1 1.6-.2 1.6 .9 1.6-.5 1.6 .2 1.6 .3M205.7 244.5l.7 1.7 1.1 1.5 1.4 1.3 .8 1.6 .8 1.7M210.5 252.3l-1.4 1.2-.4 1.7-1.2 1.3-.1 1.9-1.2 1.2-1.2 1.3-.6 1.6M309.7 251.1l-1.6-.8M308.1 250.3l-.2 0M327.1 63.4l1.8-.5 1.3 1.4 1.6 .3 1.7 0M334.4 54.6l.8 1.4 1.5 .9 .5 1.6 1.6 .9 .6 1.5M339.4 60.9l-1.3 1.3-1.8 .3-1.1 1.6-1.7 .5M428.9 123.1l-1.8-.2-1.5-1-1.4-1.1-1.9 .2-1.5-.8-1.3-1.4-2 .3-1.5-.9-1.5-1.1-1.5-.9-1.7-.2M412.3 134.2l-1.5-.8-.5-1.8-1.8-.4-.8-1.4M411.3 116l-.8 1.6-1.5 1.2-1.3 1.3-.4 1.9-1.2 1.4M407.3 128.2l.4 1.6M402.6 134l.2-.4M402.8 133.6l1.3-1.6 2.1-.8 1.5-1.4M399.5 92.5l-.4-1.8-.1-1.9-.5-1.8-.2-1.9 .3-1.9M399.5 92.5l1.5 .8 1.7 .1 1.7 0 1.5 .7M405.9 94.1l.6-1.6 .5-1.6 .4-1.7 1-1.4 .4-1.7 1.1-1.4 .3-1.7 .6-1.6 .7-1.6 1.1-1.4 .4-1.6M398.6 83.2l1.2-1.2 1.4-.9 1.1-1.3 1.5-.8 1.5-.8 .8-1.6 1.6-.8 1.1-1.2M408.8 74.6l1.9 1.4 2.3 .8M391.7 96.4l1.5-.8 1.6-.8 1.5-.8 1.8-.4 1.4-1.1M391.7 96.4l-.8-1.5-1.2-1.1-1-1.2-1.7-.7-.3-1.8-1.6-.8-.9-1.3-1.4-1-.8-1.4M382 85.6l.9-1.6 1.1-1.4 1.5-1.1 .7-1.7 1.8-.9 .8-1.7M392.8 78l1.7 1 .9 1.9 2 .7 1.2 1.6M406.5 70.8l1.2 1.9 1.1 1.9M424.3 75.1l-2.1 2.1M424.3 75.1l.7-1.7-.1-1.8 .8-1.8 0-1.8 0-1.8M422.2 77.2l-1.8 .5-1.9-.5-1.8 0-1.9 0-1.8-.4M411.5 103.8l-.7-1.7-1-1.5-.5-1.8-1.3-1.5-.3-1.8M411.5 103.8l1.8 0 1.7-.3 1.7-.8 1.8 .4 1.8-.4 1.5-1.3 1.8 .1 1.7-.3 1.8-.3M407.7 95.5l1.6-.4 1.3-1 1.5-.6 1.1-1.3 1.7-.4 1.4-.8 1.4-.6 1.5-.7 1.3-1 1.4-.7 1.3-1M427.1 100.9l.1-1.7-.6-1.8 .8-1.7-.4-1.7 .1-1.7M409.4 111.3l-1.8 .3-1.7-.5-1.7-.1-1.7-.2-1.7-.1M409.4 111.3l.7-1.8 .4-1.9 0-2 1-1.8M389.4 102l1.5 .9 1.1 1.6 1.6 .8 1.3 1.3 1.4 1.1 1.7 .8 1.6 .9 1.2 1.3M411.3 116l-.8-1.5-.3-1.7-.8-1.5M377.3 103.8l-.8-1.5 0-1.7-.5-1.6-.3-1.6-1.4-1.2 .3-1.9-.9-1.4M382 85.6l-2.4-.4-2.4 .2M389.4 102l-1.1 1.4-1.7 .7M377.2 85.4l-.6 1M376.6 86.4l-.3 1.8-.7 1.7-1.7 1.2-.2 1.8M365.4 106.6l-2.4-2.1M365.4 106.6l1.7-.6 1.7-.2 1.8-.2 1.7-.2 1.7-.6 1.8 .1M375.8 104.9l1.5-1.1M363 104.5l.5-1.7M363.5 102.8l1.2-1.3 1.1-1.5 1.1-1.4 1-1.5 1.4-1.2 1-1.5 1.5-1.1M373.7 92.9l-1.9 .4M360.1 61.2l.8 2 1 1.8 .6 2M366.7 59.2l.6 1.8 .9 1.7 1 1.6M362.5 67l1.8-.5 1.6-.7 1.7-.5 1.6-1M378.5 59l-1.4 1.3-.8 1.6-1 1.5-1.4 1.2-1.3 1.3M372.6 65.9l-1.7-.8-1.7-.8M352.8 71.4l.4 .4M352.8 71.4l-1.8 .2-1.5 .7-1.7 .4-1.4 1.2-1.7 .4M353.2 71.8l-.6 1.6-1 1.4-.5 1.6-1.5 1.1-.3 1.8-.6 1.5-1.1 1.4M347.6 82.2l-.7 .4M344.7 74.3l0 2 .6 1.8 .8 1.8 0 1.9M346.9 82.6l-.8-.8M329.5 72.3l2.2 .6M329.5 80.4l1.7 1.2M331.2 81.6l.8-1.6 .9-1.6M345.4 87.9l.2-1.9 1-1.6 .3-1.8M345.4 87.9l-1.4-1.3-1.7-.8-1.4-1.3-1.9-.6-1.3-1.5M346.1 81.8l-1.4-1.1-1.9 .1-1.2-1.5-1.8-.3M337.7 82.4l.6-1.9 1.5-1.5M316.6 85l1.9-.4 1.9 .1 1.9-.5 2 .3M316.6 85l1.4 1.2 1.9 .4 1.3 1.3 1.5 1.1 1.7 .7M324.3 84.5l1.4 1.1 1.4 1 .9 1.5M324.4 89.7l1.8-.9 1.8-.7M315.5 84.7l1.1 .3M323.7 80.2l.5 2.1 .1 2.2M301.2 134.8l-.7-2.1-.1-2.3M301.2 134.8l-1.1 1.4-1.8 .5-1.1 1.3M300.4 130.4l-1.6 .5-1.6-.5-1.6 .1-1.6-.2-1.6 .3-1.6-.4M297.2 138l-1.6 .2-1.6 .7-1.7-.3-1.6 .8M290.7 139.4l-.8-1.6-1.1-1.4-.2-1.8-.8-1.6M287.8 133l1.2-1.7 1.8-1.1M300.4 130.4M310.8 125.7l.3 1.8-.9 1.6 0 1.7 .3 1.8-.3 1.7-.5 1.6 .3 1.8M307.9 138.2l-1.8-.7-1.3-1.5-2-.2-1.6-1M300.3 147.7l-.2-1.7-1-1.5-.6-1.6-.4-1.6-.2-1.7-.7-1.6M292.2 118.9l-.2 1.6-.3 1.6 0 1.7-.4 1.5-.4 1.6 .5 1.7-.6 1.6M297.3 117.5l.9 1.5-.3 1.8 1 1.5 .3 1.6 .1 1.7 .6 1.5 .3 1.6 .2 1.7M287.8 145.1l.9-1.4 .2-1.7 .7-1.4 1.1-1.2M285 131.8l2.8 1.2M326.2 139l-.1-1.5M338.7 135.3l-1.7-.1-1.6-.8-1.8 .8-1.6-.8-1.7-.1M330.3 134.3l-1.3 1.1-1.7 .8-1.2 1.3M316.3 135l1.8-.2 1.6 .9 1.8 .1 1.7 .7 1.8-.1M316.3 135l-1.3 1.3-1.7 .8-1.7 .8M325 136.4l1.1 1.1M331.2 81.6l.9 2.8M328 88.1l.1 0M328.1 88.1l1.6-1 .7-1.9 1.7-.8M332.9 78.4l1.3-1.1 1.6-.7 1.7-.4 1.6-.5M339.1 75.7l.4 1.6 .3 1.7M333.3 84.6l-1.2-.2M219.2 76.6l.4 1.7 1.7 .8M230.6 76.1l-.9 1.6-.7 1.6M239.5 125.1l2-.8 1.6-1.5M239.5 125.1l.3 1.7 .7 1.5 1.5 1.2 .4 1.7 .8 1.5M243.1 122.8l1.3 .9 1.6 .5 1.4 .9 1.3 .9 1.2 1.2 1.6 .4 1.1 1.3 1.9 .1 .9 1.5 1.6 .5M243.2 132.7l1.6 .8 1.8 .1 1.6 .7 1.9-.2 1.7 .4 1.5 1.3 1.8 .2 1.8 .3M256.9 136.3l-.5-1.8 .5-1.8 .1-1.7M246.8 118.3l-1.1 1.6-1 1.7-1.6 1.2M235.7 124.9l1.8 .5 2-.3M242.8 138.6l.4-2-.3-1.9 .3-2M260.8 124.9l-.9 1.5-1.3 1.3-.3 1.9-1.3 1.4M257.5 137.9l-.6-1.6M199.3 117.9l1.8 .3 1.7 .7 1.5 1.1 1.8 .2M464.9 147.1l-.8 1.8-.6 2-.3 2M463.2 152.9l-1 1.6M459.6 133.6l1.4 1.9 .7 2.3M456.8 52.1l-.3-1.7M433.5 56.8l1.8 .9 2.1-.1 1.9 .8M431.4 52.2l1-1.4M468.5 75.5l-1-1.5-1.4-1.2-.7-1.7-1.6-1-1.1-1.4-1.2-1.3M463.5 60.9l-.6 2-.9 1.9-.5 2.1M461.5 67.4l0-.5M461.5 66.9l-1.7 .2-1.6-.8-1.7 .1-1.7 .3-1.6-.7-1.7 .3-1.6-.7-1.6-.3-1.7 .1-1.7 .1-1.6-.1M445 89.6l1.6 0M445 89.6l-1.3-1.3-1.9-.4M446.6 89.6l.6-1.6 1.2-1.2 .6-1.5 .8-1.5 .9-1.4 .9-1.4 .6-1.6 1.2-1.1M441.8 87.9l-1.3-2.9M443.4 71.8l1.3 1.1 1.8 .3 1.2 1.3 1.6 .6 1.2 1.1 1.7 .4 1.2 1.2M453.4 78.3l0-.5M436.2 107.5l.3-1.7 1.4-1.2 .5-1.6 .9-1.4 .8-1.4 .6-1.6 .7-1.5 1.1-1.3 .7-1.5 .2-1.8 1.4-1.1 .2-1.8M454.1 95.2l-1.4-1.2-1.5-1.2-1.9-.6-1.2-1.5-1.5-1.1M427.1 92.3l1.7-.4 1.5-.8 1.7-.2 1.8-.1 1.5-1 1.5-.8 1.9 .3 1.4-1.3 1.7-.1M463 84.8l-1.7-.5-1.3-1-1-1.5-1.3-.9-1.3-1.2-1.5-.6-1.5-.8M424.3 75.1l.2 .1M443.3 65.4l-.4 2.1 .5 2.1 0 2.2M461.5 67.4l-.9 1.4-1.3 1-.7 1.6-1 1.3-1.1 1.2-1 1.4-1.3 1-.8 1.5M363.9 138.2l1.8-2.3M352.3 139.2l1.3-1.1 1.5-.9 1.1-1.4 1.7-.7 1.2-1.2 1.6-.8M360.7 133.1l1.3 .9 1.4 .8 1.6 .5M365 135.3l.7 .6M367.7 137.4l-1.9-1.5M367.7 137.4l1.6 2.6M365.7 135.9l.1 0M350.7 128.8l1.7-.6 1.8-.3 1.8-.1 1.7-.7 1.9 .1M350.7 128.8l-.2 1.7 .4 1.7 .4 1.7 .6 1.6 .3 1.7-.1 1.7M360.7 133.1l.1-1.7 .3-1.6-.6-1.7M359.6 127.2l.9 .9M365 135.3l.6-2 .4-1.9-.3-2.1 .6-1.9M360.5 128.1l2 .1 1.8-.9 2 .1M364.9 112.8l-1.7 .3-1.6 .7-1.6 .5-1.5 1.2-1.9-.2-1.3 1.4-1.8 .2M353.3 117.9l.2-1M353.3 117.9l1.9 .7 1.2 1.6 1.6 1.1 1.6 1.1M359.6 122.4l1.5-1 1.7-.5 1.7-.5 1.1-1.7 1.8-.4M387.6 138.4l-1.9-.2-1.7-.9M381 142.8l.2-1.6-.3-1.6 .1-1.7M384 137.3l-3 .6M367.7 137.4l1.4-1.3 1.6-.9 1.8-.5M372.5 134.7l1.3 .9 1 1.3M373.9 139.2l1.2-1.2M374.8 136.9l.3 1.1M378.2 143.1l-.7-2.3-.1-2.3M375.1 138l2.3 .5M381 137.9l-1.4-.3M377.4 138.5l2.2-.9M473.6 155.3l1.2-1M473.6 155.3l-.7-1.4M472.9 153.9l1.3-.5M474.8 154.3l-.6-.9M474.4 152.9l-.2 .5M474.4 152.9l.8-.4M475.4 154.5l1-1M475.4 154.5l-.6-.2M476.4 153.5l-.2-.4M475.2 152.5l1 .6M472.7 155.9l.9-.3M471.6 155l.3-1.2M473.6 155.6l0-.3M471.9 153.8l.7-.1M482.2 137.2l-1.1 1.7M482.2 137.2l3.2 .2M481.1 138.9l.3 2M481.7 141.6l1.8 1.7M485.4 137.4l-.5 2.3 .4 2.4M483.5 143.3l1.2-.3M485.3 142.1l-.6 .9M481.7 141.6l.5 3.1M483.5 143.3l-.3 1.1M483.2 144.4l-1 .3M480.3 143.8l1.3 1.2M480.3 143.8l1.1-2.9M481.6 145l.4 0M481.8 122.1l1.1 1.4 1.7 .8 1 1.6 1.1 1.4 1.5 1 1.1 1.4 .9 1.6 1.1 1.4M477 130.7l1.4 1 .9 1.4 .8 1.6 1.4 1 .7 1.5M486.7 137.1l-1.3 .3M486.7 137.1l1.5-1 1.7-.4 1.5-1M473.6 155.6l1 1M475.4 154.5l.4 1.1M475.8 155.6l-1.2 1M478.1 157.7l-1-1.6M477.1 158.8l-1-1.3M477.1 156.1l-1 1.4M473.8 163l.3-1.9 .7-1.8 .5-1.9M475.3 157.4l-.7-.8M475.3 157.4l.8 .1M476.7 149.2l.8-1.4M476.7 149.2l-1.2-.4M477.5 147.8l-.6-.6M476.9 147.2l-1.3 .6M475.6 147.8l-.2 .8M475.5 148.8l-.1-.2M485.4 157.5l-.5-.6M487 157.1l.1-.5M485.3 155.5l-.1 .1M483.6 158.2l-.3-1M484.9 156.9l-1.6 .3M491 157.2l-.3 .4M491 157.2l-.4-1.5M488.9 156.1l.5-.4M490.7 158.2l0-.6M492.2 155.4l-1-.4M488.6 158l.7-.8M157.7 197l1.3-1.4 2-.4 1.5-1.2 1.5-1.2 1.2-1.4M157.7 197l-1.5-1.3-2-.6-1.6-1M152.6 194.1l1.3-1.3 .3-1.9 .6-1.7M165.2 191.4l-1.5-2.8M158.7 206l.2-1.9-.5-1.7-.3-1.8-.1-1.8-.3-1.8M150.1 194.7l2.5-.6M186.3 210l-1.2-2.5M186.3 210l.3 2.3-.3 2.3M168.8 217.5l1.3-1.3 .5-1.8 .6-1.7 .9-1.5 1.1-1.4 1.2-1.3 .6-1.7 1.2-1.3M185.1 207.5l-1.7-.6-1.8-.5-1.9 .3-1.7-1-1.8-.2M161.3 206.8l1.4-1.2 1.9-.4 1.5-1.1 1.7-.7 1.4-1.2 1.5-1M176.2 205.5l-1.7-.7-1-1.5-1.7-.7-1.1-1.4M170.7 201.2l-.1-1.7-.2-1.6 .5-1.6-.6-1.6M176.6 188.1l-.9 1.5-.7 1.6M170.3 194.7l1.7-1.1 1.5-1.2 1.5-1.2M260.4 212l.5 1.5 .5 1.6-.7 1.8 .7 1.5 .3 1.6 .6 1.6 .4 1.6-.5 1.7 .6 1.6M260.4 212l-1.6-.4-1.6 .9-1.6 .2-1.7-.1-1.6 0-1.6 .2M250.7 212.8l-.5 1.8-.6 1.8-.6 1.8-.7 1.8M248.3 220l.8 1.6 1.6 1 .8 1.6 .6 1.7M262.8 226.5l-.3 .4M265.1 207.9l-1.8 1.1-1.6 1.3-1.3 1.7M272.3 221.8l-1.5 1-1.8 .3-1.2 1.6-1.9 .1-1.3 1.4-1.8 .3M246.3 206.5l.7 1.8 1.6 1.2 1.2 1.5 .9 1.8M233.7 210l.6 2 0 2-.5 2M233.8 216l1 1.5 .7 1.7 1.3 1.3 1.1 1.4M264 232.9l-.4 1.7-1 1.5-.9 1.6-.8 1.6-.1 1.9-.9 1.5M258 256.6l.3-1.7M205.7 207.9l-.2 .4M205.5 208.3l.1 1.8 .8 1.5 .7 1.6 .3 1.7-.2 1.9 .9 1.5M219.6 214l-1.5 1-1.8 .3-1.7 .5-1.4 1.2-1.7 .4-1.7 .4-1.7 .5M219.6 214l1.2 1.1 .9 1.5 1.5 .8 .5 1.7 1.3 1.1M179.9 275.2l1.4-1.1 1.9-.3 1.4-1 1.6-.7 1.6-.7 1.1-1.5 1.7-.6 1.8-.3 1.4-1.2 1.5-.9M195.3 266.9l.1 2 .7 2-.3 2.1M195.8 273l-1 1.4-.6 1.6M175.4 272.1l1.4 1.1 1.8 .7 1.3 1.3M204.4 262.5l1.3 1.2 .4 1.9 1.2 1.2 1.3 1.2 1.3 1.2 .8 1.6 .6 1.7 1 1.4 1.3 1.2M198 275.6l-1.3-1.1-.9-1.5M342.9 61.4l-.1 0M342.9 61.4l1.7 .5M342.8 61.4l-.3 2.1 0 2-.5 2M344.6 61.9l1.2 1.5 1.9 .6 1.8 .8 1.4 1.3 1.4 1.3M342 67.5l1.4 .9 1.8-.2 1.3 1.2 1.7 .2 1.5 .5 1.5 .7 1.5 .5M352.7 71.3l0-2-.4-1.9M344.3 57.9l-1.1 1.6-.3 1.9M339.4 60.9l1.7-.1 1.7 .6M351 59.4l-1.7 .4-1.7 .3-1.5 1-1.5 .8M353.7 64.3l-1.1 1.4-.3 1.7M352.8 71.4l-.1-.1M355.6 72.8l1.7-.7 1.6 0 1.8 .2M362.5 67l-.7 1.7-.1 2-1 1.6M341.4 68.3l-1.6-.8-1.8-.1-1.6-.7-1.7-.2M341.4 68.3l-.2 1.8-.3 1.7-.7 1.7M340.2 73.5l-.7 .5M339.5 74l-1.6-.6-1.2-1.3-1.8-.3M334.9 71.8l.2-1.7-.6-1.8 .2-1.8M333.5 64.6l1.2 1.9M342 67.5l-.6 .8M344.7 74.3l-2.2-.8-2.3 0M339.1 75.7l.4-1.7M331.7 72.9l1.4-1.1 1.8 0M400.8 110.7l-1.2 1.4-.8 1.6-1.7 .9-1.1 1.4-.9 1.6-1.4 1.1M406.1 123.4l-2 .1M397.6 122.1l-1.2-1.2-1.1-1.4-1.6-.8M386.6 111.8l1.3 1.2 .4 1.8 1.6 1 .3 1.9 1.3 1.1M391.5 118.8l2.2-.1M376.9 120.5l1.5 1 1.8-.1 1.7 .3 1.4 1 1.7 .5M376.9 120.5l.9-1.5 1.3-1 1.6-.7 1.1-1.1 .9-1.5 1.2-1.1 1.5-.8 1.2-1M385 123.2l1.9-.9 2.3 0M391.5 118.8l-1.2 1.8-1.1 1.7M345.4 88.3l0-.4M345.4 88.3l1.8-.7 1.9 .3 1.8 .1 1.8-.3 1.8-.4M347.6 82.2l1.8 .6 1.7 0 1.8 0M354.5 87.3l-1.1-2.2-.5-2.3M355.6 72.8l0 .1M355.6 72.9l-.5 1.5-.3 1.6 .3 1.7-1.2 1.4 .2 1.7-.6 1.5M353.5 82.3l-.6 .5M355.6 72.9l.8 1.5 .4 1.6-.2 1.8 1.1 1.4 .7 1.5-.1 1.8M369.2 81.6l-1.7 .3-1.5 .9-1.3 1.1M364.7 83.9l-1.5-1.2-1.8-.1M377.2 85.4l-.9-1.5-1.2-1.4-1.1-1.4M374 81.1l-1.6 .1-1.7-.2-1.5 .6M376.6 86.4l-1.8-.2-1.5 1.2-1.9-.7-1.6 .8-1.7-.1-1.6 .8-1.8 0M364.7 88.2l.2-2.2-.2-2.1M360.7 72.3l.6 .5M361.3 72.8l.2 2.4 1.1 2.1M358.3 82.5l1.1 .9M359.4 83.4l2-.8M371.8 93.3l-1.9-.6-2 .5-1.9-.6M364.7 88.2l-.3 .4M364.4 88.6l.3 2.2 1.3 1.8M363.7 94.7l2.3-2.1M373.7 78.5l-1.6-.6-1.2-1.1-1.5-.7-1.3-1.1-.9-1.4-1.6-.6M373.7 78.5l.9-1.5 .3-1.7 .8-1.6 .4-1.6M365.6 73l1.3-1 .8-1.5 1.2-1.1 1.7-.6 1-1.3 1-1.3M376.1 72.1l-.5-1.7-1-1.4-1.1-1.3-.9-1.5M374 81.1l-.3-2.6M361.3 72.8l2.1 .1 2.2 .1M386.2 70l-1.7 .4-1.7 .2-1.6 .9-1.7 0-1.8-.1-1.6 .7M372.6 65.9l0 .3M196.3 83.7l-1.8 .4-1.8-.7-1.8 .1M190.9 83.5l-1.5 1.5-1.7 1.5M205.9 73.3l-1 1.5-.6 1.7-1.2 1.2-1.1 1.4-1.7 .9-.4 1.8-1.3 1.3M196 80.1l0 1.8 .3 1.8M186 85.9l1.7 .6M464.3 144.1l1.8 .9 1.9 .9M461.7 137.8l1.3 1.1 .7 1.6 1.3 1.1 1.2 1.2 1.2 1 1.3 1.1M468.7 144.9l-.7 1M464.9 147.1l2 .3M466.9 147.4l1.3-.8M468 145.9l.2 .7M359.6 127.2l.4-1.6-.2-1.6-.2-1.6M367.4 118.3l1.8 1.5 2 1.2M371.2 121l-1 1.6-.2 1.9-1 1.6M375.8 104.9l-.4 1.7 .5 1.7-.1 1.7-.3 1.8 .7 1.7-.5 1.7 .5 1.8-.7 1.7 .3 1.7M371.2 121l2.3-.1 2.3-.5M376.9 120.5l-.6 .1M375.8 120.4l.5 .2M388.2 131.6l-.5-.7M384 137.3l-1-2.1-.4-2.2M387.7 130.9l-2.6-.8M382.6 133l1.7-1.1 .8-1.8M385 123.2l-.7 1.8 .3 2-.4 1.8M389.2 122.3l.5 1.6 .5 1.5M385.1 130.1l-.9-1.3M377.3 124.7l-.6-2-.4-2.1M377.3 124.7l1.3 1.1 .2 1.8 1.3 1.1M384.2 128.8l-2 0-2.1-.1M382.6 133l-1.1-.3M379.1 134.1l2.4-1.4M380.1 128.7l-.2 1.3M379.9 130l1.6 2.7M480.3 146l-.8-.8M480.3 146l-.1 1M480.2 147l0 .1M478.8 146.9l1.4 .2M478.8 146.9l-.5-1.2M478.3 145.7l1.2-.5M480.3 146l1.3-1M479.5 145.2l0-1M481.1 138.9l-1.7 .7-1.6 1.1M477.8 140.7l.8 3M479.5 144.2l-.9-.5M473.8 140.4l1.1 1.8 1 1.8M473.8 140.4l1.9 .6 2-.3M477.7 140.7l-.7 1.7-.3 1.7M475.9 144l.8 .1M468.7 144.9l.7 0M477.8 140.7l-.1 0M473.8 140.4l-.4-.1M470.8 138.3l.1 .1M470.9 138.4l1.4 1.2M473.4 140.3l-1.1-.7M468.3 153.1l1.2-1.2M470.2 152l.3 1.4M471.9 153.8l-.5-.3M470.5 153.4l.9 .1M474.4 152.9l-1.2-1M472.6 153.7l.5-1.8M473.2 151.9l-.1 0M475.2 152.5l-.1-1M473.2 151.9l1.2-.7M475.2 149.8l-1 .3M475.2 149.8l.3-1M475.4 148.6l-1.6 0M473.8 148.6l-.2 1.1M474.2 150.1l-.6-.4M478.6 157.7l.7-1.4M480 158.1l.7-1.1M480.7 157l-.7-.7M479.3 156.3l.7 0M481.7 158.8l.2-1.4M480.7 157l.8 .1M481.9 157.4l-.4-.3M483.3 157.2l-.1-.1M481.9 157.4l1.3-.3M486.7 137.1l0 2.1 1.1 1.9 .4 2M485.3 142.1l1.3 1.7M488.2 143.1l-1.6 .7M491.9 149.8l-.5-1.3M490.6 150.2l-.7-.9M490.6 150.2l-1.4 1.2M489.2 151.4l-.6-1.7M489.9 149.3l-1.3 .4M487.1 150.4l1.2-.8M486.3 149.9l.3-1.6M486.8 148.2l-.2 .1M486.8 148.2l1.2 .3M489.2 151.6l0-.2M487.1 150.4l.2 1.2M488.3 149.6l.3 .1M485.5 146.3l-.2 .1M485.5 146.3l-.2-1.6M485.3 146.4l-1 0M483.9 144.7l.1 1.4M483.9 144.7l.9-.3M484.3 146.4l-.3-.3M485.3 144.7l-.5-.3M484.8 148.5l.4-.4M484.8 148.5l-1.1-.9M485.2 148.1l.1-1.7M483.7 147.6l.6-1.2M483.2 144.4l.7 .3M482 145l.4 1.1M482.4 146.1l1.6 0M484.7 143l.1 1.4M486.4 144.1l.2-.3M491.9 149.8l-.1 .3M491.8 153.3l.3-.8M491.2 155l-.3-1.2M490.9 153.8l.9-.5M491.2 151.6l.9 .9M491.2 151.6l.1-1.2M491.3 150.4l.5-.3M490.8 153.8l-1-1.4M490.8 153.8l-1.4 .7M489.4 154.5l-1-.6M489.6 152.3l-1.3 1.3M489.6 152.3l.2 .1M488.4 153.9l-.1-.3M490.9 153.8l-.1 0M491.2 151.6l-1.4 .8M489.4 155.7l0-1.2M487.8 155.7l.6-1.8M487.7 153.4l.6 .2M489.2 151.6l.4 .7M490.6 150.2l.7 .2M486.3 154.1l0 .2M185.7 206l.4-1.8-.6-1.8-.2-1.7-.2-1.8-.1-1.8M185.7 206l1.1-1.3 1.3-1.1 1.5-.7 1.2-1.1 1.6-.7 1.1-1.3 1.6-.5 1.3-1M185 197.1l1.2-1.5 .8-1.7 .9-1.6 .7-1.8M196.4 198.3l-.2-1.7 .2-1.6 .9-1.5-.3-1.6M197 191.9l-1.1-1.3M185.1 207.5l.6-1.5M175 191.2l1.6 .6 1.5 .7 1.3 1.2 1.4 .7 1.5 .8 1.2 1.3 1.5 .6M205.3 206.1l-1.3-1-1.1-1.4-1.6-.7-1.3-1.1-.8-1.6-1.5-.9-1.3-1.1M186.3 210l1.6-.4 1.6 .3 1.6-.1 1.6-.7 1.6 .2 1.6-.4 1.6-.1 1.6 .3 1.6-.8 1.6 .4 1.6-.1 1.6-.3M197.7 191.7l-.7 .2M251.4 271.2l-1.8 .2-1.5 1.1-1.8 .3-1.8 .3-1.3 1.4-1.8 .4M254.6 265.9l-.2-1.8-.8-1.4M241.4 274.9l-.1-2-1.3-1.7 .1-2.1-.7-1.9M253.6 262.7l-1.6 .4-1.7 .2-1.5 .7-1.7 .2-1.5 .8-1.5 .5-1.6 .6-1.5 .8-1.6 .3M258 256.6l-1.7 .9-.9 1.9-1.7 .9M253.6 262.7l.1-2.4M247 247.2l-1.8 .4-1.3 1.4-1.9 0-1.6 .8-1.5 1.1M247 247.2l.8 1.4 0 1.7 .8 1.4 .7 1.5 .7 1.5 .3 1.6 .4 1.5M238.9 250.9l1.1 1.6 .7 1.9 .4 2 1.2 1.6M250.7 257.8l-1.7-.3-1.7 .8-1.6-.6-1.7 .4-1.7-.1M248.7 232.1l0 2 .1 1.9 1 1.8-.3 2 .4 1.9M248.7 232.1l-1.7 .1-1.4-1.3-1.8 .4-1.4-1-1.7-.2-1.7 .1-1.6-.5-1.5-.5M233.8 237.6l1.7 .3 1.5 .7 1.5 .6 1.8-.2 1.4 1.1 1.8-.5 1.6 .5 1.4 .9 1.6 .4 1.7 .3M233.8 237.6l.6-1.8-.1-1.8-.1-1.9 .7-1.8M249.9 241.7l-.1 0M235.9 229.2l-1 1.1M259.9 242.7l-1.7 .4-1.7-.3-1.6-.8-1.7 0-1.6-.4-1.7 .1M237.9 221.9l-.9 1.7-.5 1.9 .4 2-1 1.7M247 247.2l1-1.8 .4-2.1 1.4-1.6M238.9 250.9l-1.8 .1-1.5-1-1.8 0M233.8 250l-.5-1.8-.8-1.7-1.1-1.6-.3-1.8-.4-1.9M230.7 241.2l1.5-1.8 1.6-1.8M224.5 226.5l-.9 1.5-.3 1.9-1.4 1.3-1 1.5-.4 1.8M224.5 226.5l-.9-1.9M220.5 234.5l-1.6 .1-1.6-.7-1.7 .8-1.6-.6-1.6 .1-1.6 .1-1.6-.5M209.2 233.8l-.9-1.6-.1-1.8-.6-1.6-.1-1.8-.1-1.8-.7-1.7M206.7 223.5l0-.1M227 241l1.9 .1 1.8 .1M227 241l-1.1-1.4-1.8-.8-.9-1.8-1.7-.9-1-1.6M234.9 230.3l-1.6-1-1.7-.6-2 .1-1.6-1.1-1.9-.2-1.6-1M225 220.2l-.4 2.3-1 2.1M205.7 244.5l.9-1.4-.1-1.7 .7-1.5 .5-1.5 .1-1.7 .6-1.4 .8-1.5M210.5 252.3l1.4 .2M211.9 252.5l1.5-1 1.5-.9 .9-1.6 1.3-1.1 2-.2 .8-1.9 2-.2 .8-1.7 1.8-.5 1.3-1.2 1.2-1.2M224.8 269.1l1.6-.4 1.6-.3 1.7 .1 1.6-.2 1.5-.5 1.6-.2 1.7 .3 1.6-.7 1.6-.1M224.8 269.1l.2-1.7-.2-1.6-.4-1.6-.5-1.6-.3-1.6 .1-1.6M230.2 256.1l-1.6 .9-1.6 .9-1.9 .3-1.4 1.2M230.2 256.1l1.6 1 1.4 1.2 1 1.7 1.7 .9 1.3 1.3 1.5 1.2M238.7 263.4l.6 1.8 0 1.9M222.8 275.4l-.1-1.8 1.2-1.4 .6-1.5 .3-1.6M239.4 267.2l-.1-.1M211.9 252.5l1.5 .9 1.3 1.1 1.7 .5 1.4 1 1.5 .8 1.5 .7 1.3 1.3 1.6 .6M233.8 250l-1.2 1.3-.9 1.6-.7 1.6-.8 1.6M242.3 258l-.7 1.5-1.3 1-1.1 1.3-.5 1.6M393.7 132.6l-1.1-2.1M397.2 131l.7-2M397.9 129l-.1-1.4M399 125.8l-1.2 1.8M390.2 125.4l1.8 1.2 1.7 1.3M388.2 131.6l2.1-1 2.3-.1M397.7 133.9l-.5-2.9M393.2 135l.5-2.4M358.5 86.6l-1.4 .8-1.6 .5M360.9 88.8l0 2.2-.9 1.9M355.5 87.9l-.8 1.9 .3 1.9M355 91.7l1.6 2.6M356.6 94.3l1.6-1 1.8-.4M354.5 87.3l1 .6M359.4 83.4l-1 1.5 .1 1.7M364.4 88.6l-1.7-.3-1.8 .5M363.7 94.7l-2-.5-1.7-1.3M363 104.5l-2.5-.5M360.5 104l-1.2-1.2-.5-1.6-1.2-1.1-.3-1.8-1.3-1.1M311.9 94.9l.3 .3M311.8 104.7l-.1-1.9 .6-1.9-.5-1.9 .9-1.9-.5-1.9M311.1 125.3l.1-1.7-.2-1.7 .6-1.7 .2-1.7M311.8 118.5l1.4-1.2 1.9-.4 1.5-1.3 1.6-.8M316.9 129.8l1.2-1.2 1.9 .1 1.1-1.4 1.6-.4M318.3 114.8l1.4 1 1.5 .8 1.3 1.2 1 1.6 1.7 .7M322.7 126.9l1.1-1.5 .4-1.8 .9-1.7 .1-1.8M298.8 116l1.5 .6 1.8-.4 1.6 .5 1.5 .9 1.6 .2 1.7 .1 1.6 .6 1.7 0M310.8 125.7l.3-.4M316.3 135l-.3-1.8 1-1.7-.1-1.7M311.8 104.7l.7 1.5 1.4 1.2 1 1.4 .5 1.7 1.4 1.1 .8 1.5 .6 1.7M325 136.4l-.7-1.5-.1-1.6 .1-1.7-.4-1.6-1-1.4-.2-1.7M350.7 128.8l-1.3-1.2-.9-1.5M339.6 134.4l.3-1.7-.2-1.7 1.1-1.5-.1-1.8M353.3 117.9l-1.2 1.3-1.2 1.4-1.3 1.3M348.5 126.1l.3-2.2 .8-2M330.3 134.3l.6-1.5 0-1.7 0-1.6 .7-1.6 0-1.6 .2-1.6M325.2 120.1l2.6 .2M331.8 124.7l-1.5-1.3-1.4-1.4-1.1-1.7M340.7 127.7l-.9-.7M331.8 124.7l1.7 .1 1.4 1.3 1.6 .3 1.7 .1 1.6 .5M345.4 88.3l-.1 .3M333.3 84.6l1.2 1.9 1.7 1.4M345.3 88.6l-2.8 .9M356 97.2l-1.7 .2-1.7-.2-1.7 .5M355 91.7l-1.8-.4-1.7 .5-1.7 .5-1.7-.1M345.3 88.6l1.2 2.5M348.1 92.2l-1.6-1.1M369.1 132.3l.7-2.3-.2-2.3M369.1 132.3l1.9 .5 1.4 1.2M369.6 127.7l1.5 1.2 1.1 1.5 1.6 .9M372.4 134l1.4-2.7M365.8 135.9l.9-1.3 1-1.4 1.4-.9M369 126.1l.6 1.6M376.3 134l2.4-.2M376.3 134l-1.1-2.8M378.7 133.8l-.5-2.4M378.2 131.4l-2.9-.3M375.3 131.1l-.1 .1M374.8 136.9l.6-1.5 .9-1.4M379.1 134.1l-.4-.3M373.8 131.3l1.4-.1M379.9 130l-1.7 1.4M377.3 124.7l-.6 1.6-.1 1.7-1.1 1.5-.2 1.6M469.1 150.3l.1-.1M469.1 150.3l-1.6 .6-1.7 .4M469.2 150.2l-.8-1.7M465.8 151.3l1.2-1.3 .9-1.5M467.9 148.5l.5 0M463.2 152.9l2.6-1.6M469.5 151.9l-.4-1.6M468.8 148.1l-.4 .4M468.8 148.1l1.3 .1M470.1 148.2l.3 .9M470.4 149.1l-.2 .8M470.2 149.9l-1 .3M466.9 147.4l1 1.1M468.2 146.6l.5 .2M468.7 146.8l.1 1.3M476.8 147l-.8-1.1M476.8 147l1.3-1.4M476 145.9l1.3-1.2M478.1 145.6l-.6-.9M477.5 144.7l-.2 0M477.5 147.8l.4 .1M476.9 147.2l-.1-.2M477.9 147.9l.9-1M478.3 145.7l-.2-.1M478.6 143.7l-1.1 1M476.7 144.1l.6 .6M475.9 144l-.6 .7M473.4 140.3l.8 1.9-.2 2.2M474 144.4l1.3 .3M476 145.9l-.4-.1M475.3 144.7l.3 1.1M468.7 146.8l.9-.4M470.1 148.2l.6-1M470.7 147.2l-1.1-.8M470.9 138.4l-.3 1.7 .6 1.6-.6 1.7 .2 1.6M469.4 144.9l.3 .3M470.8 145l-1.1 .2M469.6 146.4l.1-1.2M472.3 149.9l-1.4 .7M472.8 150.1l0 1.5M472.8 151.6l-1.1 .2M471.7 151.8l-.7-.4M470.9 150.6l.1 .8M471.9 148.8l.4 1.1M470.2 149.9l.7 .7M473.1 151.9l-.3-.3M470.2 152l.8-.6M480 156.3l.8-1.4M480.8 154.9l.1 0M481.5 157.1l.3-1.7M475.8 155.6l1.2 .3M477.5 154l-.5 1.9M479.3 156.3l-.5-.6M478.8 155.7l-1.7 .4M477.1 156.1l-.1-.2M479.8 154.4l-.9 .4M479.8 153.4l-1.4-.4M478.9 154.8l-1.2-.9M478.4 153l-.7 .9M480.8 154.9l-1-.5M477.5 154l.2-.1M488.3 146.5l-1.6 .3M488.3 146.5l0-1.3M488.3 145.2l-1.4-.2M486.9 145l-.7 1.4M486.2 146.4l.5 .4M488.2 143.1M488.2 143.1l.4 1.8M486.4 144.1l.5 .9M488.6 144.9l-.3 .3M485.5 146.3l.7 .1M485.2 148.1l1.4 .2M486.8 148.2l-.1-1.4M490 144.8l1.6 .1M491.1 143.2l-.7-.4M491.1 143.2l.5 1.6M491.6 144.8l0 .1M490.2 143l.2-.2M488.2 143.1l2-.1M488.6 144.9l1.2 0M489.8 144.9l.2-.1M491.4 134.7l-.4 1.6 .1 1.7 .1 1.6-.5 1.6-.3 1.6M484.8 148.7l1.1 1.3M484.8 148.7l-1.1 .9M483.9 150.2l1.2 .5M485.1 150.7l.8-.7M484.8 148.5l0 .2M486 152.2l-.9-.4M485.1 151.8l0-1.1M490.2 146.4l.5 .1M490.2 146.4l-1.4 .5M488.8 146.9l0 .7M488.8 147.6l1.3 .8M490.7 148.2l-.6 .2M490.7 146.5l.2 .3M489.8 144.9l.4 1.5M491.6 145.1l-.9 1.4M488.3 146.5l.5 .4M488 148.5l.8-.9M489.9 149.3l.2-.9M491.4 148.5l-.7-.3M483.4 147.7l-1.3-.7M483.4 147.7l-.5 1.5M482.9 149.2l-.2 0M481.7 148.5l-.1-1.1M481.6 147.4l.5-.4M482.4 146.1l-.3 .9M483.7 147.6l-.3 .1M480.2 147l1.4 .4M480.2 147.1l-.6 1.8M479.6 148.9l1.2 .3M480.8 149.2l.9-.7M485.1 151.8l-.6 .4M483.3 151.1l.6-.9M484.5 152.2l-.6 0M486 153.8l-1.3-.3M484.5 152.2l.2 1.3M481.6 150.9l-.3-.1M481.9 151.1l.2 1.8M481.3 150.8l-1.2 .4M480.1 151.2l-.1 .4M480 151.6l.4 1.3M480.4 152.9l1.1 .2M481.5 153.1l.6-.2M480.8 149.2l.5 1.6M483.3 151.1l-1.4 0M483.9 152.2l-1.3 1M482.6 153.2l-.5-.3M479.8 153.4l.6-.5M478.4 153l0-.6M478.4 152.4l1.6-.8M480.9 154.9l.6-1.8M342.5 188.3l-.1-1.6-.3-1.7M341.1 184.3l1 .7M340.6 183.6l.5 .7M349.3 186.4l-1.8-.5-1.9 .2-1.7-.7-1.8-.4M327.8 120.3l1.9-1.6M329.7 118.7l1.7-.8 1.9-.1 1.9 .3 1.7-.8 1.8-.2 1.8-.3M349.6 121.9l-1.5-.9-1-1.5-1.4-.8-1.5-.8-1.7-.6-1.1-1.3M341.4 116l-.9 .8M336.2 87.9l-.3 1.6-.8 1.5 .3 1.7M342.5 89.5l-1.7 1.3-.9 2-1.4 1.6M338.5 94.4l-1.7-.6-1.4-1.1M328.1 88.1l.4 2.1 1 1.9M329.5 92.1l2.4 1.8M331.9 93.9l1.8-.3 1.7-.9M318.3 114.8l.5-1.8 1.5-1.1 1.3-1.4 .7-1.6 1.1-1.4 .9-1.5M329.7 118.7l.5-1.7 1.5-1.2 .2-1.8 .6-1.5 .6-1.7 1.4-1.2 .3-1.8 .5-1.6 1-1.4M336.2 104.7l.1 .1M346.5 91.1l-.7 1.5-.7 1.6-.8 1.5-.3 1.7-.9 1.4M350.9 97.7l-.7 1.5-1.1 1.1M349.1 100.3l-1.9-.9-2.2 .2-1.9-.8M338.5 94.4l-.2 2.1 .6 2.1 .5 2.1M343.1 98.8l-1.9 .9-1.8 1M332.9 99.8l1.4 1.4 .7 2 1.2 1.5M332.9 99.8l-.7-1.9-.2-2-.1-2M339.4 100.7l-.9 1.4-1.2 1.1-.7 1.5M474 144.4l-.4 .8M475.6 145.8l-.8 .5M473.6 145.2l1.2 1.1M475.6 147.8l-1-.9M474.6 146.9l.2-.6M483.2 155.9l-1-.6M483.2 155.9l1.1-.7M482.2 155.3l.8-1.5M484.3 155.2l-.3-1M484 154.2l-1-.4M483.2 157.1l0-1.2M481.8 155.4l.4-.1M485.2 155.6l-.9-.4M482.6 153.2l.4 .6M484.7 153.5l-.7 .7M479.6 148.9M480.1 151.2l-.4-.4M479.7 150.8l-.1-1.9M477.9 147.9l.8 1M478.7 148.9l.9 0M476.8 149.6l1.2 .3M476.8 149.6l-.6 1.2M476.2 150.8l.9 .7M478 149.9l.1 .8M478.1 150.7l-.5 .8M477.1 151.5l.5 0M476.7 149.2l.1 .4M478.7 148.9l-.7 1M476 150.8l.2 0M476.2 153.1l.9-1.6M479.7 150.8l-1.6-.1M478.4 152.4l-.8-.9M323.3 102.6l1.1-1.7 1.4-1.3 1-1.7M323.3 102.6l-1.1-1.6-1.7-.9-1.3-1.4-1.3-1.3-1.2-1.5M320.5 94.2l2.1 .3 1.9 .7 1.9 .9M320.5 94.2l-2 .5-1.8 1.2M326.4 96.1l.4 1.8M324.3 106l-.9-1.6-.1-1.8M332.9 99.8l-2-.8-2.1-.2-2-.9M312.2 95.2l2.3 .2 2.2 .5M324.4 89.7l-1.2 1.5-1.3 1.6-1.4 1.4M341.9 113l1.6-.3 1.6-.5 1.7 .5 1.4-1.1 1.8 .5 1.5-.6M337.7 105.6l1.8-.2 1.8 .1 1.8 .6 1.8-.3 1.8 .1 1.8-.5 1.8 .3M341.4 116l.5-3M336.6 104.7l1.1 .9M353.5 116.9l-.9-1.7-.3-2-.8-1.7M349.1 100.3l.7 1.7 .6 1.8-.1 1.9M360.5 104l-1.5 1-1.8 .4-1.5 1-1.8 .1-1.5 1.1M472.3 139.6l-.2 1.8 0 1.8 .1 1.7M473.6 145.2l-.7 .2M472.2 144.9l.7 .5M470.8 145l.3 .2M472.2 144.9l-1.1 .3M470.7 147.2l.6-.2M471.1 145.2l.2 1.8M472.1 148.3l-.5-1.2M471.6 147.1l1.1-.6M473.6 148.3l.2-1M471.9 148.8l.2-.5M473.8 148.6l-.2-.3M471.3 147l.3 .1M472.9 145.4l-.2 1.1M474.6 146.9l-.8 .4" fill="none" stroke="#8c8c8c" stroke-width="0.35" stroke-linejoin="round"/>
<path d="M208.2 51.5l2.7 .9 3 0 2.3-2.3 3.8-1.1 3.8 .6 2.3 2.4 1.9 2.7 1.5 2.5 1.5 1.9M231.8 61.6l1.9 2.2 3.4 1.6 3.9-.4 3.4-.4 2.3 2.1 2.8 .9 3.8-.7 3.3 .7 3.4 1M257 68.2l3.8-.9 3.8 .5 4.2 0M265.6 98.5l5.7-.8 3.8 .8 2.9 1.5 2.8-.4 2.9 2.3 3.8 2.3 3.8 1.2 3.8 .7 2.9 1.2 1.9 1.9 2.8 3.2 4.2 1.9 4.4 1 2.8 3.4 1.9 4.2 2 5.7M299.9 109.2l2.8-1.6 4.8-.9 4.7-1 3.8-1.1 3.9-.8 3.8 .4 3.8 1.5 3.8 2.9 3.8 2.9 3.8 2.8 2.9 2.9 2.4 3.4 1.9 2.7M311.3 115.3l3.8-1.9 4.8-.8 3.8 1.7 3.8 2.9 3.8 3.8 2.3 3M281.4 128.6l4.2-3.8 4.7-2.3 4.8-.6 3 1.2M312.2 89.7l1.6-4 1.3-3.8 1.9-2.8 3.8-2.7 3.8-1.9 2.9-2.1 .5-3.2M326 61.2l7.2-.8 7.6 .2 7.6-1 3.8-1.1 3.8-1.9 1.2-3.2-1.9-2.9-1.2-1.9M326.5 62.7l6.7 .4 7.6 .5 7.6-1.1 4.8-.6 3.2 1.2 4.4 1.7 3.8 2.8 3.8 4.8 2.9 4.8 2.8 4.7 1.9 4.8 1 1.9M348.4 62.5l5.7 2.5 1.9 2.6-.9 3.1-2.9 3.6-2.2 2.9-3.5 2.8-3.8 1.9-3.8 2.1-1.9 2.7-1.1 3-.8 3.7 1.9 2.1 2.9 1.9 2.8 2.6 2.9 3.8 2.8 3.8 1.9 3.9-.9 3.8-1 3.8 1.2 3M377 87.8l-3.8 2.7-3.8 2.3-4.8 2.7-3.8 3-2.8 3.4-2 3.8-1.1 3.9 2.1 2.8 2.9 2.9 3.8 3 4.2 3.1M373.2 48.6l1.9 3.8 1.9 3.1M374 52.4l3.8 3.8 5.7 3.8 5.7 1.9 3.8 .6 3.1-.6M402.6 48.6l-1.9 3.8-1.9 3.8 3.8 2.9 3.8 2.8 2.8 4.8 2.9 2.9 4.8 2.8 2.8 1.9-2.8 2.9-1 2.8 3.8 2.5 4.8 1.5 5.1 0M374 84.8l3.8 1.9 4.8 1.9 5.7 1.5 1.9 2.7 1.9 4.4 0 3.8-2.9 3.8-3.8 3.8-2.8 3.8-1.9 4.8-1.4 4.7-1.1 3.8 .3 1.1M390.2 92.8l4.8-1.3 3.8-1.9 3.8 1.9 1.9 2.8 3.8-1.9 2.8-2.3 3.9 1.4 2.8 2.8 1-2.8 4.7-1.9 4.8 .9 2.8-2.7 3.9 1.2 2.8 1.5 1.9 2.3-1.3 .8M392.1 101l2.9-2.5 4.7-1.1 2.9 2.6-1 4.8 1 4.8M387.3 119.1l3.8 2.8 5.8-1.3 5.7-2.5 5.7-1.9 5.7-1.9 5.7-1.9 5.7-1.9 5.7-1.3 5.8-.6 5.7-1.9 4.7-1.9 3.8 .9 4.8 1.9 5.7 2.3 5.7 1.9 5.7 1.6 5.8 1.5 5.7 1.3 5.7 1 3.8 .4M467.3 111.8l-1.9 3.5-5.7 1.5-5.7 1.3-3.8 2.9-1.9 3.8-1.9 3.8M447.3 48.6l-1.3 1-2.5 2.8-1.9 3.8-.9 3.8 5.7 1.9 5.7 1 5.7 1.9 3.8 2.8 3.8 2.9 3.8 2.5 3.8 2.3 4.8 1.9 1 2.8-1 2.9 2.9 2.8 1.5 3.9-2.5 3.8-.9 3.8 1.9 3.8 1.5 3.8-.6 3.8-1.9 1.9M483.5 48.6l1 3.8 1.9 4.8 3.8 1.9 3.8 0M378.5 126.8l4.5 .4 5-.6 5-.7 5.2-.9 2.5-.7M233.3 131.8l3.8 1.4 3.9-1 4.7-1.5 4.8-.8 4.7-.5 4.8 .5M256.6 168.8l1.9 1.9 1.5 1.5M147.6 204.6l.4-4.8 1.5-4.7 2.3-2.3 1.9-.6M181 204.6l3.8-2.9 1.9-4.7M199 196l3.9 1 2.8 2.3 2.9-1.4 3.8-.5 3.8 1.9 3.8 1.5 3.8 1.5 3.8 .8 3.8 1.5M257 130.3l3.8 1.5 4.8 .8 4.7-1.3 4.8-1.9 4.8-1.9 4.7-1.9 2.9-1M298.1 123.1l4.6 1.5 4.2 3.8 2.5 4.8 1.9 5.7 1.9 4.7 1.9 4.8-1 3.8-1.9 3.8 1.9 4.8 2.9 3.8 3.8 3.8 2.5 3.8M270.3 131.3l1 4.7 1.9 5.7 .9 5.8 1 4.7 4.8 1 5.7 .4 4.7 1.5 2.9 .4M257 167.5l5.7 .5 5.7 .4 5.7-.4 5.8-.5 5.7-1.4 5.7-2.5 4.7-2.8 3.9-2.3 3.8-1.5 1.3 .4M257 170.3l3.8 1.9 4.8 2.9 4.7 2.8 4.8 1.9 4.8 1 2.8 .9 2.9 3.9 1.5 4.7 .8 4.8 1.5 4.7 1.9 4.8M282.7 181.7l4.8 1 5.7-1 5.7-1.5 5.7-1.3 5.7-1.9 4.8-1.4 2.9 .4 .3 1.9M272.2 195.1l2.9 2.8 .9 2.9 2 2.8M272.2 195.1l4.8 .7M369.4 130.3l-5.7 1-5.7 1.9-5.8 1.9-5.7 1.3-4.7 1.2-3.3 .7M371.3 128.8l-2.9 3.4-4.7 3.4-3.8 2.7-2.9 1.9M338.5 138.3l-1.1 4.4-.8 4.8 .4 5.7 .2 6.1-.6 5.3-.6 5.7-.5 5.7 .5 5.7-1.9 3.9-1.9 2.8-1.9 1M336 181.7l1 4.8 1.1 3.2M337.2 154.1l3.6-.9 3.8 .4 3.8 2.4 2.9-2.8 2.8-3.8 3.9-2.3 2.8-1.9M367.5 144l3.8 2.5 2.8 1.9 2.9 .6M337 181.7l3.8 1.9 5.7 2 4.8-1.6 2.8-4.2 1-3.8 4.8-2.8 3.8-2.9 1.9-2.8M369.4 154.1l3.8 1 3.8-1.9M369.4 174.1l3.8-.9 3.8 .5M318 124.6l.9 4.8 2.9 3.8 1.9 1.9M333.2 124.6l1.9 3M410.2 127.8l-1.2 2.6-1.3 3.2 .6 3.1-2.5 1.3-3.8 1-3.8 .9-3.8 1.7-2.6 1.5M367.7 144.6l2.5 2.3 3.8 1 5.1-1 5.1-1.3 3.8-1.3 3.8-1.2 2.6 .6 3.8 .6 1.9 2M370.2 130.4l3.8-1.9 3.9-3.2M367.7 153.9l5.1-.4 5.1 .4 4.4 2.5 2.5 4.5 .7 1.9M377.8 173.2l1-4.8 2.8-4.8 5.7-.9 5.7 .9 5.8-.9 5.7 1.5 5.7 .8 5.7-.8 5.7 1.4 3.8-.6 5.7 1.1 5.8-.5 5.7-.6 5.7 .6 3.8 .5M400.1 146.3l-1.3 2.5-3.2 1.3-2.5 2.5 1.3 3.8 2.5 3.2 2.5 2.5 3.9 1.3M415 143.6l4.7-4.5 5.7-3.8 5.7-3.1 5.8-1.9 5.7-1.9 4.7-2.8 1-1.8M423.5 138.3l2.9-.4 3.8 1.9 3.8 2.3 1.3 3.5-1.9 3.4-2.6 2.3-2.5 2.8-1.3 2.9 1.3 2.3 4.7 2.4 5.8 1 5.7 .9 5.7 .6M449.2 137l6.7 .6 5.7 1.3 5.7-.6 5.7 1.2 5.8 1.9 5.7-.6 5.7 .6 3.8-.6M468.3 133.2l6.7 .5 5.7-1.1 6.6-.8 6.7-1.9M446.4 185.2l1.9 3.2 1.9 3.8 1.9 3.8-1 3.8-.9 4.8M140 206.3l3.8-.4 2.9-2.4 .9-2.9M140 225.4l5.7-1 5.7-.9 5.7 1.5 2.9 1.3 3.8-2.8 3.8-2.9 3.8-1.9 1.9 .6 8.6-1.2 9.5-.7 9.6-1.6 7.6-.3 7.6 .7 5.7 1.9 4.8-.4 1.3-2.2-2.3-2.5-3.8-.6-2.9-1.3M171.4 218.7l3.8-4.8 3.8-4.7 2-4.8 3.8-3.8M220 200.6l5.7 2.9 5.7 1.9 5.7 2.8 5.8 2.9 5.7 2.8 5.7 3.8 3.8 2.9 1.9 1.3M140 249.2l5.7-1 5.7-.9 7.6-1 7.7-.9 7.6-.6 5.7-.4 7.6-.9 7.6-1.9 7.7-1 7.6-1 5.7-1.9 3.8-2.8 3.8-2.9 3.8-1.9 5.7-.9 4.8 .9 1.3 2.9M148.6 276.8l1.9-5.7 2.8-5.7 2.9-3.8 4.8-2.9 7.6-1.3 7.6-1.6 5.7-1.9 3.8-2.3 6.7 2.3 4.7 2.9 5.8 .9 5.7-1.9 5.7-2.8 5.7-1.4 4.8-1.1 .5-4.2 1.4-3.8 1.3-1.9M181.9 276.4l7.6-2.5 7.6-2.4 7.7-.8 5.7 1.3 5.7 .6 4.8-2.5 .9-1.3M257 219.6l3.8 1 4.8 .6 3.8-1.2 3.8-3.2 2.8-2.5 3.9-1.3 3.8-2.9 1.9-2.8 2.8-1.9 3.8-1 .6-2.8-1.1-2M269.4 220l.9 4.4 2.9 1.9-1 2.9 3.1 2.4M447.9 199.6l3.2 3.9 2.9 3.8 1.5 1.9-2.5 2.8-2.8 2.3" fill="none" stroke="#1414ff" stroke-width="0.8" stroke-linejoin="round"/>
<path d="M140 63.8l3.8-2.2 4.8-2 2.8-1.5 6.7-.5 1.9-1.4 4.8-.4 3.4 .8 .4-2.3 1.9-2.8 .9-2.9M204.4 48.6l-1.5 2.9-2.3 2.4-3.5 1.9-3.8 2.3-3.4 1.5-4.2 2-2.3 .7 2.3 1.5 2.9-.3 1.9 1.5 3.8-.8 2.8-.4 2.9 1.6 2.9 1.3 3.8-.6 2.8 1.5 3.8 .6 2.9-.6 3.8-.9 3.8-1.3 2.9-1.9 2.4-1.9 1.9-2.5-.3 2.1-2.1 3-2.9 2.5-2.8 1.9-2.9 1.3-3.8 0-3.8 1.2-3.8 .7-3.8 .6-3.8 .6-2.9 1.3-1.9 1.3-.6 2.5-2.3 1.9-3.4 1.9-3.2 2.5-2.9 1.5-2.8 1.4-2.9 .9-.4 1.4 2.3 .5 2.9-1.1 1.9 1.9 2.4-1.3 2.7-2 3.4-1.9 3.8-.9 3.5-.8 2.3 1.2 2.8 .2 2.5 1.3 1.3-1.9 1.9-1.9 2.9-1.2 3.8-.3 3.8-.4 2.9 .4 2.4 .7 2.3-1.5 2.9-.6 2.8 .6 2.9-1 2.9-.5 1.9-1.5 2.8-.4 2.9 .9 1.9 1 1.9-1 2.8-.4 4.8-.5M167.4 90.9l1.2-.4 .5 1-1.1 .3-.6-.9M186.3 113.4l.9-.2 .2 .9-.9 0-.2-.7M223.4 98.5l1.9-.6 .8 1-1.9 .4-.8-.8M229.9 101.9l2.3-.5 1.1 1.1-2.3 .6-1.1-1.2M228 98.5l.8-.4 .2 .8-1-.4M260 99.6l-3.8 .8-3.8-.8-2.9 .8-2.5 .6-1.1-2.5-.8-3.2-4.1-.6-3.9 .4-2.8-.2 .9 2.8 1.6 2.7 1.9 3.1 1.1 3.2 .4 2.9 2.7 1.1-3.9 0-3.8-.2-3.8 1-3.4-.4-3.2-1.5-2.9 1.5-2.3 .7-2.5-2.6-1.9-1.6-3.2 1-2.5 1.3-3.8 0-2.8 .8-3.5-.8-3.2 0-2.9 1.2-1.9 1.3 1 1.9 2.8-.4 2.9 .6 1.3 1.5-3.2 .8-2.9 1.1-1.1 1.9 3 .8 3.8 .4 3.5 .7 2.3 1.6 3.4 .7 3.8 .4 3.2 1.9 3.3 1.2 3.8 .3 3.4 1M257 77.6l5.7 1.1 5.7-.6 4.8-1.3 4.8-1.5 4.7-2.3 2.9-1.9-.4-1.9-3.4-.6-3.8-.6-3.9-.4-2.8 .8-2.5-.6 2.5-.7 3.8-1.4 2.9-1.5 3.4-2.3-1.2-1.5 3.1-1.1 2.7-2.1 2.2-2.9 1.9-2.8 1.2-2.9M257 100.4l4.8-.8 3.8-.5-.6-2.5 2.5-1.9 4.7-1.1 4.8-2 4.8-1.9 3.8-2.1 1.9-2.8-.4-3.8 1.3-2.9 2.9-1.9 4.7-1.7 4.8-1.5 5.7-1.9 4.8-1.9 4.7-1.9 3.9-1.9 3.8-2.3 2.8-2.7 2.9-2.7 1.9-3.4 1.5-2.8 1.3-2.9M317 66.9l3.8-1.9 3.8-1.5 2.1 1.3-3 1.7 3 1-1.9 1.3-4-1-3.8-.9M319.9 66.1l3.8-1.1 1.9 1.1-2.9 1.2-2.8-1.2M340.4 54.7l3.8-2.7 5.8-1.5 3.2 1-1.7 2.1-5 1.7-4.5 .5-1.6-1.1M399.3 123.6l3.3 .6 3.4 1.4 3.8 1.9 .4 .5-3.8-1.5-3.8-1.5-3.3-.9 0-.5M451.5 53.6l1.2 0 0 .7-1.2 0 0-.7M459.1 53.6l1.2 0 0 .7-1.2 0 0-.7M477.8 58.7l1.2 0 0 .8-1.2 0 0-.8M480.7 65.4l1.1 0 0 .7-1.1 0 0-.7M462.6 52.8l2.4-1.3 3.9 .3 1.5 1.4-2.1 1.1-3.8-.2-1.9-1.3M225.7 128.8l1.9 2.5 2.9 .9 2.8-.4-2.3 2.3-1.5 1.9 1.9 1.9 1.9 2.9 3.8 2.8 2.9 2 2.9 .3 2.8 1.2 1.3 2.6-2.6 1.2 1.3 2.3 1.3 2.8-.3 2.5-.4 4.2-.4 5.7 .8 1.2 1.1 .7-1.1 1.2-1.4 3-.5 5.3-1 4.8-1.9 3.8-2.9 1.9-3.8 1-3.8 .3-3.8-.3-3.8-.4-3.8 .4-3.8-1-3.8-.9-3.8-.4-3.8 .7-3.8-.3-3.9 .3-3.8-.3-3.8-.4-3.8-.6-3.8-.9-3.8-.4-2.9-1.2-2.8 1.2-3.8 .4-3.8-.4-3.8 .4-3.9 .3-2.8-.7-2.9-1.5-3.8-1-3.8 1-3.8 .3M247 157l3.1 2.3 2.7 3 2.4 3.3 1.9 2.8M246.7 158.5l2.8 2.7 2.5 3 2.3 2.7 2.3 2.7M214.3 129.9l2.3-.2 .7 1.2-2.3 .2-.7-1.2M227.6 139.5l1.9-.2 .4 1.1-1.9 0-.4-.9M241.9 147.8l2.9 .8 .3 1-2.6-.6-.6-1.2M242.9 151.6l2.2 1.6 .8 1.9-1.9-1.5-1.1-2M358 144.8l2.8-1.5 3.2-.4 3.1 .7 .8 1.6-3.3-.4-3.2 .4-2.5 .7-.9-1.1M311.4 204.6l-1.6-2.5-.1-3.2 .5-3.1 1.6-2.2 2.9-1.4 3.3-1.3 3.4-1.9 2.6-1 2.5 .4 3.8 .6 2.9 1.3 2.8 .6 2.9-1.2 2.9 .6 2.8 1.9 3.8 .6 3.8 1.3 3.8 .6 4.8 .8 1.9-2.3 3.8-1.9 3.5-2.7 3.6-1.7 3.1-1.7M393 151.6l1.6-1.9 2.6-1.5 .8 .8-2.3 1.5-1.9 1.9-.8-.8M423.9 157.4l.8-2.3 1.9-1.9 1.5-.4-.4 1.9-1.5 2.3-1.2 1.9-1.1-1.5M376.7 185.2l4.5-1.4 4.4-.8 2.9-2.4 2.6-2.7 2.1-1.7 2.3-1 3.3-.1 3.4 .5 3.4 1.4 3.3 1.5 3.2 1.1 3.4 1.1 1.9 1.8 1.6 2.1 1.7 4.4 1.3 1.3 1.7 2.4 0 2.4-1.2 1.5 3.1 .4 1.2 1.6 2.8 1.6 2.4 2.4 1.6 2M494 213.6l-3.3-2.1-5-3.2-3.1-3.3-1.9-2.3-3.8-2.9-2.9-2.8-2.9-3.8-2.8-3.8-2.9-2.9-3.8-2.9-3.8-1.9-3.8-1.9-2.9-2.8-1.3-3.8 .4-3.8 1.9-3.3-1-2.5-1.9-2.8 1-1.9 2.8-1 2.9-.5 3.8-.8 3.8-1.1 3.8-1.4 1.9 1-.3 2.8 1.3 2.9 1.9 2.8 .9 2.9 2 1.9 1.9-.9 .9-2.9 1.9-1.9 1.9-1 1.9 1.9 2.9 2 1.9 3.8 1.9 3.8 1.9 2.8 1.9 2.9M449.4 158.9l2.7-1.2 2.9 .4-2.5 1.2-3.1-.4M480.3 163.6l1.9-.9 1.3 2.9 1 3.8 .9 3.8-1.3 .5-1.5-3.4-1.6-3.4-.7-3.3M485.4 167.5l2.5-.6 1.5 3.4-1.1 1.9-1.9-1.9-1-2.8M486.8 173.7l1.9 .8 2.4 3.8-1.3 .6-2.3-2.9-.7-2.3M416.9 198.5l2.8-.8 3.4 .8-.5 1.5-3.3 0-2.4-1.5M405 196.6l1.8-1 1.1 2.1-1.5 1.6-1.2-1.2-.2-1.5M413 194.7l1-.4 .2 1.2-1 0-.2-.8M173.9 244.4l4.2-.8 4.8 .4 2.8 .8-4.7 .2-4.8 .2-2.3-.8M185.7 251.6l1.9-1.9 2.3 2.3 1.9 1.6-2.7-.4-3.4-1.6M311.4 204.6l2 2-1.5 1.6 .7 2.7-.4 2.3-2.4 1.7-3.1 1.6-4 1.6-4 1.5-3 2-3.5 1.9-4.7 1.5-3.8 1.3-3.8 1.9-2.9 1.9-1.3 1.4 1.1 1.1-2.3 .8-2.3 .5-2.8 2.9-2.9 2.8-2.8 2.9-2.5 3.8-1.3 3.8-.6 3.8 1.1 2.9 2.3 1.9 2.9 .9 1.3 1.6-2.3 1.3-3.8 1.9-3.8 1.9-2.9 2.9-2.8 4.7-1.9 4.8M299.3 247.3l3.4-1.9 4.2-1.9 4.4-1 .9-1.1 1.2 1.5 3 3-1.3 2.3-1.9 2.3-1.9 1.9-2.5 1.5-1.9-2.3-2.3-1.9-2.8-.5-2.5-1.9M321.4 241l3.2-.6 3.8 1.2 1.4 1.7-3.3 .9-3.8-1.3-1.3-1.9M282.3 257.4l2.3-1.6 2.9-.3 1.1 1.5-2.1 1.7-2.8 .6-1.4-1.9M284.6 261.4l2.1-.2 .4 .9-2.1 0-.4-.7M405 196.8l1.4-1.5 1.3 1.5 .2 3.8 .8 4.8 .7 3.8-.5 3.8-1.4 3.8-1.5 2.8-1.9 2.3-2.5-1.5-2.8-1.7-2.3-2.9-1.5-3.4-1.6-3.2 .8-2.9 1.9-2.7 3-2 3.5-1 1.9-1 .5-2.8M388.3 225.4l2.8-1 3.9 1.9 3.8-1.3 3.8-1.9 2.8 .7 2.9 2.5 1.9 3.8 1.5 4.8-.6 4.7 1 4.8-1 4.8-.9 4.7-2.9 2.9-3.8-1-2.8 1.9-3.8-.3-3.9 .3-2.8-1.9-1-3.8 1.9-3.8-.9-3.8 .9-3.8-1.9-3.8-1.5-3.8-.4-3.8 1-3.8M433.6 204.6l-1.2 .8 4.3 0 2.4 1.2 2.3 2.3 3.1 2.2 4.7 2.8 4.8 3.5 4.8 2.2 3.8 2.3 4.7 1.2 3.8 1.9 3.9 3.2 2.8 1.9 2.9-.9 3.8 1.9 3.8 2.8 2.3 2.9 2.4 .9 2 1M488.3 263.8l2.3-.3 1.1 1.9-2.3 .3-1.1-1.9M480.7 263.1l1.1-.2 .2 .9-1.1 0-.2-.7M473 230.1l1.6-.5 .4 1.1-1.6 .4-.4-1M452.1 278.6l.3-5 1.5-1.8 3-.6 3.6-.3 3.5 .9 3.6 .6 3.6-.3 3.6 .3 3.5-.6 3.6-.6 3-1 3-.8 2.3-.4 3.8 0M462.3 260.8l1.2 0 0 .8-1.2 0 0-.8M485.5 262.4l1.2 0 0 .8-1.2 0 0-.8" fill="none" stroke="#000" stroke-width="0.75" stroke-linejoin="round"/>
</g>
<rect x="141.0" y="49.3" width="352.0" height="227.9" fill="none" stroke="#3a3a3a" stroke-width="1.0"/>
<text transform="translate(322.2,254.2) scale(1.08,1)" font-size="8.33" letter-spacing="0.322">from grib files provided by ECMWF</text>
<text transform="translate(380.4,273.2) scale(1.08,1)" font-size="8.33" letter-spacing="0.28">©2025 sb@irizone.net</text>
</g>
<g transform="translate(0,537.4)">
<text y="23.8" font-size="12.5" xml:space="preserve"><tspan x="21.75" letter-spacing="0.192">IFS - Probas T850  standardized ano &lt; than 2 σ, </tspan><tspan x="334.27" letter-spacing="0.128">Init: 20251005 12z - Valid: 20251014:12 TU</tspan></text>
<rect x="158.50" y="36.3" width="35.22" height="6.9" fill="#ffff00" stroke="#000" stroke-width="1.0"/>
<rect x="193.72" y="36.3" width="35.22" height="6.9" fill="#ffd700" stroke="#000" stroke-width="1.0"/>
<rect x="228.94" y="36.3" width="35.22" height="6.9" fill="#ffb300" stroke="#000" stroke-width="1.0"/>
<rect x="264.16" y="36.3" width="35.22" height="6.9" fill="#ff9500" stroke="#000" stroke-width="1.0"/>
<rect x="299.38" y="36.3" width="35.22" height="6.9" fill="#ff7300" stroke="#000" stroke-width="1.0"/>
<rect x="334.60" y="36.3" width="35.22" height="6.9" fill="#f01400" stroke="#000" stroke-width="1.0"/>
<rect x="369.82" y="36.3" width="35.22" height="6.9" fill="#c80000" stroke="#000" stroke-width="1.0"/>
<rect x="405.04" y="36.3" width="35.22" height="6.9" fill="#960000" stroke="#000" stroke-width="1.0"/>
<rect x="440.26" y="36.3" width="35.22" height="6.9" fill="#640000" stroke="#000" stroke-width="1.0"/>
<text transform="translate(158.95,31.8) scale(1.08,1)" font-size="8.33" letter-spacing="0.33" text-anchor="middle">10</text>
<text transform="translate(194.17,31.8) scale(1.08,1)" font-size="8.33" letter-spacing="0.33" text-anchor="middle">25</text>
<text transform="translate(229.39,31.8) scale(1.08,1)" font-size="8.33" letter-spacing="0.33" text-anchor="middle">40</text>
<text transform="translate(264.61,31.8) scale(1.08,1)" font-size="8.33" letter-spacing="0.33" text-anchor="middle">50</text>
<text transform="translate(299.83,31.8) scale(1.08,1)" font-size="8.33" letter-spacing="0.33" text-anchor="middle">60</text>
<text transform="translate(335.05,31.8) scale(1.08,1)" font-size="8.33" letter-spacing="0.33" text-anchor="middle">70</text>
<text transform="translate(370.27,31.8) scale(1.08,1)" font-size="8.33" letter-spacing="0.33" text-anchor="middle">80</text>
<text transform="translate(405.49,31.8) scale(1.08,1)" font-size="8.33" letter-spacing="0.33" text-anchor="middle">90</text>
<text transform="translate(440.71,31.8) scale(1.08,1)" font-size="8.33" letter-spacing="0.33" text-anchor="middle">95</text>
<text transform="translate(475.93,31.8) scale(1.08,1)" font-size="8.33" letter-spacing="0.33" text-anchor="middle">100</text>
<rect x="141.0" y="49.3" width="352.0" height="227.9" fill="#fff"/>
<g clip-path="url(#mc)">
<path d="M475.4 199.0 L476.4 197.2 L478.6 196.5 L482.1 196.5 L483.2 198.3 L484.3 200.5 L484.6 202.6 L485.4 204.7 L486.8 206.9 L486.4 208.0 L485.0 207.6 L483.6 208.3 L482.5 209.4 L481.1 209.0 L479.3 208.0 L477.9 206.5 L478.2 205.1 L477.1 203.0 L475.7 200.8Z" fill="#ffff00" fill-rule="evenodd"/>
<path d="M490.0 209.7 L491.4 208.7 L495.0 209.0 L495.0 213.5 L492.5 213.3 L491.1 211.9Z" fill="#ffff00" fill-rule="evenodd"/>
<path d="M145.7 48.6l2.9 4.8 2.8 4.7M154.9 48.6l1.9 4.2 3.2 3.4M141 56.6l7.6-3.2M395.3 206.3l4.4 3.8 2.9 4.8 1.9 4.7M391.8 53l-1.7-.4-1.8-.3-1.8-.2-1.8-.2-1.7-.7-1.8-.2M461.6 185.3l-.1 1.7-.9 1.5 .2 1.7-.2 1.7-.8 1.5M471.3 196l-1.6-.5-1.7-.4-1.7-.1-1.5-1.1-1.8 .4-1.6-.6-1.6-.3M443.2 189.2l.6 1.6 1.6 .9 .7 1.6 .9 1.3 1 1.4 .9 1.3 .6 1.6 1.4 1.1M443.2 189.2l.7-1.6 1.2-1.5-.2-2 .8-1.6 .7-1.7 .6-1.7 1.4-1.4 .4-1.7M490.2 232.3l1.8-.5M490.2 232.3l-2.5-1.2M491.7 215.4l-1.4 1.2-1.6 .7-1.7 .5-1.5 1.1-1.3 1.2-1.7 .6M482.5 220.7l-.1 .8M475.6 226.7l1.6-.8 1-1.5 1.9-.4 1.2-1.2 1.1-1.3M480.2 272.9l-1.2 1.3M479 274.2l1.3 1.3M410.1 245.5l-1.2 1.3-.9 1.4-1.1 1.3-1.1 1.3M405 253l.8-2.2M279.1 153l-1.7-.7-1-1.7-1.7-.8-1.2-1.6-1.8-.6-1.4-1.2M279.1 153l-1.3 1-1.9-.4-1.5 .5-1.3 1.1-1.4 1-1.7 0-1.6 .3-1.5 .7-1.6 .2-1.3 1.1M270.3 146.4l-1.7 .6-1.5 .9-1.5 .8-1.5 .9-1.5 1-1.4 1.1-1.6 .6-1.6 .7M281.4 153.7l1.2-1.2 .7-1.4 0-1.8 .9-1.4M281.4 153.7l-2.3-.7M269.1 141.7l.7 1.5-.3 1.7 .8 1.5M269.1 141.7l1.3-1.2 1.6-.7 1.9-.1 1.5-.8 1.2-1.5 1.8-.3M284.2 147.9l-.7-1.6-.7-1.6-1.2-1.3-.3-1.9-1.2-1.4-.9-1.5-.8-1.5M269.1 141.7l-1.8-1.4-1.3-2M254.5 152.1l1.7 .6 1.8 .3M254.5 152.1l-1.2-1.3M253.5 146l-.2 2.4 0 2.4M253.5 146l.9-1.6 1-1.5 .5-1.7 1.2-1.5 .4-1.8M257.5 137.9l1.7 .2 1.7 .2 1.7-.4 1.7 .5 1.7-.1M205.4 52.7l1.5 .8 1.5 .7M208.4 54.2l-.7 1.5-1.3 1.1-1.2 1.2-.5 1.7M204.7 59.7l-1.7-.1-1.8 .1-1.7 .5-1.7 0M196.3 58.9l1.5 1.3M150.5 218.1l.7 1.7 .5 1.7 .8 1.6 .1 1.8 .7 1.6 .4 1.8M153.7 228.3l1.7-.4 1.8 .3 1.7-.6 1.8-.1 1.6-.8M163.7 218.7l-.2 1.6 .1 1.7-.9 1.5 .2 1.7-.6 1.5M191.3 62.6l-1.5-.8M195.7 62.9l1.1-1.3 1-1.4M448.8 176l-1.3-1.3-2-.2-1.3-1.3-1.8-.5-1.3-1.2M443.5 163.3l-1 1.5-.1 1.7-.6 1.6-.5 1.7-.2 1.7M443.5 163.3l1.3-1 1.7-.4 1.1-1.3M435.9 148.6l1.2-.9M449.5 156.7l-1.6-.7-1.2-1.2-1.2-1.2-1.5-.9-1.3-1-1.5-1-1.3-1.1-1.2-1.2-1.6-.7M418.9 156.2l2.5 .3M418.9 156.2l-1.8 .4-1.4 1.3-1.6 .9-1.8 .4-1.6 .7M421.4 156.5l.8 1.7 1.2 1.4 1.9 .7 1.2 1.4 .9 1.6 .8 1.7 1.5 1.1M410.7 159.9l-.2 1.7 .9 1.6-.2 1.7 1.3 1.4 .3 1.7 0 1.7M429.7 166.1l.2 1.1M429.9 167.2l-1.4 .9-1.4 .9-1.7 .3-1.4 1.1-1.7 .2-1.2 1.3-1.7 .2M419.4 172.1l-1.7-.5-1.6-.7-1.7-.5-1.6-.7M434.7 148.6l-1.2-1.3-1.4-.8-1.2-1.3-1.4-.9-1.6-.8-1.6-.6-.9-1.6-1.5-.9-1.4-.9-1.3-1.1-1.5-.8M434.7 148.6l-1.4 1-1.5 .9-1.7 .4M422.7 155.4l-1.3 1.1M418.8 139.5l.9-1.9M418.8 139.5l-.2 1.6 0 1.7 .6 1.7-.5 1.7 .3 1.6 .3 1.7-.3 1.7 .3 1.7 .1 1.6-.5 1.7M435.9 148.6l-1.2 0M437 157.9l-1.5 1.1-.6 1.9-1.9 .7-.5 2-1.5 1.2-1.3 1.3M441.1 171.5l-1.5 .6-1.6 .4-1.6 .4-1.6 .1M434.8 173l-1.1-1.5-1-1.7-1.5-1.2-1.3-1.4M470.5 208.3l1.7-.7 1.6-.8 1.7-.7M470.5 208.3l-.7 1.5-.4 1.7-.4 1.5 0 1.7 0 1.7-.5 1.6M480.2 218.5l-.7-1.6-.4-1.8-.2-1.8-.1-1.8-.8-1.7-.3-1.7M480.2 218.5l-1.7-.2-1.7 .6-1.6-.5-1.7-.4-1.7 .4-1.6-.4-1.7 0M477.7 208.1l-2.2-2M476 201.3l.3 1.7-.7 1.5-.1 1.6M459.3 204.5l-1.7-1-1-1.7-1.4-1.4-1.6-1M459.3 204.5l1.7 .2 1.6 .7 1.5 .6 1.7 .4 1.5 .8 1.4 1.1 1.8 0M459.3 204.5l.3 1.6 1 1.4-.5 1.8 1.1 1.4-.3 1.7 1.3 1.3-.2 1.7 .8 1.5 .1 1.6 .7 1.5M483.1 207.3l-1.8 .4-1.8 .1-1.8 .3M482.5 220.7l-2.3-2.2M448.4 202.9l.1 1.8 .8 1.5 .3 1.7 .7 1.6 .5 1.6 .2 1.7M448.4 202.9l-1.6 .5-1.6 .4-1.5 .7-1.2 1.4-1.7 .3M443.2 189.2l-1.9-.4-2-.5-1.8-.7-1.8-.9M429 198.3l-.4-1.7 .2-1.7M428.8 194.9l.9-1.6 1.2-1.3 1.2-1.3 1-1.6 1.4-1.2 1.2-1.2M435.7 186.7l-1.1-1.5-.4-1.9-.9-1.7-1.3-1.4M419.4 172.1l.5 1.7 .8 1.5 1.6 1.1 .5 1.7 .6 1.7 1 1.4M432 180.2l-1.9 0-1.9 .7-1.9 0-1.9 .3M490.2 232.3l-.1 1.9M309.9 193.1l-.7-1.6-1-1.4M314.2 189.8l-.8-1.8M313.4 188l-1.8 .6-1.5 1.2-1.9 .3M410.4 235.7l-1.5-1.1-1.4-1.3-1.2-1.4M405.8 250.8l-1.5-.9-1.3-1.1-.9-1.6-1.4-1-1.5-.9-1-1.4-1-1.5-1.6-.8M395.6 241.6l1-1.4 1.5-1 .9-1.4 1-1.3 1-1.4 1.4-1 .8-1.6M403.2 232.5l3.1-.6M406.3 231.9l-.3-1.7 .5-1.7 .4-1.7M362.5 51.4l1.2 1.5M378.6 52.3l-2.1 .5-1.9 .9M363.7 52.9l1.8 .3 1.8-.4 1.8 .2 1.8 .8 1.9-.4 1.8 .3M282.1 155.3l1.6 .2 1.5 .8 1.5 .6 1.8-.3 1.5 .8 1.5 .6M282.1 155.3l-.1 2.1-.7 2-.9 2M297.2 170.6l.7-1.2M297.2 170.6l-1.9 .5-1.5 1.4-1.9 .5M280.4 161.4l1.3 1 1.4 .9 .4 1.9 1.8 .6 .9 1.3 1.3 1 .9 1.5 1.2 1 1.5 .9 .8 1.5M291.5 158l.7 1.6 .9 1.4 1 1.5 1 1.4 .7 1.5 1.2 1.3 .9 1.4M297.9 169.4l0-1.3M291.5 158l2-.5 1.4-1.7 1.9-.7M297.9 168.1l1.3-1.2 .9-1.6 1.4-1.1 1.6-.8 .6-1.9 1.6-.9M305.3 160.6l-.2-2.4M305.1 158.2l-1.8-.3-1.5-.9-1.5-1.1-1.8-.3-1.7-.5M282.1 155.3l-.7-1.6M280.4 161.4l-.8 1.6-1.3 1.3M264 158.5l.6 1.5-.2 1.6 .9 1.5-.2 1.7M274.3 174.4l-1.6 .4-1.7-.3-1.5 .4-1.6 0-1.7-.1-1.5 .5-1.7-.5-1.6 .4M274.3 174.4l1.1-1.4 1.3-1.2 .8-1.7M278.3 164.3l-.5 1.9 0 2-.3 1.9M261.4 175.2l-1.4-1M256.3 173.3l-1-1.4-.1-1.8M254.5 152.1l-.2 1.8-1.1 1.6-.2 1.7-.4 1.7M257.5 174.2l2.5 0M257.5 174.2l-1.2-.9M297.2 170.6l1 1.4 1 1.4 .1 1.8 1 1.3 1.3 1.3 .3 1.7 .9 1.5M291.9 173l-1.1 2.1-1.7 1.6M301.8 184.6l.8-1.7 .2-1.9M301.8 184.6l-1.7-.2-1.8-.3-1.8 .6-1.7-1.1-1.7 .3M293.1 183.9l-.5-1.6-1.6-1-.1-1.8-1.2-1.3-.6-1.5M277.5 170.1l1.4 1 1.3 1.2 1.8 .4 1 1.8 1.6 .8 1.8 .4 1.2 1.3M274.3 174.4l1.1 1.6-.2 2.2 1.3 1.6M261.4 175.2l1 1.3 .8 1.5 .4 1.6 .8 1.4 .9 1.4 .3 1.7 .3 1.6 1.3 1.2 .3 1.7M276.5 179.8l-1 1.6-2 .6-.6 1.9-1.6 .9-1.5 1.1-1 1.5-1.3 1.2M304.5 207.2l1.6-.6 1.6-.5 1.4-1M304.5 207.2l-1.7-1.3-1.5-1.3-1-1.9M304.2 190.1l2 .4 2-.4M304.2 190.1l-1.2 1.5-1.3 1.5-.5 1.9M300.3 202.7l.6-1.9 .3-1.9-.6-2 .6-1.9M301.8 184.6l.3 2 1.4 1.6 .7 1.9M293.1 183.9l-1.1 1.6-1.3 1.4-1.1 1.5-.6 1.8M301.2 195l-1.6-.4-1.4-.9-1.8 0-1.4-.8-1.5-.8-1.6-.4-1.2-1.4-1.7-.1M300.3 202.7l-1.8 .3-1.9-.3-1.7 .9-1.8-.1M289 190.2l-1.2 .5M287.8 190.7l-.6 1.8-.4 1.8-.7 1.7-.6 1.8-.1 1.8M278.8 134.2l1.6-.5 1.4-.8 1.7-.3 1.5-.8M274.4 127l1 2.1 .3 2.3M274.4 127l1.7-.7 1.1-1.5 1.3-1.1 1.6-.9 1.6-.8 1.5-.8M278.4 137.1l.4-2.9M267.2 136.2l-1.2 2.1M267.2 136.2l1.5-.7 1.1-1.2 1.6-.6 1.4-.8 1.3-1 1.6-.5M267.2 136.2l.3-1.7-.6-1.7-.1-1.7 .5-1.7-.6-1.7-.2-1.7 .3-1.7M268.1 123.6l-1.3 .7M268.1 123.6l1.8 .5 1.3 1.3 1.6 .8 1.6 .8M271 113.6l-.9 1.5 .1 1.9-.6 1.6-.5 1.7-.1 1.8-.9 1.5M271 113.6l1.6-.5 1.5-.9 1.7-.1 1.7-.2 1.6-.4M283.2 121.2l1.3-2.8M284.5 118.4l-1.2-1.3-1.2-1.3-.4-1.9-1.3-1.2-1.3-1.2M317.3 152.4l1.6 .9 2-.2 1.8 .1 1.7 .8M317.3 152.4l-.2 1.8-1.3 1.4-1 1.5 .3 2-1.2 1.4-.6 1.7M313.3 162.2l1.6 1.4 1.5 1.6 1.2 1.7M324.3 164.8l-1.8 .1-1.4 1.3-1.8-.1-1.7 .8M316.5 151.9l.8 .5M305.3 160.6l1.6 1.3 1.8 .8M308.7 162.7l2.4 .1 2.2-.6M308.7 152l-.5 1.7-1.4 1.3-1.2 1.4-.5 1.8M358.4 175.6l-.8 1.1M357.6 176.7l1.2 1.3 1 1.6 1.4 1.1 1.1 1.3 1.2 1.4 1.4 1.1M368.4 171.4l.4 1.6-.1 1.7-.2 1.6-.1 1.6-.9 1.5 .7 1.7-.6 1.6M357.6 176.7l-2.9 .9M361.9 191.3l1.1-1M361.9 191.3l-1.3-.9-1.7-.5-1-1.5-1.4-.7-1.6-.7-1.4-.8-1.2-1.2M354.7 177.6l-.4 1.9-1.1 1.7 .1 2.1-1 1.7M364.9 184.5l-.1 2.1-.8 1.9-1 1.8M378.2 175.2l.1 1.7 .1 1.8 .6 1.6 .8 1.6M367.6 182.7l1.8-.3 1.7 .8 1.8 .2 1.7 .1 1.8-.5M325.2 165.7l-.6 1.6-.5 1.6 .2 1.8-.1 1.7-.4 1.6-.9 1.5-.3 1.7-.3 1.6M325.2 165.7l1.7 .9 1.8 1 2 .2M332.4 172.2l-.3 1.8-.7 1.6-1.4 1.4-.3 1.8M340.4 160.8l-1.6 .8-1.3 1.1-1.4 1-1 1.4-1.9 .4-.9 1.6-1.6 .7M340.4 160.8l-1.5-1.2-.5-2-1.6-1.1-1-1.6M324.4 154l1.6-1.1 1.8-.7 1.5-1.2M335.8 154.9l-1.7-.8-1.4-1.5-1.9-.4-1.5-1.2M346.1 166.3l-.2-.1M346.1 166.3l.9 1.4-.3 1.8 .8 1.4 .9 1.4 .2 1.7M345.9 166.2l-1.4 1.1-.8 1.7-1.8 .6-1 1.4-1.4 1.1-1.2 1.3M348.6 174l-1.1 1.1-.7 1.6-1.8 .6-.9 1.4-1.2 1.1-.5 1.7-1.5 .9M338.3 173.4l.8 1.7 0 2 .5 1.8 .9 1.7 .4 1.8M358.4 175.6l-.6-1.6-.6-1.6 .2-1.7 0-1.8-.6-1.5M356.8 167.4l-1.5-.9-1.9 .3-1.7-.2-1.6-.7-1.7-.4M348.4 165.5l-2.3 .8M354.7 177.6l-1.6-.7-1.7-.7-1.2-1.3-1.6-.9M340.4 160.8l1.1 .4M341.5 161.2l1.1 1.2 1.1 1.3 1.1 1.2 1.1 1.3M332.4 172.2l2.1-.1 1.9 .4 1.9 .9M333.4 182.9l-1-1.6-1.6-1-1.1-1.5M333.4 182.9l1.8 .3 1.8 0 1.8 0 1.8 .4M340.6 183.6l.3-1.2M382.1 169.5l-1.1 1.4-.8 1.5-1.1 1.4-.9 1.4M382.1 169.5l-.7-1.5-.8-1.4-1.4-1-.2-1.8-1-1.3-.8-1.4M368.2 171.1l.2-1.7-.5-1.6M367.9 167.8l1.2-1.2 1.4-.8 1.5-.7 1.2-1.2 1.2-1 1.2-1.1 1.6-.7M356.8 167.4l1.9-.8 .9-1.9 2-.4 1.4-1.4M367.9 167.8l-1.3-1.2-.9-1.5-1.4-1.1-1.3-1.1M393 168.6l-1.8-.2-1.8 .2-1.8 .8-1.9-.4-1.8 .2-1.8 .3M393 168.6l.9-1.7 .5-1.9 .6-1.8 .6-1.8 .9-1.7M396.5 159.7l-1.8 0-1.6-.4-1.8 .6-1.7-.5-1.7-.5-1.7-.2-1.7 0-1.7 0-1.7-.2-1.8 .1-1.7-.1M377.2 161.1l.4-2.6M363.2 152l-1.7 .4-1.6-.4-1.7-.2-1.6-.6-1.6-.4-1.7 .4M363.2 152l0 1.9 .4 2-.5 1.9 .3 2M363.4 159.8l-.8 1.1M362.6 160.9l-1.8-.7-1.9-.8-1.8-.9-1.7-1M355.4 157.5l-.8-1.5-.3-1.6 0-1.8-1-1.4M377.6 158.5l-.4-1.6-.8-1.6-.6-1.6M375.7 153.7l.1 0M348.4 165.5l1.1-1.4 1.6-1 .9-1.5 .9-1.5 1.6-1 .9-1.6M351.5 149l1.8 2.2M351.5 149l-.8-1.5 .2-1.7M335.8 154.9l1.4-1.1 1-1.4 1.3-1.2 1.4-1 1.7-.7 1-1.3 1.4-1.1 1.1-1.3M350.9 145.8l-2.4-.4-2.4 .4M363.2 152l1.7-1.3 1-1.8M365.9 148.9l2.4 .2M231.8 68.6l-1.9-.6-1.2-1.8M231.8 68.6l.9-1.3 1.2-1.1 .4-1.7 1.3-1.1 .6-1.5 .9-1.4 .6-1.5M226 61.1l.7-1.7M237.7 59l-1.8 .1-1.9-.4M228.6 59.7l-1.9-.3M236.3 51.3l1.1 1.6M227.8 51l-.8 1.8-1 1.7-1.2 1.5M237.7 59l.3-.1M226.7 59.4l-.5-2-1.4-1.4M271 113.6l-2-1.3M269 112.3l-.6-1.7-1.7-1-.4-1.9-1.1-1.4M270.2 99.1l-2.5 1.1M270.2 99.1l.9 1.5 1.6 .8 1.5 .8 1.4 1 .9 1.5 .8 1.5 1.6 .8 1.3 1.1M265.2 106.3l.2-1.7 1-1.4 .8-1.4 .5-1.6M282 91.1l.9 1.4 .9 1.5 1.2 1.2 .9 1.5M285.9 96.7l0-1.9 .8-1.8 .2-1.9 .8-1.8 .2-1.9M259 62.7l-.1 1.7-.1 1.8-.2 1.7-.5 1.7-.5 1.7-.2 1.7 0 1.7 0 1.8M267.4 75.9l-1.4 1.2-2-.1M267.6 75.5l-.9-1.4-.8-1.5-.7-1.6-.2-1.7-1.2-1.3-.2-1.8-1.2-1.3-.8-1.5-.2-1.8M270.6 95.6l.8 1.4M274.4 94.3l-.7 1.5M270.2 99.1l1.2-2.1M276.7 73.4l-1.6-.7M275.1 72.7l-1.9-.1-1.8 .5M271.4 73.1l-1.9 1.3-1.9 1.1M286.3 98.3l-1.4-.8-1.7-.1-1.6-.1-1.6-.4-1.7 .4-1.4-1.3-1.7 .5-1.5-.7M286.3 98.3l-.4-1.6M287.1 99.4l0 .1M287.1 99.4l-.8-1.1M287.1 99.5l-.9 1.7-1.4 1.2-1.6 1.1-.7 1.7-1 1.6-1.3 1.3M204.7 59.7l.7 1.6-.1 1.9 .8 1.6M208.4 54.2l1.6-.7 1.6-.8 1.8-.2M213.4 52.5l.7 1.6 .5 1.7 .7 1.6-.2 1.8 .5 1.7 1 1.5 .7 1.6-.4 1.9M213.4 52.5l.2-.2M213.6 52.3l1.6 .4 1.6 .7 1.8 0 1.3 1.2 1.8 .1 1.4 1.2 1.7 .1M406.3 142.3l-2 0-2 .1M406.3 142.3l1 1.7 1.4 1.4M402.2 142.5l.1-.1M402.2 142.5l.5 1.6 .2 1.7 .3 1.7 .5 1.7-.5 1.8 .8 1.6 .3 1.7 .2 1.7 .1 1.7M405.8 157.7l-1.2 0M418.8 139.5l-1.4 .9-1.5 .7-1.3 1-1.4 1-1.7 .4-1.5 .7-1.3 1.2M410.7 159.9l-1.7-.6-1.5-1.1-1.7-.5M397.9 158.1l-1-1.6-1.3-1.5-.9-1.7M397.9 158.1l1.7 .4 1.6-.7 1.7 .1 1.7-.2M393.1 149.8l1-1.6 .5-1.9 1.4-1.4M396 144.9l1.7-.3 1.5-.6 1.6-.5 1.4-1M430.9 124.1l1.6-.8 1.8 .6 1.6-.5 1.5-.9 1.7 .1 1.5-.9 1.7 0 1.6-.4 1.8 .2 1.4-1.3 1.7 0 1.6-.4 1.7-.2M430.9 124.1l1 1.5 1.3 1.1 .8 1.5 1.7 .9 .4 1.8 1.1 1.4 1.9 .6 .7 1.6 1 1.4 1.4 1.1 1 1.4M443.2 138.4l1.8-.2 1.9-.4 1.9 .1 1.9 0 1.8-.2M452.1 119.6l1.1 1.4 .5 1.6 .1 1.8 .5 1.6 .9 1.5 .2 1.7 1.2 1.4 .9 1.4 .2 1.7M452.5 137.7l1.3-1 1.3-1 1.5-.7 1.1-1.3M437.1 147.7l.7-1.8 1.2-1.4 1-1.6 1-1.5 1.6-1.1 .6-1.9M456.5 155l-.2-1.6-.3-1.6-.6-1.5-.4-1.5-.5-1.6 .3-1.7-.4-1.6-.8-1.5-.3-1.5-.6-1.6-.2-1.6M453.8 98.8l-1.5 1.1-.6 1.8-1.1 1.5-1.6 1-1.1 1.4-1.3 1.3-.8 1.7M453.8 98.8l1.2 1.1 .7 1.5 1 1.3 .3 1.7 1.4 1 1.2 1.2 .4 1.7 1.6 .8 .5 1.7M445.8 108.6l1.2 1.2 1.5 .9 .7 1.7 1.4 .9 1.2 1.1 1 1.4M436.2 107.5l1.6-.3 1.6 .1 1.6 .5 1.5 .9 1.7 .2 1.6-.3M436.2 107.5l-2.4 .9M429.2 123.1l.6-1.7 .4-1.6 .2-1.7 .9-1.5 .1-1.8 .6-1.6 .8-1.6 .9-1.5 .1-1.7M429.2 123.1l1.7 1M452.1 119.6l0-1.9 .7-1.9M419.7 137.6l-.1-1.2M429.2 123.1l-.3 0M419.6 136.4l.5-1.6 1.4-1 1.2-1.2 1-1.2 .7-1.5 .9-1.4 .4-1.6 1.2-1.2 1.4-1 .6-1.6M491.5 117.9l-1.6 .3-1.7 0-1.6-.1-1.5 1.1-1.7 .2-1.6-.3M475.3 107.6l1.3-1 1.3-1 1.6-.6 1.5-.7 1.3-.9 1.4-.9 1.6-.5M485.3 102l1.9 0 1.7 .8 1.8 .5M481.8 119.1l-1.1-1.3-.8-1.4-1.3-1.1-1.1-1.3-1-1.4-1.1-1.2-.9-1.4M390.4 235.1l0-1.7-.9-1.5 .2-1.7 .1-1.7M403.2 232.5l-1.4-1-1.6-.7-1.6-.6-1.9 .3-1.3-1.4-1.5-.6-1.9 0-1.3-1.1M399.3 209.1l-1.6-.8-1.6-.4M399.3 209.1l1.1 1.7 .9 1.9 .6 1.9M401.9 214.6l-1.5 .7-1.2 1.2M401.9 214.6l1.5 1 1.3 1.3M399.3 209.1l1.2-1.4 .5-1.6 .1-1.9 1.2-1.3M393 168.6l.1 2 1.1 1.7 .3 1.9M318.4 181.4l.1-.6M318.4 181.4l.8 1.6 1.4 1.1 1.3 1.3 1 1.3M318.5 180.8l1.8-1.1 2-.9M313.4 188l.6-1.7 1-1.2 1-1.4 1.4-1 1-1.3M309.1 177.8l1.6 .1 1.6 .4 1.6 .4 1.5 .6 1.4 .7 1.5 .7M309.1 177.8l.3-1.8-.8-1.6-.3-1.7 .1-1.7M318.3 180.7l-.5-1.8-.8-1.8-.5-1.7-.4-1.9-.1-1.9-.4-1.8M315.6 169.8l-1.9 .6-2.1-.5-2 .1M308.4 171l1.2-1M318.5 180.8l-.2-.1M302.8 181l1.3-1.3 2 .1 1.2-1.6 1.8-.4M297.9 169.4l1.7 .4 1.7 .5 1.8 .4 1.9-.8 1.6 1 1.8 .1M317.6 166.9l-.9 1.5-1.1 1.4M308.7 162.7l0 1.9 0 1.8 .4 1.8 .5 1.8M253.3 150.8l-2.1 .5-2.2 .1M249 151.4l-1.3 1.4M253.6 180.6l.3 1.9 1 1.7 .3 1.9 1.4 1.5 .5 1.8M257.1 189.4l-1.3 1.3-1.1 1.3-1.4 1.1-1.8 .6-1.3 1.3M257.5 174.2l-1.2 1.5-.4 1.9-1.7 1.1-.6 1.9M248.4 184.3l-1-.1M247.4 184.2l-1.5-1.1M145 211l.1 2.8M145 211l1.8-2.4M145.1 213.8l1.3 1.1 1.3 1.2 1.4 1 1.4 1M163.7 218.7l1.1-1.2M158.7 206l2.6 .8M164.8 217.5l-.1-1.7-1.3-1.2-.6-1.6 .2-1.7-1-1.4-.5-1.5-.2-1.6M479 274.2l-1.9-.2-1.7 .4M475.5 276.1l-.1-1.7M475.4 274.4l-.4-.2M296.3 218.9l-1.8-.3-1.7-.5-1.6-1-1.8-.2M283.5 224.8l1.1-1.2 .9-1.4 .8-1.5 .6-1.6 1.6-.9 .9-1.3M293.1 203.5l-.6 1.6-.5 1.7-1.3 1.3-.6 1.6-.6 1.7-.8 1.5-.4 1.7M285.4 199.6l-2 .7M283.4 200.3l-.2 1.6-1.2 1.3-.4 1.5 .4 1.9-1.2 1.3-.3 1.5-.4 1.6M280.1 211l1.7 .5 1.5 1 1.6 .9 1.6 .7 1.8 .5M304.4 208.5l-.8 1.6-.3 1.9-.6 1.7-1.3 1.4-.4 1.8M304.4 208.5l.1-1.3M289.4 216.9l-1.1-2.3M359.7 50.4l-.9 1.6-1.6 .5M354.2 50.8l1.7 .5 1.3 1.2M314.4 71l2 .5 1.9-.4M318.3 71.1l1-1.7M395.3 55.7l2.4-.4M395.3 55.7l-1 1.4-.2 1.7 .1 1.8-1.3 1.3 0 1.7M397.7 55.3l1.4 1 1.7 .1 1.7 0 1.7 .4 1.5 .6 1.6 .5 1.4 .9M406.5 70.8l.1-1.7 .6-1.7 .3-1.7 .2-1.7 .3-1.7 .6-1.7 .1-1.8M406.5 70.8l-1.6-.1-1.6-.5-1.7-.2-1.6 .2M392.9 63.6l1.4 .8 .9 1.4 1.2 1.2 1.5 .7 1 1.4 1.1 1.1M378.5 59l1.1 1.4 1.4 1 1.3 1.2 .8 1.6 1.4 1.1 .9 1.6 1.4 1.1M392.9 63.6l-1.2 1.5-1.7 .9-1.8 .7-1.4 1.3M363.7 52.9l.1 1.9 .3 2 .8 1.8M364.9 58.6l1.8 .6M318.3 71.1l1.3 1.3 .6 1.7 1.1 1.5M328.6 68.9l.7 1.6 .2 1.8M321.3 75.6l2-.2 2-.4 2-.2M329.5 72.3l-.9 1.5-1.3 1M287.9 87.4l1.5-1.1 1.8-.7 1.4-1.4M290.1 79.2l1.6-.6M291.7 78.6l.5 1.8 .4 1.9 0 1.9M298.4 94.4l-.4-1.9-.3-1.8 .2-1.9M284.6 179.8l-.2 1.8 .7 1.7-.5 1.8 .1 1.7 .2 1.8M284.6 179.8l-1.6 .4-1.5 .6-1.8-.6-1.6 .6M278.1 180.8l.7 1.8 .5 1.7-.6 2 .7 1.8M284.9 188.6l-1.9 .2-1.8-.6-1.8-.1M287.6 177l-1.7 1.2-1.3 1.6M287.8 190.7l-1.3-1.3-1.6-.8M276.5 179.8l1.6 1M267.5 188.6l0 1.2M273.6 192.5l-1.5-.8-1.4-.9-1.8-.1-1.4-.9M283.4 200.3l-1.8-.2-1.5-1.1-1.7-.7-1.8-.4M273.6 192.5l1.2 1.6 .7 2 1.1 1.8M257.1 189.4l1.8 0 1.7 1 1.8 0 1.7 .9 1.9-.2M266 191.1l1.5-1.3M250.2 195l-.9 3M249.3 198l1.8 0 1.8 .1 1.8 .8 1.7 .6 1.7 .4 2-.4 1.6 .8M266 191.1l-1.1 1.4-.8 1.4-.5 1.7-.8 1.5-.7 1.5-.4 1.7M284.5 118.4l1.9 .6 1.9-.2 1.9 .5 2-.4M287.1 99.5l.8 1.4 1.4 1 .6 1.5 1.5 .9 .6 1.6 1.1 1.1 1.1 1.2 1.3 1 1.4 .9 .8 1.5 1 1.3M298.7 112.9l.1 3.1M298.8 116l-1.5 1.5M292.2 118.9l1.7-.4 1.7-.6 1.7-.4M298.4 94.4l2.6 1.2M298.7 112.9l1.1-1.7 1-1.7 1.1-1.7M301 95.6l0 1.7 .7 1.7 .1 1.8-.4 1.8 .8 1.7-.1 1.8-.2 1.7M363 190.3l1.6 .5M329.3 151l.4-2 .3-2M346.1 145.8l-1.5-1-1.6-.6-1.8-.3-1.3-1.4-1.8-.3M330 147l1.6-1 1.9-.4 1.1-1.9 1.9-.4 1.6-1.1M316.5 151.9l-.2-1.7 .2-1.6-.5-1.7 0-1.7 0-1.6M316 143.6l1.6-1 2 0 1.5-1.3 1.7-.9 1.6-.9 1.8-.5M330 147l-.8-1.6-.7-1.6-1.1-1.4 0-2-1.2-1.4M237.4 52.9l1.6-.8 1.5-1 1.7-.6M249.5 104.4l2.1-.3 2-.2 2.1 .3M256.8 105.6l-1.1-1.4M256.8 105.6l1.7 .5 1.7-.2 1.7-.1 1.7 .3 1.6 .2M242.2 104.2l1.9 .3 2 .4 1.8 .5M242.2 104.2l-.9-1.8-.8-1.9-.6-1.9-.5-1.9M247.9 105.4l1.6-1M239.4 96.7l.2-.6M275.1 72.7l1.3-1.4 .3-1.8M271.4 73.1l.2-1.6-.1-1.7M271.3 64.9l-1-1.5 .4-1.7-.3-1.6 .1-1.6M276.1 63.3l-1.6-1-1.3-1.3-1.4-1.3-1.3-1.2M271.5 50.7l.8 1.5 .8 1.6M278.2 52.1l-1.7 .9M276.5 53l-1.8 .2-1.6 .6M263.3 59.1l1.8-.2 1.5-1 1.8-.1 1.7-.3M263.3 59.1l-1.1-1.3-.9-1.4-.8-1.6-1.5-1.1-.8-1.5-1.1-1.3M273.1 53.8l-1.2 2.1-1.8 1.6M270.5 58.5l-.4-1M231.2 128.5l-.5 1.7M206.4 122l-.3-1.8M217.1 122.2l-.5-1.5M216.6 120.7l-2.1 0-1.8-1-1.9-.6-1.9-.4M206.1 120.2l2.8-1.5M166.7 51.3l-2-.3M159.5 51.3l2-.5M400.3 137.9l1 .9M400.3 137.9l.4-2.4M401.3 138.8l2.2-.8 2.4 .3M400.7 135.5l1.9-1.5M402.6 134l1.4 1.2 1.1 1.5 .8 1.6M406.3 142.3l-.1-1.8 .5-1.8M419.6 136.4l-1.8-.6-1.8-.7-1.7-.8-2-.1M406.7 138.7l-.8-.4M491.4 79.7l-1.7 .2-1.7 0-1.5 1.2-1.6 .3-1.8-.1M490.8 88.9l-1.3 1.1-1.3 .8-1.3 1.1M483.1 81.3l.2 1.8-.6 1.7 .1 1.8-.5 1.7M486.9 91.9l-1.6-1.1-1.3-1.4-1.7-1.1M485.3 102l.6-1.6-.4-1.8 .9-1.6-.1-1.7 .4-1.7 .2-1.7M396.5 159.7l1.4-1.6M393.1 149.8l-1.9-1M391.2 148.8l-1.9 .4-2 .3-1.9 .2-2-.3M375.8 153.7l.7-.8M383.4 149.4l-1.9 .6-1.4 1.5-2 .3-1.6 1.1M471.4 159.2l.3-1.8 1-1.5M472.7 155.9l-1.1-.9M475.9 165.3l-.2-1.7 1-1.5 .5-1.6-.1-1.7M478.8 161.4l.3-1.6 .2-1.6M478.1 157.7l-1 1.1M478.1 157.7l.5 0M478.6 157.7l.7 .5M352.3 185l-1.3 1.2-1.7 .2M349.3 186.4l-.2 1.7 0 1.7 .8 1.6M428.8 194.9l-1.6-.5-1.2-1.3M424.4 181.2l-1.2 1.5-1.4 1.3M412.8 169.7l-.9 1.5-.9 1.4-.7 1.5-.9 1.4M145 211l-1.7-1.1M146.8 208.6l.1-1.8-.4-1.8M142.6 199.1l.7 1.7 .8 1.6 1.2 1.3 1.2 1.3M209.3 195.5l-.3-1.6 0-1.7-.7-1.6M209.3 195.5l-.7 .6M208.6 196.1l-1.7-.2-1.4-1.1-1.4-1-1.8 .1-1.5-1-1.6-.4-1.5-.8M199.5 190.9l-1.8 .8M168.9 235.7l2.2 .1M168.9 235.7l-2 1-1.5 1.6M171.1 235.8l.2 1.6 .9 1.5 .4 1.6 1 1.4M174.6 246.8l.8 1.5 .5 1.5 1 1.4 .2 1.7 .3 1.6 .7 1.5M178.1 256l-1.7 1.6-2.1 1.1M165.4 238.3l-.4 1.6-.2 1.6-.2 1.6-.6 1.6-.3 1.6 .3 1.7-.1 1.6-.5 1.6 .1 1.6-.7 1.6 .2 1.7-.6 1.5M174.3 258.7l-1.7-.1-1.7 0-1.7-.6-1.6-.4-1.8 .7-1.7-.6-1.7-.1M175.9 232.9l-1.5 1.2-2 .3-1.3 1.4M178.1 256l1.7-.7 1.7-.2 1.8 .1M183.3 255.2l1.3-1M188.1 248.7l.8-1.4 .6-1.6 .7-1.4 1.1-1.2M464.1 275.8l.3-1.8M272.3 221.8l1.7 .7 1.8-.2M272.3 221.8l-.7-1.4-1-1.4-.3-1.6 0-1.8-.8-1.4-.6-1.6-.8-1.4-1-1.4-.3-1.6M275.8 222.3l.1-1.7 .7-1.6 .7-1.5 .4-1.7 1.1-1.4 .5-1.6 .4-1.6M279.7 211.2l-1.6-.5-1.8-.1-1.6-.7-1.5-1-1.9 .4-1.5-1.1-1.7-.4M266.8 208.2l1.3-.4M279.4 226.3l-.8-1.7-1.1-1.5-1.7-.8M280.1 211l-.4 .2M276.6 197.9l-.8 1.4-1.1 1.2-.8 1.5-1.1 1.2-1.8 .6-.6 1.7-1.5 .9-.8 1.4M265.1 207.9l1.7 .3M334.4 54.6l1.6-.5 1.3-1 1.5-.8 1.5-.6 1.6-.4M386.8 68l-.6 2M386.2 70l.5 1.9 1 1.6-.1 2.1 1.2 1.6M392.8 78l-2.1 0-1.9-.8M356.4 55.7l-1.7 .4-1.6 .8-1.7 .5M356.4 55.7l.9 1.6 .9 1.5 .2 1.9M353.7 64.3l-1.2-1.5-.3-1.9-1.2-1.5M357.2 52.5l-.9 1.5 .1 1.7M350.1 56l1.3 1.4M360.1 61.2l1.6-1 1.7-.7 1.5-.9M321.3 75.6l-.1 2.5M327.3 74.8l.5 1.9 1.1 1.8 .6 1.9M321.2 78.1l1 1.3 1.5 .8M329.5 80.4l-1.9-.3-1.9 0-2 .1M307.3 73l1.6 1.1 2 .4M297.9 75.3l1.3 1.1 .7 1.7 1.1 1.2 1.1 1.4 1 1.3M303.1 82l1.7-.2 1.6-.1 1.7 .3 1.7 .1M310.9 74.5l-.5 1.9-.4 1.9-.1 1.9-.1 1.9M314.4 71l-1.3 1.1-1.3 1-.9 1.4M297.9 88.8l.7-1.7 1.7-.8 .9-1.5 .5-1.7 1.4-1.1M312.8 85.7l-.6 1.8-.1 1.8-.4 1.8 .5 1.9-.3 1.9M312.8 85.7l-1.4-1.9-1.6-1.7M301 95.6l1.8-.5 1.8-.3 1.9 .3 1.8 .2 1.8 0 1.8-.4M312.8 85.7l2.7-1M315.5 84.7l1.5-1 1.2-1.3 .5-1.8 1.2-1.4 1.3-1.1M276.5 53l1.2 1.3 1.2 1.3 1.1 1.4 1.1 1.3M308.7 152l-.9-1.7-1.1-1.5-1.6-1.1M305.1 147.7l.7-1.6 .1-1.6 .3-1.6 .9-1.5 .7-1.5 .1-1.7M311.6 137.9l1.2 1.4 .7 1.7 1.8 .8 .7 1.8M311.6 137.9l-1.6-.2M310 137.7l-2.1 .5M284.2 147.9l1.7-1.6 1.9-1.2M296.8 155.1l.2-1.8 1.3-1.4 .2-1.7 .5-1.7M305.1 147.7l-2.4-.4-2.4 .4M365.3 148.2l.2-2M365.9 148.9l-.6-.7M368.3 149.1l.9-1.7 .6-1.9 .4-2M370.2 143.5l-.6-1.6-.4-1.6M369.2 140.3l-1.8 .6M350.9 145.8l.7-1.7 1.1-1.5M354.4 142.7l1.9 .7M363.9 138.2l-1.4 1.1-1.8 .3-1.7 .5-1.2 1.5-1.6 .7-1.8 .4M363.9 138.2l.7 1.7-.3 1.8M352.7 142.6l-.2-1.7-.2-1.7M338.1 142.2l-.2-1.8 .4-1.7-.1-1.7 .5-1.7M352.1 138.9l.2 .3M352.1 138.9l-1.4-.9-1.8 .1-1.5-.9-1.4-1-1.8 0-1.6-.5-1.3-1.2-1.7-.1M238.9 59.4l1.9-.9 2.1 .4 1.8-.8M238.9 59.4l1 1.7 0 2.1 1.5 1.4 .7 1.8 .6 1.8M244.7 58.1l1.7 0 1.3 1 1.7 .1 1.5 .8M242.7 68.2l1.7 1 1.9 .6M252.8 62.9l-.9 1.7-.9 1.7-1.6 1.1-.8 1.8M252.8 62.9l-1.4-1.2-.5-1.7M248.6 69.2l-2.3 .6M238 58.9l.9 .5M247.6 50.3l-.4 1.7-.4 1.6-1 1.4-.6 1.5-.5 1.6M231.8 68.6l.5 1.8 1.3 1.5 .3 1.9M233.9 73.8l1.3-1.2 1.5-.9 1.7-.5 1.2-1.4 1.7-.6 1.4-1M252.6 51.5l.4 1.9-1.3 1.4 .2 1.9-.1 1.7-.9 1.6M259 62.7l-2.1-.3-2.1 .5-2 0M257.4 76.5l-1.4-.9-.9-1.4-1.8-.5-.9-1.4-1.2-1.1-1.6-.6-1-1.4M245.5 75.7l-.3-2 .2-2 .9-1.9M233.9 73.8l-.2 .6M236.7 78.2l-1.1-1.1-1.1-1.3-.8-1.4M220.8 71.9l1.8 .4 1.3 1.3 1.7 .6 1.8 .3 1.5 1 1.7 .6M230.6 76.1l1.7-.5 1.4-1.2M247.9 105.4l0 1.9-.5 1.7-.4 1.8-.7 1.7 .7 2-.7 1.7M246.3 116.2l-1.5-1.1-.8-1.8-1.8-.9M220.1 115.6l2.1-1.1 2-1.1M220.1 115.6l-1.1 1.7-1.5 1.5-.9 1.9M224.2 113.4l1.9 .6 2.1-.2 1.9 .6M231.2 128.5l1.4-1.4 1.5-1.1 1.6-1.1M235.7 124.9l-.7-1.6-.9-1.4-1.2-1.3-.5-1.7-.5-1.6-1.4-1.2-.4-1.7M239.4 96.7l-1.6 .5M247.2 118.2l1.7 .4 1.2 1.2 1.5 .9 1.8 .3 1.5 .7 1.4 .9 1.6 .6 1.4 1 1.5 .7M247.2 118.2l1.3-.9 1.7-.5 1.2-1.1 1.4-1 1.6-.5 1.4-.8M255.8 113.4l1.5 1.1 1.8 .7M259.1 115.2l.4 1.6 .6 1.5 .1 1.6 .1 1.7 .3 1.5 .7 1.5M261.3 124.6l-.5 .3M256.8 105.6l-.7 1.9-.3 1.9 0 2 0 2M246.3 116.2l.5 2.1M246.8 118.3l.4-.1M266.8 124.3l-1.9-.3-1.8 .7-1.8-.1M242.8 138.6l-1.7 1-1.3 1.6-1.6 1.1M242.8 138.6l1.3 1 1.3 1 1.2 1.2 1.5 .6 1.4 .9 1.3 .9 1.5 .7 1.2 1.1M220.8 71.9l-.7 1.5-.8 1.5-.1 1.7M219.2 76.6l-1.6 .9-1.5 1-1.8 .2M214.3 78.7l-1.3-1.5-2.1-.5-.9-1.9-1.8-.8M213.8 80.4l.5-1.7M208.2 74l-.1 1.6 0 1.7-.5 1.7-.8 1.5 .7 1.8-.7 1.6M220.1 115.6l-.9-1.5-1.6-.8-1.4-1-.8-1.6-1.5-.9M224.2 113.4l-.2-1.8M208.9 118.7l.3-1.7-.7-1.8 .2-1.8 .3-1.7M230.1 114.4l1-1.3M142 218.1l.8 1.6-.7 1.8 .5 1.6 .1 1.7 .3 1.6 .8 1.6 .4 1.6 0 1.7M144.2 231.3l-1.8-.6M142 218.1l.9-1.5 1-1.5 1.2-1.3M159.5 51.3l-.3 2-.1 2M148.3 58.2l-.7-1.6-.7-1.6-.9-1.5-1.1-1.3-.9-1.5M481.8 119.1l0 3M481.8 122.1l-.6 1.6-1.2 1.2-.2 1.7-.9 1.4-.8 1.5-1.1 1.2M474.5 110l-2.5 1.1M472 111.1l-.3 1.6-1.1 1.3-.4 1.7-1.5 1-.7 1.5 .1 1.8-.8 1.5-1.2 1.2-.5 1.6-.3 1.6-1.4 1.2-.3 1.6-1.1 1.3-.1 1.8-1.1 1.3M477 130.7l-1.7 .2-1.6 .6-1.3 1.2-1.6 .3-1.7 .2-1.4 .9M457.7 133.7l1.9-.1M462.1 110.8l1.7 .3 1.6-.2 1.7-.4 1.6 .4 1.7 .1 1.6 .1M459.6 133.6l1.7-.5M490.9 60.6l-1.9-.1-1.8-.7M486 51.5l.6 1.6-.6 1.8 1.1 1.5-.2 1.8 .3 1.6M486 51.5l-1.5-.6M491.4 75.1l-1.7-.8-.9-1.5-1.4-1.1-.8-1.7-1.2-1.2-1.5-.9M483.1 81.3l-1.4-.8-1.2-1.2-1.3-.9-1-1.4-1.3-1M476.9 76l.7-1.4 1-1.3 1.2-1.1 .5-1.7 .8-1.4 1.1-1.2M487.2 59.8l-.7 1.8-1.4 1.2-1.4 1.1M475.6 51.6l-1 1.5-1.6 .9-.6 1.9-1.9 .6-1.2 1.2-1.1 1.4-1.1 1.5M479.7 64.6l-1.6-.2-1.4-1.2-1.8 .2-1.4-.9-1.7-.3-1.4-1-1.6-.3-1.7-.3M476.9 76l-2.3 1M473.6 89.1l.4-1.7-.5-1.8 .8-1.7 0-1.7-.3-1.8 0-1.7 .6-1.7M475.3 107.6l-.7-1.9-.7-1.9-1.1-1.7M472.8 102.1l.5-1.8-.1-1.7-.7-1.7 .8-1.8-.6-1.7-.3-1.7 .4-1.8M473.6 89.1l-.8 .8M461.4 50.7l-.7 1.6M467.1 60.6l-1.8-.2-1.8 .5M461.2 56.2l.3 1.8 1.1 1.4 .9 1.5M453.8 98.8l.1-1.8 .2-1.8M472.8 102.1l-1.4-1.3-1.8-.1-1.3-1.4-1.6-.6-1.9-.2-1.2-1.5-1.8-.3-1.3-1.2-1.6-.7-1.7-.5M454.1 95.2l1.5-.6 1.6-.3M472.8 89.9l-1.6-.6-1.6-.3-1.4-.9-1.7-.2-1.5-.8-1.6-.3M457.2 94.3l.7-1.6 1.4-.9 1-1.3 1-1.2 .9-1.4 1.2-1.1M474.6 77l-2.1-.2-1.8-1.3-2.2 0M468.5 75.5l-.7 1.6-1 1.6-1 1.5-1.3 1.3-1 1.5-.5 1.8M463.4 86.8l-.4-2M413.1 51.7l1.5-1.1 1.8-.2M409.8 58.3l1.7 .2 1.2 1.3 1.7 .2 1.3 .9 1.1 1.5 1.9-.2 1.3 1 1.4 .9 1.4 .8 1.5 .5 1.4 .8M409.8 58.3l1-1.6 .5-1.8 .8-1.6 1-1.6M425.7 66.2l1.1-1.4 1-1.4 1.3-1.2 1.4-1.1 1.1-1.3 1.2-1.3 .7-1.7M433.5 56.8l-.8-1.5-.6-1.6-.7-1.5M430.5 50.7l.9 1.5M397.7 55.3l.4-1.8 .6-1.6 .8-1.5M408.7 58.8l1.1-.5M373.9 139.2l0 1.7 .1 1.6 .7 1.5M376.5 152.9l.2-1.9-.5-1.8 .3-1.9-.4-1.8M374.7 144l1.4 1.5M391.2 148.8l-.1-1.7-.6-1.5-.7-1.5-.6-1.5-1.3-1.2-.2-1.7M387.7 139.7l-1.3 1.3-1.9 .2-1.3 1.2-1.4 .9M396 144.9l-.1-2.2 .5-2.2M388.9 136.9l.3-.1M388.9 136.9l-1.3 1.5M387.7 139.7l-.1-1.3M389.2 136.8l1.5 .6 1.3 1 1.6 .4 1.5 .8 1.3 .9M400.3 137.9l-1.8 .4-1.4 1.1M397.1 139.4l-.7 1.1M400.7 135.5l-1.6-.5-1.4-1.1M397.1 139.4l-.8-2-1.1-1.8M397.7 133.9l-2.5 1.7M389.2 136.8l1.9-1.1 2.1-.7M395.2 135.6l-2-.6M480.4 161l.8-1.7M479.3 158.2l.7-.1M480 158.1l1.2 1.2M486.3 154.1l-.3-.3M486.3 154.1l1.4-.7M487.7 153.4l-.5-1.6M487.2 151.8l-1.2 .4M486 153.8l0-1.6M487.8 155.7l0 .2M487.8 155.7l-1.5-1.4M486.3 154.3l-1 1.2M487.8 155.9l-.7 .7M487.1 156.6l-1.8-1.1M490.9 163.1l-1.2 1.9M491.7 159.6l-1.8 1.1M489.9 160.7l-1.3 1.3-.7 1.6M491.7 159.5l0 .1M491.7 159.5l-1-1.3M489.9 160.7l-.3-1.7M490.7 158.2l-1.1 .8M481.2 159.3l.5-.5M483.7 160.8l-.7-1.7M487.2 157.5l1.4 .5M487.2 157.5l-.9 1.6-.2 1.8M488.6 158l.1 .5M485.4 157.5l1.6-.4M485.4 157.5l-.3 1.3M487 157.1l.2 .4M485.1 158.8l1 2.1M485.8 163.7l.5-2M483 159.1l.6-.9M489.6 159l-.9-.5M304.4 208.5l1.2 1.4 1.9 .5 1.1 1.4 1.6 .9M247.4 184.2l-1.5 .9M247.9 199l-1.3-1.3-1.5-.7-1.7-.5M243.4 196.5l-1-1.3-.4-1.7-1-1.3M231.6 199.9l-1.4-1.8-.6-2.3M231.6 199.9l1.6-.7 1.8 0 1.7-.6 1.5-1 1.9 .3 1.5-1.2 1.8-.2M229.6 195.8l1.3-1.3 1.4-1.3M229.6 195.8l-1.5-.6-1.5-.6-1.4-.8M225.2 193.8l-1.2-1.4M225.2 193.8l-1.2 1.3-1.3 1.2-1 1.4-1.1 1.4-.6 1.7-1.1 1.3M213 195.2l1.2-1.2 1.5-1 1.1-1.4M213 195.2l1.5 1.1 .5 2 1.6 1 .9 1.6 1.4 1.2M209.3 195.5l1.9 .1 1.8-.4M143.3 193l1.8 .7 1.7-.6 1.8 .1M146.5 205l.2-1.8 .6-1.8 1.4-1.4 .5-1.8 .3-1.8 .6-1.7M150.1 194.7l-1.5-1.5M148.6 193.2l-.3-1.8-.6-1.8-.1-1.9M175.9 232.9l.6-1.8-.1-1.9-.8-1.9 .4-1.8 .6-1.8-.3-1.9M187.4 235.3l.6-1.5 .6-1.6 1-1.2 1.1-1.3 .9-1.3 .4-1.6 1.4-1.1 .4-1.7M193.8 224l-.7-1.6-1.7-.8-.4-1.9-1.8-.8-.8-1.6-1.2-1.2-.9-1.5M186.3 214.6l-1.5 1-1.6 .8-1.3 1.2-1.6 .7-1.3 1.3-1.3 1.2-1.4 1M162.3 226.7l1.5 1.2 .9 1.7 1.1 1.5 1.3 1.4 .5 1.9 1.3 1.3M164.8 217.5l2-.5 2 .5M176.3 221.8l-1.7-.4-1-1.8-1.7-.5-1.6-.7-1.5-.9M247.9 199l-.9 1.7 .4 2.1-.5 1.8-.6 1.9M231.6 199.9l0 1.9-.6 1.8-.1 1.8 .1 1.9M231 207.3l1.6 1.2 1.1 1.5M233.7 210l1.7-.3 1.6-.2 1.5-.5 1.5-.9 1.7 .1 1.4-1 1.6-.3 1.6-.4M218.9 202.1l0 1.8M231 207.3l-1.6 0-1.6 .4-1.7-.4-1.7 0-1.6 .6M218.9 203.9l1 1.6 1.5 1.2 1.4 1.2M208.6 196.1l-.2 1.8-.6 1.6-1 1.6 .1 1.8-.9 1.6-.7 1.6M159.5 238.9l-1.2 1-1.5 .8-1.1 1.2-1 1.3-1.6 .6-1.4 .9-.8 1.5-1.4 .9M159.5 238.9l-1.2-1.4-1.2-1.4-1.7-.9-.9-1.7-1.5-1.1-1.1-1.5M151.9 230.9l-1.7 1.3-2 .7-2.1 .5M146.1 233.4l0 1.7-.3 1.7-1.2 1.6 .2 1.7M144.8 240.1l.7 1.9 .2 2M145.7 244l1 1.4 1.2 1.1 1.6 .6M153.7 228.3l-1.8 2.6M165.4 238.3l-2-.1-1.9 .9-2-.2M144.2 231.3l1.9 2.1M143.1 239.5l1.7 .6M142.8 245.5l1.4-.9 1.5-.6M152.7 255l1.7 .7 1.4 1.5 1.7 .7 1.8 .6M152.7 255l-1.4 .8-1.6 .4-1.2 1.3-1.2 1.2-1.7 .4-1.4 .7-1.4 .9M159.3 258.5l.2 1.7-.7 1.6-.5 1.6-.6 1.6-.3 1.6-.3 1.6 .2 1.8M157.3 270l-1.6 .6-1.7 .2-1.6 0-1.8-.4-1.6 0-1.6 .7-1.7 .2-1.6 .3-1.7-.1M142.8 260.7l-.6 1.8 .5 1.8-.1 1.8 .1 1.8 .1 1.8-.4 1.8M162.4 257.6l-1.6 .2-1.5 .7M149.5 247.1l.6 1.6 .6 1.6 1.2 1.4 .3 1.7 .5 1.6M174.3 258.7l-.1 1.7 .8 1.6-.8 1.8 .9 1.6-.2 1.7 .3 1.6 0 1.7 .2 1.7M175.4 272.1l-1.2 1.2-1.6 .8-1.4 .9-1.5 .9M159.1 275l-.4-1.8-.5-1.7-.9-1.5M183.3 255.2l1.2 1.1 .9 1.5 1.7 .5 1 1.3 1.7 .6 .8 1.5 1.4 .9 .9 1.5 1.6 .5 1.1 1.3M195.6 265.9l1.9-.3 1.6-1.1 1.7-.9 2 0 1.6-1.1M191.3 243.1l1.6 .4 1.7-.5 1.5 .9 1.6-.1 1.6-.2 1.6 .9 1.6-.5 1.6 .2 1.6 .3M205.7 244.5l.7 1.7 1.1 1.5 1.4 1.3 .8 1.6 .8 1.7M210.5 252.3l-1.4 1.2-.4 1.7-1.2 1.3-.1 1.9-1.2 1.2-1.2 1.3-.6 1.6M309.7 251.1l-1.6-.8M308.1 250.3l-.2 0M327.1 63.4l1.8-.5 1.3 1.4 1.6 .3 1.7 0M334.4 54.6l.8 1.4 1.5 .9 .5 1.6 1.6 .9 .6 1.5M339.4 60.9l-1.3 1.3-1.8 .3-1.1 1.6-1.7 .5M428.9 123.1l-1.8-.2-1.5-1-1.4-1.1-1.9 .2-1.5-.8-1.3-1.4-2 .3-1.5-.9-1.5-1.1-1.5-.9-1.7-.2M412.3 134.2l-1.5-.8-.5-1.8-1.8-.4-.8-1.4M411.3 116l-.8 1.6-1.5 1.2-1.3 1.3-.4 1.9-1.2 1.4M407.3 128.2l.4 1.6M402.6 134l.2-.4M402.8 133.6l1.3-1.6 2.1-.8 1.5-1.4M399.5 92.5l-.4-1.8-.1-1.9-.5-1.8-.2-1.9 .3-1.9M399.5 92.5l1.5 .8 1.7 .1 1.7 0 1.5 .7M405.9 94.1l.6-1.6 .5-1.6 .4-1.7 1-1.4 .4-1.7 1.1-1.4 .3-1.7 .6-1.6 .7-1.6 1.1-1.4 .4-1.6M398.6 83.2l1.2-1.2 1.4-.9 1.1-1.3 1.5-.8 1.5-.8 .8-1.6 1.6-.8 1.1-1.2M408.8 74.6l1.9 1.4 2.3 .8M391.7 96.4l1.5-.8 1.6-.8 1.5-.8 1.8-.4 1.4-1.1M391.7 96.4l-.8-1.5-1.2-1.1-1-1.2-1.7-.7-.3-1.8-1.6-.8-.9-1.3-1.4-1-.8-1.4M382 85.6l.9-1.6 1.1-1.4 1.5-1.1 .7-1.7 1.8-.9 .8-1.7M392.8 78l1.7 1 .9 1.9 2 .7 1.2 1.6M406.5 70.8l1.2 1.9 1.1 1.9M424.3 75.1l-2.1 2.1M424.3 75.1l.7-1.7-.1-1.8 .8-1.8 0-1.8 0-1.8M422.2 77.2l-1.8 .5-1.9-.5-1.8 0-1.9 0-1.8-.4M411.5 103.8l-.7-1.7-1-1.5-.5-1.8-1.3-1.5-.3-1.8M411.5 103.8l1.8 0 1.7-.3 1.7-.8 1.8 .4 1.8-.4 1.5-1.3 1.8 .1 1.7-.3 1.8-.3M407.7 95.5l1.6-.4 1.3-1 1.5-.6 1.1-1.3 1.7-.4 1.4-.8 1.4-.6 1.5-.7 1.3-1 1.4-.7 1.3-1M427.1 100.9l.1-1.7-.6-1.8 .8-1.7-.4-1.7 .1-1.7M409.4 111.3l-1.8 .3-1.7-.5-1.7-.1-1.7-.2-1.7-.1M409.4 111.3l.7-1.8 .4-1.9 0-2 1-1.8M389.4 102l1.5 .9 1.1 1.6 1.6 .8 1.3 1.3 1.4 1.1 1.7 .8 1.6 .9 1.2 1.3M411.3 116l-.8-1.5-.3-1.7-.8-1.5M377.3 103.8l-.8-1.5 0-1.7-.5-1.6-.3-1.6-1.4-1.2 .3-1.9-.9-1.4M382 85.6l-2.4-.4-2.4 .2M389.4 102l-1.1 1.4-1.7 .7M377.2 85.4l-.6 1M376.6 86.4l-.3 1.8-.7 1.7-1.7 1.2-.2 1.8M365.4 106.6l-2.4-2.1M365.4 106.6l1.7-.6 1.7-.2 1.8-.2 1.7-.2 1.7-.6 1.8 .1M375.8 104.9l1.5-1.1M363 104.5l.5-1.7M363.5 102.8l1.2-1.3 1.1-1.5 1.1-1.4 1-1.5 1.4-1.2 1-1.5 1.5-1.1M373.7 92.9l-1.9 .4M360.1 61.2l.8 2 1 1.8 .6 2M366.7 59.2l.6 1.8 .9 1.7 1 1.6M362.5 67l1.8-.5 1.6-.7 1.7-.5 1.6-1M378.5 59l-1.4 1.3-.8 1.6-1 1.5-1.4 1.2-1.3 1.3M372.6 65.9l-1.7-.8-1.7-.8M352.8 71.4l.4 .4M352.8 71.4l-1.8 .2-1.5 .7-1.7 .4-1.4 1.2-1.7 .4M353.2 71.8l-.6 1.6-1 1.4-.5 1.6-1.5 1.1-.3 1.8-.6 1.5-1.1 1.4M347.6 82.2l-.7 .4M344.7 74.3l0 2 .6 1.8 .8 1.8 0 1.9M346.9 82.6l-.8-.8M329.5 72.3l2.2 .6M329.5 80.4l1.7 1.2M331.2 81.6l.8-1.6 .9-1.6M345.4 87.9l.2-1.9 1-1.6 .3-1.8M345.4 87.9l-1.4-1.3-1.7-.8-1.4-1.3-1.9-.6-1.3-1.5M346.1 81.8l-1.4-1.1-1.9 .1-1.2-1.5-1.8-.3M337.7 82.4l.6-1.9 1.5-1.5M316.6 85l1.9-.4 1.9 .1 1.9-.5 2 .3M316.6 85l1.4 1.2 1.9 .4 1.3 1.3 1.5 1.1 1.7 .7M324.3 84.5l1.4 1.1 1.4 1 .9 1.5M324.4 89.7l1.8-.9 1.8-.7M315.5 84.7l1.1 .3M323.7 80.2l.5 2.1 .1 2.2M301.2 134.8l-.7-2.1-.1-2.3M301.2 134.8l-1.1 1.4-1.8 .5-1.1 1.3M300.4 130.4l-1.6 .5-1.6-.5-1.6 .1-1.6-.2-1.6 .3-1.6-.4M297.2 138l-1.6 .2-1.6 .7-1.7-.3-1.6 .8M290.7 139.4l-.8-1.6-1.1-1.4-.2-1.8-.8-1.6M287.8 133l1.2-1.7 1.8-1.1M300.4 130.4M310.8 125.7l.3 1.8-.9 1.6 0 1.7 .3 1.8-.3 1.7-.5 1.6 .3 1.8M307.9 138.2l-1.8-.7-1.3-1.5-2-.2-1.6-1M300.3 147.7l-.2-1.7-1-1.5-.6-1.6-.4-1.6-.2-1.7-.7-1.6M292.2 118.9l-.2 1.6-.3 1.6 0 1.7-.4 1.5-.4 1.6 .5 1.7-.6 1.6M297.3 117.5l.9 1.5-.3 1.8 1 1.5 .3 1.6 .1 1.7 .6 1.5 .3 1.6 .2 1.7M287.8 145.1l.9-1.4 .2-1.7 .7-1.4 1.1-1.2M285 131.8l2.8 1.2M326.2 139l-.1-1.5M338.7 135.3l-1.7-.1-1.6-.8-1.8 .8-1.6-.8-1.7-.1M330.3 134.3l-1.3 1.1-1.7 .8-1.2 1.3M316.3 135l1.8-.2 1.6 .9 1.8 .1 1.7 .7 1.8-.1M316.3 135l-1.3 1.3-1.7 .8-1.7 .8M325 136.4l1.1 1.1M331.2 81.6l.9 2.8M328 88.1l.1 0M328.1 88.1l1.6-1 .7-1.9 1.7-.8M332.9 78.4l1.3-1.1 1.6-.7 1.7-.4 1.6-.5M339.1 75.7l.4 1.6 .3 1.7M333.3 84.6l-1.2-.2M219.2 76.6l.4 1.7 1.7 .8M230.6 76.1l-.9 1.6-.7 1.6M239.5 125.1l2-.8 1.6-1.5M239.5 125.1l.3 1.7 .7 1.5 1.5 1.2 .4 1.7 .8 1.5M243.1 122.8l1.3 .9 1.6 .5 1.4 .9 1.3 .9 1.2 1.2 1.6 .4 1.1 1.3 1.9 .1 .9 1.5 1.6 .5M243.2 132.7l1.6 .8 1.8 .1 1.6 .7 1.9-.2 1.7 .4 1.5 1.3 1.8 .2 1.8 .3M256.9 136.3l-.5-1.8 .5-1.8 .1-1.7M246.8 118.3l-1.1 1.6-1 1.7-1.6 1.2M235.7 124.9l1.8 .5 2-.3M242.8 138.6l.4-2-.3-1.9 .3-2M260.8 124.9l-.9 1.5-1.3 1.3-.3 1.9-1.3 1.4M257.5 137.9l-.6-1.6M199.3 117.9l1.8 .3 1.7 .7 1.5 1.1 1.8 .2M464.9 147.1l-.8 1.8-.6 2-.3 2M463.2 152.9l-1 1.6M459.6 133.6l1.4 1.9 .7 2.3M456.8 52.1l-.3-1.7M433.5 56.8l1.8 .9 2.1-.1 1.9 .8M431.4 52.2l1-1.4M468.5 75.5l-1-1.5-1.4-1.2-.7-1.7-1.6-1-1.1-1.4-1.2-1.3M463.5 60.9l-.6 2-.9 1.9-.5 2.1M461.5 67.4l0-.5M461.5 66.9l-1.7 .2-1.6-.8-1.7 .1-1.7 .3-1.6-.7-1.7 .3-1.6-.7-1.6-.3-1.7 .1-1.7 .1-1.6-.1M445 89.6l1.6 0M445 89.6l-1.3-1.3-1.9-.4M446.6 89.6l.6-1.6 1.2-1.2 .6-1.5 .8-1.5 .9-1.4 .9-1.4 .6-1.6 1.2-1.1M441.8 87.9l-1.3-2.9M443.4 71.8l1.3 1.1 1.8 .3 1.2 1.3 1.6 .6 1.2 1.1 1.7 .4 1.2 1.2M453.4 78.3l0-.5M436.2 107.5l.3-1.7 1.4-1.2 .5-1.6 .9-1.4 .8-1.4 .6-1.6 .7-1.5 1.1-1.3 .7-1.5 .2-1.8 1.4-1.1 .2-1.8M454.1 95.2l-1.4-1.2-1.5-1.2-1.9-.6-1.2-1.5-1.5-1.1M427.1 92.3l1.7-.4 1.5-.8 1.7-.2 1.8-.1 1.5-1 1.5-.8 1.9 .3 1.4-1.3 1.7-.1M463 84.8l-1.7-.5-1.3-1-1-1.5-1.3-.9-1.3-1.2-1.5-.6-1.5-.8M424.3 75.1l.2 .1M443.3 65.4l-.4 2.1 .5 2.1 0 2.2M461.5 67.4l-.9 1.4-1.3 1-.7 1.6-1 1.3-1.1 1.2-1 1.4-1.3 1-.8 1.5M363.9 138.2l1.8-2.3M352.3 139.2l1.3-1.1 1.5-.9 1.1-1.4 1.7-.7 1.2-1.2 1.6-.8M360.7 133.1l1.3 .9 1.4 .8 1.6 .5M365 135.3l.7 .6M367.7 137.4l-1.9-1.5M367.7 137.4l1.6 2.6M365.7 135.9l.1 0M350.7 128.8l1.7-.6 1.8-.3 1.8-.1 1.7-.7 1.9 .1M350.7 128.8l-.2 1.7 .4 1.7 .4 1.7 .6 1.6 .3 1.7-.1 1.7M360.7 133.1l.1-1.7 .3-1.6-.6-1.7M359.6 127.2l.9 .9M365 135.3l.6-2 .4-1.9-.3-2.1 .6-1.9M360.5 128.1l2 .1 1.8-.9 2 .1M364.9 112.8l-1.7 .3-1.6 .7-1.6 .5-1.5 1.2-1.9-.2-1.3 1.4-1.8 .2M353.3 117.9l.2-1M353.3 117.9l1.9 .7 1.2 1.6 1.6 1.1 1.6 1.1M359.6 122.4l1.5-1 1.7-.5 1.7-.5 1.1-1.7 1.8-.4M387.6 138.4l-1.9-.2-1.7-.9M381 142.8l.2-1.6-.3-1.6 .1-1.7M384 137.3l-3 .6M367.7 137.4l1.4-1.3 1.6-.9 1.8-.5M372.5 134.7l1.3 .9 1 1.3M373.9 139.2l1.2-1.2M374.8 136.9l.3 1.1M378.2 143.1l-.7-2.3-.1-2.3M375.1 138l2.3 .5M381 137.9l-1.4-.3M377.4 138.5l2.2-.9M473.6 155.3l1.2-1M473.6 155.3l-.7-1.4M472.9 153.9l1.3-.5M474.8 154.3l-.6-.9M474.4 152.9l-.2 .5M474.4 152.9l.8-.4M475.4 154.5l1-1M475.4 154.5l-.6-.2M476.4 153.5l-.2-.4M475.2 152.5l1 .6M472.7 155.9l.9-.3M471.6 155l.3-1.2M473.6 155.6l0-.3M471.9 153.8l.7-.1M482.2 137.2l-1.1 1.7M482.2 137.2l3.2 .2M481.1 138.9l.3 2M481.7 141.6l1.8 1.7M485.4 137.4l-.5 2.3 .4 2.4M483.5 143.3l1.2-.3M485.3 142.1l-.6 .9M481.7 141.6l.5 3.1M483.5 143.3l-.3 1.1M483.2 144.4l-1 .3M480.3 143.8l1.3 1.2M480.3 143.8l1.1-2.9M481.6 145l.4 0M481.8 122.1l1.1 1.4 1.7 .8 1 1.6 1.1 1.4 1.5 1 1.1 1.4 .9 1.6 1.1 1.4M477 130.7l1.4 1 .9 1.4 .8 1.6 1.4 1 .7 1.5M486.7 137.1l-1.3 .3M486.7 137.1l1.5-1 1.7-.4 1.5-1M473.6 155.6l1 1M475.4 154.5l.4 1.1M475.8 155.6l-1.2 1M478.1 157.7l-1-1.6M477.1 158.8l-1-1.3M477.1 156.1l-1 1.4M473.8 163l.3-1.9 .7-1.8 .5-1.9M475.3 157.4l-.7-.8M475.3 157.4l.8 .1M476.7 149.2l.8-1.4M476.7 149.2l-1.2-.4M477.5 147.8l-.6-.6M476.9 147.2l-1.3 .6M475.6 147.8l-.2 .8M475.5 148.8l-.1-.2M485.4 157.5l-.5-.6M487 157.1l.1-.5M485.3 155.5l-.1 .1M483.6 158.2l-.3-1M484.9 156.9l-1.6 .3M491 157.2l-.3 .4M491 157.2l-.4-1.5M488.9 156.1l.5-.4M490.7 158.2l0-.6M492.2 155.4l-1-.4M488.6 158l.7-.8M157.7 197l1.3-1.4 2-.4 1.5-1.2 1.5-1.2 1.2-1.4M157.7 197l-1.5-1.3-2-.6-1.6-1M152.6 194.1l1.3-1.3 .3-1.9 .6-1.7M165.2 191.4l-1.5-2.8M158.7 206l.2-1.9-.5-1.7-.3-1.8-.1-1.8-.3-1.8M150.1 194.7l2.5-.6M186.3 210l-1.2-2.5M186.3 210l.3 2.3-.3 2.3M168.8 217.5l1.3-1.3 .5-1.8 .6-1.7 .9-1.5 1.1-1.4 1.2-1.3 .6-1.7 1.2-1.3M185.1 207.5l-1.7-.6-1.8-.5-1.9 .3-1.7-1-1.8-.2M161.3 206.8l1.4-1.2 1.9-.4 1.5-1.1 1.7-.7 1.4-1.2 1.5-1M176.2 205.5l-1.7-.7-1-1.5-1.7-.7-1.1-1.4M170.7 201.2l-.1-1.7-.2-1.6 .5-1.6-.6-1.6M176.6 188.1l-.9 1.5-.7 1.6M170.3 194.7l1.7-1.1 1.5-1.2 1.5-1.2M260.4 212l.5 1.5 .5 1.6-.7 1.8 .7 1.5 .3 1.6 .6 1.6 .4 1.6-.5 1.7 .6 1.6M260.4 212l-1.6-.4-1.6 .9-1.6 .2-1.7-.1-1.6 0-1.6 .2M250.7 212.8l-.5 1.8-.6 1.8-.6 1.8-.7 1.8M248.3 220l.8 1.6 1.6 1 .8 1.6 .6 1.7M262.8 226.5l-.3 .4M265.1 207.9l-1.8 1.1-1.6 1.3-1.3 1.7M272.3 221.8l-1.5 1-1.8 .3-1.2 1.6-1.9 .1-1.3 1.4-1.8 .3M246.3 206.5l.7 1.8 1.6 1.2 1.2 1.5 .9 1.8M233.7 210l.6 2 0 2-.5 2M233.8 216l1 1.5 .7 1.7 1.3 1.3 1.1 1.4M264 232.9l-.4 1.7-1 1.5-.9 1.6-.8 1.6-.1 1.9-.9 1.5M258 256.6l.3-1.7M205.7 207.9l-.2 .4M205.5 208.3l.1 1.8 .8 1.5 .7 1.6 .3 1.7-.2 1.9 .9 1.5M219.6 214l-1.5 1-1.8 .3-1.7 .5-1.4 1.2-1.7 .4-1.7 .4-1.7 .5M219.6 214l1.2 1.1 .9 1.5 1.5 .8 .5 1.7 1.3 1.1M179.9 275.2l1.4-1.1 1.9-.3 1.4-1 1.6-.7 1.6-.7 1.1-1.5 1.7-.6 1.8-.3 1.4-1.2 1.5-.9M195.3 266.9l.1 2 .7 2-.3 2.1M195.8 273l-1 1.4-.6 1.6M175.4 272.1l1.4 1.1 1.8 .7 1.3 1.3M204.4 262.5l1.3 1.2 .4 1.9 1.2 1.2 1.3 1.2 1.3 1.2 .8 1.6 .6 1.7 1 1.4 1.3 1.2M198 275.6l-1.3-1.1-.9-1.5M342.9 61.4l-.1 0M342.9 61.4l1.7 .5M342.8 61.4l-.3 2.1 0 2-.5 2M344.6 61.9l1.2 1.5 1.9 .6 1.8 .8 1.4 1.3 1.4 1.3M342 67.5l1.4 .9 1.8-.2 1.3 1.2 1.7 .2 1.5 .5 1.5 .7 1.5 .5M352.7 71.3l0-2-.4-1.9M344.3 57.9l-1.1 1.6-.3 1.9M339.4 60.9l1.7-.1 1.7 .6M351 59.4l-1.7 .4-1.7 .3-1.5 1-1.5 .8M353.7 64.3l-1.1 1.4-.3 1.7M352.8 71.4l-.1-.1M355.6 72.8l1.7-.7 1.6 0 1.8 .2M362.5 67l-.7 1.7-.1 2-1 1.6M341.4 68.3l-1.6-.8-1.8-.1-1.6-.7-1.7-.2M341.4 68.3l-.2 1.8-.3 1.7-.7 1.7M340.2 73.5l-.7 .5M339.5 74l-1.6-.6-1.2-1.3-1.8-.3M334.9 71.8l.2-1.7-.6-1.8 .2-1.8M333.5 64.6l1.2 1.9M342 67.5l-.6 .8M344.7 74.3l-2.2-.8-2.3 0M339.1 75.7l.4-1.7M331.7 72.9l1.4-1.1 1.8 0M400.8 110.7l-1.2 1.4-.8 1.6-1.7 .9-1.1 1.4-.9 1.6-1.4 1.1M406.1 123.4l-2 .1M397.6 122.1l-1.2-1.2-1.1-1.4-1.6-.8M386.6 111.8l1.3 1.2 .4 1.8 1.6 1 .3 1.9 1.3 1.1M391.5 118.8l2.2-.1M376.9 120.5l1.5 1 1.8-.1 1.7 .3 1.4 1 1.7 .5M376.9 120.5l.9-1.5 1.3-1 1.6-.7 1.1-1.1 .9-1.5 1.2-1.1 1.5-.8 1.2-1M385 123.2l1.9-.9 2.3 0M391.5 118.8l-1.2 1.8-1.1 1.7M345.4 88.3l0-.4M345.4 88.3l1.8-.7 1.9 .3 1.8 .1 1.8-.3 1.8-.4M347.6 82.2l1.8 .6 1.7 0 1.8 0M354.5 87.3l-1.1-2.2-.5-2.3M355.6 72.8l0 .1M355.6 72.9l-.5 1.5-.3 1.6 .3 1.7-1.2 1.4 .2 1.7-.6 1.5M353.5 82.3l-.6 .5M355.6 72.9l.8 1.5 .4 1.6-.2 1.8 1.1 1.4 .7 1.5-.1 1.8M369.2 81.6l-1.7 .3-1.5 .9-1.3 1.1M364.7 83.9l-1.5-1.2-1.8-.1M377.2 85.4l-.9-1.5-1.2-1.4-1.1-1.4M374 81.1l-1.6 .1-1.7-.2-1.5 .6M376.6 86.4l-1.8-.2-1.5 1.2-1.9-.7-1.6 .8-1.7-.1-1.6 .8-1.8 0M364.7 88.2l.2-2.2-.2-2.1M360.7 72.3l.6 .5M361.3 72.8l.2 2.4 1.1 2.1M358.3 82.5l1.1 .9M359.4 83.4l2-.8M371.8 93.3l-1.9-.6-2 .5-1.9-.6M364.7 88.2l-.3 .4M364.4 88.6l.3 2.2 1.3 1.8M363.7 94.7l2.3-2.1M373.7 78.5l-1.6-.6-1.2-1.1-1.5-.7-1.3-1.1-.9-1.4-1.6-.6M373.7 78.5l.9-1.5 .3-1.7 .8-1.6 .4-1.6M365.6 73l1.3-1 .8-1.5 1.2-1.1 1.7-.6 1-1.3 1-1.3M376.1 72.1l-.5-1.7-1-1.4-1.1-1.3-.9-1.5M374 81.1l-.3-2.6M361.3 72.8l2.1 .1 2.2 .1M386.2 70l-1.7 .4-1.7 .2-1.6 .9-1.7 0-1.8-.1-1.6 .7M372.6 65.9l0 .3M196.3 83.7l-1.8 .4-1.8-.7-1.8 .1M190.9 83.5l-1.5 1.5-1.7 1.5M205.9 73.3l-1 1.5-.6 1.7-1.2 1.2-1.1 1.4-1.7 .9-.4 1.8-1.3 1.3M196 80.1l0 1.8 .3 1.8M186 85.9l1.7 .6M464.3 144.1l1.8 .9 1.9 .9M461.7 137.8l1.3 1.1 .7 1.6 1.3 1.1 1.2 1.2 1.2 1 1.3 1.1M468.7 144.9l-.7 1M464.9 147.1l2 .3M466.9 147.4l1.3-.8M468 145.9l.2 .7M359.6 127.2l.4-1.6-.2-1.6-.2-1.6M367.4 118.3l1.8 1.5 2 1.2M371.2 121l-1 1.6-.2 1.9-1 1.6M375.8 104.9l-.4 1.7 .5 1.7-.1 1.7-.3 1.8 .7 1.7-.5 1.7 .5 1.8-.7 1.7 .3 1.7M371.2 121l2.3-.1 2.3-.5M376.9 120.5l-.6 .1M375.8 120.4l.5 .2M388.2 131.6l-.5-.7M384 137.3l-1-2.1-.4-2.2M387.7 130.9l-2.6-.8M382.6 133l1.7-1.1 .8-1.8M385 123.2l-.7 1.8 .3 2-.4 1.8M389.2 122.3l.5 1.6 .5 1.5M385.1 130.1l-.9-1.3M377.3 124.7l-.6-2-.4-2.1M377.3 124.7l1.3 1.1 .2 1.8 1.3 1.1M384.2 128.8l-2 0-2.1-.1M382.6 133l-1.1-.3M379.1 134.1l2.4-1.4M380.1 128.7l-.2 1.3M379.9 130l1.6 2.7M480.3 146l-.8-.8M480.3 146l-.1 1M480.2 147l0 .1M478.8 146.9l1.4 .2M478.8 146.9l-.5-1.2M478.3 145.7l1.2-.5M480.3 146l1.3-1M479.5 145.2l0-1M481.1 138.9l-1.7 .7-1.6 1.1M477.8 140.7l.8 3M479.5 144.2l-.9-.5M473.8 140.4l1.1 1.8 1 1.8M473.8 140.4l1.9 .6 2-.3M477.7 140.7l-.7 1.7-.3 1.7M475.9 144l.8 .1M468.7 144.9l.7 0M477.8 140.7l-.1 0M473.8 140.4l-.4-.1M470.8 138.3l.1 .1M470.9 138.4l1.4 1.2M473.4 140.3l-1.1-.7M468.3 153.1l1.2-1.2M470.2 152l.3 1.4M471.9 153.8l-.5-.3M470.5 153.4l.9 .1M474.4 152.9l-1.2-1M472.6 153.7l.5-1.8M473.2 151.9l-.1 0M475.2 152.5l-.1-1M473.2 151.9l1.2-.7M475.2 149.8l-1 .3M475.2 149.8l.3-1M475.4 148.6l-1.6 0M473.8 148.6l-.2 1.1M474.2 150.1l-.6-.4M478.6 157.7l.7-1.4M480 158.1l.7-1.1M480.7 157l-.7-.7M479.3 156.3l.7 0M481.7 158.8l.2-1.4M480.7 157l.8 .1M481.9 157.4l-.4-.3M483.3 157.2l-.1-.1M481.9 157.4l1.3-.3M486.7 137.1l0 2.1 1.1 1.9 .4 2M485.3 142.1l1.3 1.7M488.2 143.1l-1.6 .7M491.9 149.8l-.5-1.3M490.6 150.2l-.7-.9M490.6 150.2l-1.4 1.2M489.2 151.4l-.6-1.7M489.9 149.3l-1.3 .4M487.1 150.4l1.2-.8M486.3 149.9l.3-1.6M486.8 148.2l-.2 .1M486.8 148.2l1.2 .3M489.2 151.6l0-.2M487.1 150.4l.2 1.2M488.3 149.6l.3 .1M485.5 146.3l-.2 .1M485.5 146.3l-.2-1.6M485.3 146.4l-1 0M483.9 144.7l.1 1.4M483.9 144.7l.9-.3M484.3 146.4l-.3-.3M485.3 144.7l-.5-.3M484.8 148.5l.4-.4M484.8 148.5l-1.1-.9M485.2 148.1l.1-1.7M483.7 147.6l.6-1.2M483.2 144.4l.7 .3M482 145l.4 1.1M482.4 146.1l1.6 0M484.7 143l.1 1.4M486.4 144.1l.2-.3M491.9 149.8l-.1 .3M491.8 153.3l.3-.8M491.2 155l-.3-1.2M490.9 153.8l.9-.5M491.2 151.6l.9 .9M491.2 151.6l.1-1.2M491.3 150.4l.5-.3M490.8 153.8l-1-1.4M490.8 153.8l-1.4 .7M489.4 154.5l-1-.6M489.6 152.3l-1.3 1.3M489.6 152.3l.2 .1M488.4 153.9l-.1-.3M490.9 153.8l-.1 0M491.2 151.6l-1.4 .8M489.4 155.7l0-1.2M487.8 155.7l.6-1.8M487.7 153.4l.6 .2M489.2 151.6l.4 .7M490.6 150.2l.7 .2M486.3 154.1l0 .2M185.7 206l.4-1.8-.6-1.8-.2-1.7-.2-1.8-.1-1.8M185.7 206l1.1-1.3 1.3-1.1 1.5-.7 1.2-1.1 1.6-.7 1.1-1.3 1.6-.5 1.3-1M185 197.1l1.2-1.5 .8-1.7 .9-1.6 .7-1.8M196.4 198.3l-.2-1.7 .2-1.6 .9-1.5-.3-1.6M197 191.9l-1.1-1.3M185.1 207.5l.6-1.5M175 191.2l1.6 .6 1.5 .7 1.3 1.2 1.4 .7 1.5 .8 1.2 1.3 1.5 .6M205.3 206.1l-1.3-1-1.1-1.4-1.6-.7-1.3-1.1-.8-1.6-1.5-.9-1.3-1.1M186.3 210l1.6-.4 1.6 .3 1.6-.1 1.6-.7 1.6 .2 1.6-.4 1.6-.1 1.6 .3 1.6-.8 1.6 .4 1.6-.1 1.6-.3M197.7 191.7l-.7 .2M251.4 271.2l-1.8 .2-1.5 1.1-1.8 .3-1.8 .3-1.3 1.4-1.8 .4M254.6 265.9l-.2-1.8-.8-1.4M241.4 274.9l-.1-2-1.3-1.7 .1-2.1-.7-1.9M253.6 262.7l-1.6 .4-1.7 .2-1.5 .7-1.7 .2-1.5 .8-1.5 .5-1.6 .6-1.5 .8-1.6 .3M258 256.6l-1.7 .9-.9 1.9-1.7 .9M253.6 262.7l.1-2.4M247 247.2l-1.8 .4-1.3 1.4-1.9 0-1.6 .8-1.5 1.1M247 247.2l.8 1.4 0 1.7 .8 1.4 .7 1.5 .7 1.5 .3 1.6 .4 1.5M238.9 250.9l1.1 1.6 .7 1.9 .4 2 1.2 1.6M250.7 257.8l-1.7-.3-1.7 .8-1.6-.6-1.7 .4-1.7-.1M248.7 232.1l0 2 .1 1.9 1 1.8-.3 2 .4 1.9M248.7 232.1l-1.7 .1-1.4-1.3-1.8 .4-1.4-1-1.7-.2-1.7 .1-1.6-.5-1.5-.5M233.8 237.6l1.7 .3 1.5 .7 1.5 .6 1.8-.2 1.4 1.1 1.8-.5 1.6 .5 1.4 .9 1.6 .4 1.7 .3M233.8 237.6l.6-1.8-.1-1.8-.1-1.9 .7-1.8M249.9 241.7l-.1 0M235.9 229.2l-1 1.1M259.9 242.7l-1.7 .4-1.7-.3-1.6-.8-1.7 0-1.6-.4-1.7 .1M237.9 221.9l-.9 1.7-.5 1.9 .4 2-1 1.7M247 247.2l1-1.8 .4-2.1 1.4-1.6M238.9 250.9l-1.8 .1-1.5-1-1.8 0M233.8 250l-.5-1.8-.8-1.7-1.1-1.6-.3-1.8-.4-1.9M230.7 241.2l1.5-1.8 1.6-1.8M224.5 226.5l-.9 1.5-.3 1.9-1.4 1.3-1 1.5-.4 1.8M224.5 226.5l-.9-1.9M220.5 234.5l-1.6 .1-1.6-.7-1.7 .8-1.6-.6-1.6 .1-1.6 .1-1.6-.5M209.2 233.8l-.9-1.6-.1-1.8-.6-1.6-.1-1.8-.1-1.8-.7-1.7M206.7 223.5l0-.1M227 241l1.9 .1 1.8 .1M227 241l-1.1-1.4-1.8-.8-.9-1.8-1.7-.9-1-1.6M234.9 230.3l-1.6-1-1.7-.6-2 .1-1.6-1.1-1.9-.2-1.6-1M225 220.2l-.4 2.3-1 2.1M205.7 244.5l.9-1.4-.1-1.7 .7-1.5 .5-1.5 .1-1.7 .6-1.4 .8-1.5M210.5 252.3l1.4 .2M211.9 252.5l1.5-1 1.5-.9 .9-1.6 1.3-1.1 2-.2 .8-1.9 2-.2 .8-1.7 1.8-.5 1.3-1.2 1.2-1.2M224.8 269.1l1.6-.4 1.6-.3 1.7 .1 1.6-.2 1.5-.5 1.6-.2 1.7 .3 1.6-.7 1.6-.1M224.8 269.1l.2-1.7-.2-1.6-.4-1.6-.5-1.6-.3-1.6 .1-1.6M230.2 256.1l-1.6 .9-1.6 .9-1.9 .3-1.4 1.2M230.2 256.1l1.6 1 1.4 1.2 1 1.7 1.7 .9 1.3 1.3 1.5 1.2M238.7 263.4l.6 1.8 0 1.9M222.8 275.4l-.1-1.8 1.2-1.4 .6-1.5 .3-1.6M239.4 267.2l-.1-.1M211.9 252.5l1.5 .9 1.3 1.1 1.7 .5 1.4 1 1.5 .8 1.5 .7 1.3 1.3 1.6 .6M233.8 250l-1.2 1.3-.9 1.6-.7 1.6-.8 1.6M242.3 258l-.7 1.5-1.3 1-1.1 1.3-.5 1.6M393.7 132.6l-1.1-2.1M397.2 131l.7-2M397.9 129l-.1-1.4M399 125.8l-1.2 1.8M390.2 125.4l1.8 1.2 1.7 1.3M388.2 131.6l2.1-1 2.3-.1M397.7 133.9l-.5-2.9M393.2 135l.5-2.4M358.5 86.6l-1.4 .8-1.6 .5M360.9 88.8l0 2.2-.9 1.9M355.5 87.9l-.8 1.9 .3 1.9M355 91.7l1.6 2.6M356.6 94.3l1.6-1 1.8-.4M354.5 87.3l1 .6M359.4 83.4l-1 1.5 .1 1.7M364.4 88.6l-1.7-.3-1.8 .5M363.7 94.7l-2-.5-1.7-1.3M363 104.5l-2.5-.5M360.5 104l-1.2-1.2-.5-1.6-1.2-1.1-.3-1.8-1.3-1.1M311.9 94.9l.3 .3M311.8 104.7l-.1-1.9 .6-1.9-.5-1.9 .9-1.9-.5-1.9M311.1 125.3l.1-1.7-.2-1.7 .6-1.7 .2-1.7M311.8 118.5l1.4-1.2 1.9-.4 1.5-1.3 1.6-.8M316.9 129.8l1.2-1.2 1.9 .1 1.1-1.4 1.6-.4M318.3 114.8l1.4 1 1.5 .8 1.3 1.2 1 1.6 1.7 .7M322.7 126.9l1.1-1.5 .4-1.8 .9-1.7 .1-1.8M298.8 116l1.5 .6 1.8-.4 1.6 .5 1.5 .9 1.6 .2 1.7 .1 1.6 .6 1.7 0M310.8 125.7l.3-.4M316.3 135l-.3-1.8 1-1.7-.1-1.7M311.8 104.7l.7 1.5 1.4 1.2 1 1.4 .5 1.7 1.4 1.1 .8 1.5 .6 1.7M325 136.4l-.7-1.5-.1-1.6 .1-1.7-.4-1.6-1-1.4-.2-1.7M350.7 128.8l-1.3-1.2-.9-1.5M339.6 134.4l.3-1.7-.2-1.7 1.1-1.5-.1-1.8M353.3 117.9l-1.2 1.3-1.2 1.4-1.3 1.3M348.5 126.1l.3-2.2 .8-2M330.3 134.3l.6-1.5 0-1.7 0-1.6 .7-1.6 0-1.6 .2-1.6M325.2 120.1l2.6 .2M331.8 124.7l-1.5-1.3-1.4-1.4-1.1-1.7M340.7 127.7l-.9-.7M331.8 124.7l1.7 .1 1.4 1.3 1.6 .3 1.7 .1 1.6 .5M345.4 88.3l-.1 .3M333.3 84.6l1.2 1.9 1.7 1.4M345.3 88.6l-2.8 .9M356 97.2l-1.7 .2-1.7-.2-1.7 .5M355 91.7l-1.8-.4-1.7 .5-1.7 .5-1.7-.1M345.3 88.6l1.2 2.5M348.1 92.2l-1.6-1.1M369.1 132.3l.7-2.3-.2-2.3M369.1 132.3l1.9 .5 1.4 1.2M369.6 127.7l1.5 1.2 1.1 1.5 1.6 .9M372.4 134l1.4-2.7M365.8 135.9l.9-1.3 1-1.4 1.4-.9M369 126.1l.6 1.6M376.3 134l2.4-.2M376.3 134l-1.1-2.8M378.7 133.8l-.5-2.4M378.2 131.4l-2.9-.3M375.3 131.1l-.1 .1M374.8 136.9l.6-1.5 .9-1.4M379.1 134.1l-.4-.3M373.8 131.3l1.4-.1M379.9 130l-1.7 1.4M377.3 124.7l-.6 1.6-.1 1.7-1.1 1.5-.2 1.6M469.1 150.3l.1-.1M469.1 150.3l-1.6 .6-1.7 .4M469.2 150.2l-.8-1.7M465.8 151.3l1.2-1.3 .9-1.5M467.9 148.5l.5 0M463.2 152.9l2.6-1.6M469.5 151.9l-.4-1.6M468.8 148.1l-.4 .4M468.8 148.1l1.3 .1M470.1 148.2l.3 .9M470.4 149.1l-.2 .8M470.2 149.9l-1 .3M466.9 147.4l1 1.1M468.2 146.6l.5 .2M468.7 146.8l.1 1.3M476.8 147l-.8-1.1M476.8 147l1.3-1.4M476 145.9l1.3-1.2M478.1 145.6l-.6-.9M477.5 144.7l-.2 0M477.5 147.8l.4 .1M476.9 147.2l-.1-.2M477.9 147.9l.9-1M478.3 145.7l-.2-.1M478.6 143.7l-1.1 1M476.7 144.1l.6 .6M475.9 144l-.6 .7M473.4 140.3l.8 1.9-.2 2.2M474 144.4l1.3 .3M476 145.9l-.4-.1M475.3 144.7l.3 1.1M468.7 146.8l.9-.4M470.1 148.2l.6-1M470.7 147.2l-1.1-.8M470.9 138.4l-.3 1.7 .6 1.6-.6 1.7 .2 1.6M469.4 144.9l.3 .3M470.8 145l-1.1 .2M469.6 146.4l.1-1.2M472.3 149.9l-1.4 .7M472.8 150.1l0 1.5M472.8 151.6l-1.1 .2M471.7 151.8l-.7-.4M470.9 150.6l.1 .8M471.9 148.8l.4 1.1M470.2 149.9l.7 .7M473.1 151.9l-.3-.3M470.2 152l.8-.6M480 156.3l.8-1.4M480.8 154.9l.1 0M481.5 157.1l.3-1.7M475.8 155.6l1.2 .3M477.5 154l-.5 1.9M479.3 156.3l-.5-.6M478.8 155.7l-1.7 .4M477.1 156.1l-.1-.2M479.8 154.4l-.9 .4M479.8 153.4l-1.4-.4M478.9 154.8l-1.2-.9M478.4 153l-.7 .9M480.8 154.9l-1-.5M477.5 154l.2-.1M488.3 146.5l-1.6 .3M488.3 146.5l0-1.3M488.3 145.2l-1.4-.2M486.9 145l-.7 1.4M486.2 146.4l.5 .4M488.2 143.1M488.2 143.1l.4 1.8M486.4 144.1l.5 .9M488.6 144.9l-.3 .3M485.5 146.3l.7 .1M485.2 148.1l1.4 .2M486.8 148.2l-.1-1.4M490 144.8l1.6 .1M491.1 143.2l-.7-.4M491.1 143.2l.5 1.6M491.6 144.8l0 .1M490.2 143l.2-.2M488.2 143.1l2-.1M488.6 144.9l1.2 0M489.8 144.9l.2-.1M491.4 134.7l-.4 1.6 .1 1.7 .1 1.6-.5 1.6-.3 1.6M484.8 148.7l1.1 1.3M484.8 148.7l-1.1 .9M483.9 150.2l1.2 .5M485.1 150.7l.8-.7M484.8 148.5l0 .2M486 152.2l-.9-.4M485.1 151.8l0-1.1M490.2 146.4l.5 .1M490.2 146.4l-1.4 .5M488.8 146.9l0 .7M488.8 147.6l1.3 .8M490.7 148.2l-.6 .2M490.7 146.5l.2 .3M489.8 144.9l.4 1.5M491.6 145.1l-.9 1.4M488.3 146.5l.5 .4M488 148.5l.8-.9M489.9 149.3l.2-.9M491.4 148.5l-.7-.3M483.4 147.7l-1.3-.7M483.4 147.7l-.5 1.5M482.9 149.2l-.2 0M481.7 148.5l-.1-1.1M481.6 147.4l.5-.4M482.4 146.1l-.3 .9M483.7 147.6l-.3 .1M480.2 147l1.4 .4M480.2 147.1l-.6 1.8M479.6 148.9l1.2 .3M480.8 149.2l.9-.7M485.1 151.8l-.6 .4M483.3 151.1l.6-.9M484.5 152.2l-.6 0M486 153.8l-1.3-.3M484.5 152.2l.2 1.3M481.6 150.9l-.3-.1M481.9 151.1l.2 1.8M481.3 150.8l-1.2 .4M480.1 151.2l-.1 .4M480 151.6l.4 1.3M480.4 152.9l1.1 .2M481.5 153.1l.6-.2M480.8 149.2l.5 1.6M483.3 151.1l-1.4 0M483.9 152.2l-1.3 1M482.6 153.2l-.5-.3M479.8 153.4l.6-.5M478.4 153l0-.6M478.4 152.4l1.6-.8M480.9 154.9l.6-1.8M342.5 188.3l-.1-1.6-.3-1.7M341.1 184.3l1 .7M340.6 183.6l.5 .7M349.3 186.4l-1.8-.5-1.9 .2-1.7-.7-1.8-.4M327.8 120.3l1.9-1.6M329.7 118.7l1.7-.8 1.9-.1 1.9 .3 1.7-.8 1.8-.2 1.8-.3M349.6 121.9l-1.5-.9-1-1.5-1.4-.8-1.5-.8-1.7-.6-1.1-1.3M341.4 116l-.9 .8M336.2 87.9l-.3 1.6-.8 1.5 .3 1.7M342.5 89.5l-1.7 1.3-.9 2-1.4 1.6M338.5 94.4l-1.7-.6-1.4-1.1M328.1 88.1l.4 2.1 1 1.9M329.5 92.1l2.4 1.8M331.9 93.9l1.8-.3 1.7-.9M318.3 114.8l.5-1.8 1.5-1.1 1.3-1.4 .7-1.6 1.1-1.4 .9-1.5M329.7 118.7l.5-1.7 1.5-1.2 .2-1.8 .6-1.5 .6-1.7 1.4-1.2 .3-1.8 .5-1.6 1-1.4M336.2 104.7l.1 .1M346.5 91.1l-.7 1.5-.7 1.6-.8 1.5-.3 1.7-.9 1.4M350.9 97.7l-.7 1.5-1.1 1.1M349.1 100.3l-1.9-.9-2.2 .2-1.9-.8M338.5 94.4l-.2 2.1 .6 2.1 .5 2.1M343.1 98.8l-1.9 .9-1.8 1M332.9 99.8l1.4 1.4 .7 2 1.2 1.5M332.9 99.8l-.7-1.9-.2-2-.1-2M339.4 100.7l-.9 1.4-1.2 1.1-.7 1.5M474 144.4l-.4 .8M475.6 145.8l-.8 .5M473.6 145.2l1.2 1.1M475.6 147.8l-1-.9M474.6 146.9l.2-.6M483.2 155.9l-1-.6M483.2 155.9l1.1-.7M482.2 155.3l.8-1.5M484.3 155.2l-.3-1M484 154.2l-1-.4M483.2 157.1l0-1.2M481.8 155.4l.4-.1M485.2 155.6l-.9-.4M482.6 153.2l.4 .6M484.7 153.5l-.7 .7M479.6 148.9M480.1 151.2l-.4-.4M479.7 150.8l-.1-1.9M477.9 147.9l.8 1M478.7 148.9l.9 0M476.8 149.6l1.2 .3M476.8 149.6l-.6 1.2M476.2 150.8l.9 .7M478 149.9l.1 .8M478.1 150.7l-.5 .8M477.1 151.5l.5 0M476.7 149.2l.1 .4M478.7 148.9l-.7 1M476 150.8l.2 0M476.2 153.1l.9-1.6M479.7 150.8l-1.6-.1M478.4 152.4l-.8-.9M323.3 102.6l1.1-1.7 1.4-1.3 1-1.7M323.3 102.6l-1.1-1.6-1.7-.9-1.3-1.4-1.3-1.3-1.2-1.5M320.5 94.2l2.1 .3 1.9 .7 1.9 .9M320.5 94.2l-2 .5-1.8 1.2M326.4 96.1l.4 1.8M324.3 106l-.9-1.6-.1-1.8M332.9 99.8l-2-.8-2.1-.2-2-.9M312.2 95.2l2.3 .2 2.2 .5M324.4 89.7l-1.2 1.5-1.3 1.6-1.4 1.4M341.9 113l1.6-.3 1.6-.5 1.7 .5 1.4-1.1 1.8 .5 1.5-.6M337.7 105.6l1.8-.2 1.8 .1 1.8 .6 1.8-.3 1.8 .1 1.8-.5 1.8 .3M341.4 116l.5-3M336.6 104.7l1.1 .9M353.5 116.9l-.9-1.7-.3-2-.8-1.7M349.1 100.3l.7 1.7 .6 1.8-.1 1.9M360.5 104l-1.5 1-1.8 .4-1.5 1-1.8 .1-1.5 1.1M472.3 139.6l-.2 1.8 0 1.8 .1 1.7M473.6 145.2l-.7 .2M472.2 144.9l.7 .5M470.8 145l.3 .2M472.2 144.9l-1.1 .3M470.7 147.2l.6-.2M471.1 145.2l.2 1.8M472.1 148.3l-.5-1.2M471.6 147.1l1.1-.6M473.6 148.3l.2-1M471.9 148.8l.2-.5M473.8 148.6l-.2-.3M471.3 147l.3 .1M472.9 145.4l-.2 1.1M474.6 146.9l-.8 .4" fill="none" stroke="#8c8c8c" stroke-width="0.35" stroke-linejoin="round"/>
<path d="M208.2 51.5l2.7 .9 3 0 2.3-2.3 3.8-1.1 3.8 .6 2.3 2.4 1.9 2.7 1.5 2.5 1.5 1.9M231.8 61.6l1.9 2.2 3.4 1.6 3.9-.4 3.4-.4 2.3 2.1 2.8 .9 3.8-.7 3.3 .7 3.4 1M257 68.2l3.8-.9 3.8 .5 4.2 0M265.6 98.5l5.7-.8 3.8 .8 2.9 1.5 2.8-.4 2.9 2.3 3.8 2.3 3.8 1.2 3.8 .7 2.9 1.2 1.9 1.9 2.8 3.2 4.2 1.9 4.4 1 2.8 3.4 1.9 4.2 2 5.7M299.9 109.2l2.8-1.6 4.8-.9 4.7-1 3.8-1.1 3.9-.8 3.8 .4 3.8 1.5 3.8 2.9 3.8 2.9 3.8 2.8 2.9 2.9 2.4 3.4 1.9 2.7M311.3 115.3l3.8-1.9 4.8-.8 3.8 1.7 3.8 2.9 3.8 3.8 2.3 3M281.4 128.6l4.2-3.8 4.7-2.3 4.8-.6 3 1.2M312.2 89.7l1.6-4 1.3-3.8 1.9-2.8 3.8-2.7 3.8-1.9 2.9-2.1 .5-3.2M326 61.2l7.2-.8 7.6 .2 7.6-1 3.8-1.1 3.8-1.9 1.2-3.2-1.9-2.9-1.2-1.9M326.5 62.7l6.7 .4 7.6 .5 7.6-1.1 4.8-.6 3.2 1.2 4.4 1.7 3.8 2.8 3.8 4.8 2.9 4.8 2.8 4.7 1.9 4.8 1 1.9M348.4 62.5l5.7 2.5 1.9 2.6-.9 3.1-2.9 3.6-2.2 2.9-3.5 2.8-3.8 1.9-3.8 2.1-1.9 2.7-1.1 3-.8 3.7 1.9 2.1 2.9 1.9 2.8 2.6 2.9 3.8 2.8 3.8 1.9 3.9-.9 3.8-1 3.8 1.2 3M377 87.8l-3.8 2.7-3.8 2.3-4.8 2.7-3.8 3-2.8 3.4-2 3.8-1.1 3.9 2.1 2.8 2.9 2.9 3.8 3 4.2 3.1M373.2 48.6l1.9 3.8 1.9 3.1M374 52.4l3.8 3.8 5.7 3.8 5.7 1.9 3.8 .6 3.1-.6M402.6 48.6l-1.9 3.8-1.9 3.8 3.8 2.9 3.8 2.8 2.8 4.8 2.9 2.9 4.8 2.8 2.8 1.9-2.8 2.9-1 2.8 3.8 2.5 4.8 1.5 5.1 0M374 84.8l3.8 1.9 4.8 1.9 5.7 1.5 1.9 2.7 1.9 4.4 0 3.8-2.9 3.8-3.8 3.8-2.8 3.8-1.9 4.8-1.4 4.7-1.1 3.8 .3 1.1M390.2 92.8l4.8-1.3 3.8-1.9 3.8 1.9 1.9 2.8 3.8-1.9 2.8-2.3 3.9 1.4 2.8 2.8 1-2.8 4.7-1.9 4.8 .9 2.8-2.7 3.9 1.2 2.8 1.5 1.9 2.3-1.3 .8M392.1 101l2.9-2.5 4.7-1.1 2.9 2.6-1 4.8 1 4.8M387.3 119.1l3.8 2.8 5.8-1.3 5.7-2.5 5.7-1.9 5.7-1.9 5.7-1.9 5.7-1.9 5.7-1.3 5.8-.6 5.7-1.9 4.7-1.9 3.8 .9 4.8 1.9 5.7 2.3 5.7 1.9 5.7 1.6 5.8 1.5 5.7 1.3 5.7 1 3.8 .4M467.3 111.8l-1.9 3.5-5.7 1.5-5.7 1.3-3.8 2.9-1.9 3.8-1.9 3.8M447.3 48.6l-1.3 1-2.5 2.8-1.9 3.8-.9 3.8 5.7 1.9 5.7 1 5.7 1.9 3.8 2.8 3.8 2.9 3.8 2.5 3.8 2.3 4.8 1.9 1 2.8-1 2.9 2.9 2.8 1.5 3.9-2.5 3.8-.9 3.8 1.9 3.8 1.5 3.8-.6 3.8-1.9 1.9M483.5 48.6l1 3.8 1.9 4.8 3.8 1.9 3.8 0M378.5 126.8l4.5 .4 5-.6 5-.7 5.2-.9 2.5-.7M233.3 131.8l3.8 1.4 3.9-1 4.7-1.5 4.8-.8 4.7-.5 4.8 .5M256.6 168.8l1.9 1.9 1.5 1.5M147.6 204.6l.4-4.8 1.5-4.7 2.3-2.3 1.9-.6M181 204.6l3.8-2.9 1.9-4.7M199 196l3.9 1 2.8 2.3 2.9-1.4 3.8-.5 3.8 1.9 3.8 1.5 3.8 1.5 3.8 .8 3.8 1.5M257 130.3l3.8 1.5 4.8 .8 4.7-1.3 4.8-1.9 4.8-1.9 4.7-1.9 2.9-1M298.1 123.1l4.6 1.5 4.2 3.8 2.5 4.8 1.9 5.7 1.9 4.7 1.9 4.8-1 3.8-1.9 3.8 1.9 4.8 2.9 3.8 3.8 3.8 2.5 3.8M270.3 131.3l1 4.7 1.9 5.7 .9 5.8 1 4.7 4.8 1 5.7 .4 4.7 1.5 2.9 .4M257 167.5l5.7 .5 5.7 .4 5.7-.4 5.8-.5 5.7-1.4 5.7-2.5 4.7-2.8 3.9-2.3 3.8-1.5 1.3 .4M257 170.3l3.8 1.9 4.8 2.9 4.7 2.8 4.8 1.9 4.8 1 2.8 .9 2.9 3.9 1.5 4.7 .8 4.8 1.5 4.7 1.9 4.8M282.7 181.7l4.8 1 5.7-1 5.7-1.5 5.7-1.3 5.7-1.9 4.8-1.4 2.9 .4 .3 1.9M272.2 195.1l2.9 2.8 .9 2.9 2 2.8M272.2 195.1l4.8 .7M369.4 130.3l-5.7 1-5.7 1.9-5.8 1.9-5.7 1.3-4.7 1.2-3.3 .7M371.3 128.8l-2.9 3.4-4.7 3.4-3.8 2.7-2.9 1.9M338.5 138.3l-1.1 4.4-.8 4.8 .4 5.7 .2 6.1-.6 5.3-.6 5.7-.5 5.7 .5 5.7-1.9 3.9-1.9 2.8-1.9 1M336 181.7l1 4.8 1.1 3.2M337.2 154.1l3.6-.9 3.8 .4 3.8 2.4 2.9-2.8 2.8-3.8 3.9-2.3 2.8-1.9M367.5 144l3.8 2.5 2.8 1.9 2.9 .6M337 181.7l3.8 1.9 5.7 2 4.8-1.6 2.8-4.2 1-3.8 4.8-2.8 3.8-2.9 1.9-2.8M369.4 154.1l3.8 1 3.8-1.9M369.4 174.1l3.8-.9 3.8 .5M318 124.6l.9 4.8 2.9 3.8 1.9 1.9M333.2 124.6l1.9 3M410.2 127.8l-1.2 2.6-1.3 3.2 .6 3.1-2.5 1.3-3.8 1-3.8 .9-3.8 1.7-2.6 1.5M367.7 144.6l2.5 2.3 3.8 1 5.1-1 5.1-1.3 3.8-1.3 3.8-1.2 2.6 .6 3.8 .6 1.9 2M370.2 130.4l3.8-1.9 3.9-3.2M367.7 153.9l5.1-.4 5.1 .4 4.4 2.5 2.5 4.5 .7 1.9M377.8 173.2l1-4.8 2.8-4.8 5.7-.9 5.7 .9 5.8-.9 5.7 1.5 5.7 .8 5.7-.8 5.7 1.4 3.8-.6 5.7 1.1 5.8-.5 5.7-.6 5.7 .6 3.8 .5M400.1 146.3l-1.3 2.5-3.2 1.3-2.5 2.5 1.3 3.8 2.5 3.2 2.5 2.5 3.9 1.3M415 143.6l4.7-4.5 5.7-3.8 5.7-3.1 5.8-1.9 5.7-1.9 4.7-2.8 1-1.8M423.5 138.3l2.9-.4 3.8 1.9 3.8 2.3 1.3 3.5-1.9 3.4-2.6 2.3-2.5 2.8-1.3 2.9 1.3 2.3 4.7 2.4 5.8 1 5.7 .9 5.7 .6M449.2 137l6.7 .6 5.7 1.3 5.7-.6 5.7 1.2 5.8 1.9 5.7-.6 5.7 .6 3.8-.6M468.3 133.2l6.7 .5 5.7-1.1 6.6-.8 6.7-1.9M446.4 185.2l1.9 3.2 1.9 3.8 1.9 3.8-1 3.8-.9 4.8M140 206.3l3.8-.4 2.9-2.4 .9-2.9M140 225.4l5.7-1 5.7-.9 5.7 1.5 2.9 1.3 3.8-2.8 3.8-2.9 3.8-1.9 1.9 .6 8.6-1.2 9.5-.7 9.6-1.6 7.6-.3 7.6 .7 5.7 1.9 4.8-.4 1.3-2.2-2.3-2.5-3.8-.6-2.9-1.3M171.4 218.7l3.8-4.8 3.8-4.7 2-4.8 3.8-3.8M220 200.6l5.7 2.9 5.7 1.9 5.7 2.8 5.8 2.9 5.7 2.8 5.7 3.8 3.8 2.9 1.9 1.3M140 249.2l5.7-1 5.7-.9 7.6-1 7.7-.9 7.6-.6 5.7-.4 7.6-.9 7.6-1.9 7.7-1 7.6-1 5.7-1.9 3.8-2.8 3.8-2.9 3.8-1.9 5.7-.9 4.8 .9 1.3 2.9M148.6 276.8l1.9-5.7 2.8-5.7 2.9-3.8 4.8-2.9 7.6-1.3 7.6-1.6 5.7-1.9 3.8-2.3 6.7 2.3 4.7 2.9 5.8 .9 5.7-1.9 5.7-2.8 5.7-1.4 4.8-1.1 .5-4.2 1.4-3.8 1.3-1.9M181.9 276.4l7.6-2.5 7.6-2.4 7.7-.8 5.7 1.3 5.7 .6 4.8-2.5 .9-1.3M257 219.6l3.8 1 4.8 .6 3.8-1.2 3.8-3.2 2.8-2.5 3.9-1.3 3.8-2.9 1.9-2.8 2.8-1.9 3.8-1 .6-2.8-1.1-2M269.4 220l.9 4.4 2.9 1.9-1 2.9 3.1 2.4M447.9 199.6l3.2 3.9 2.9 3.8 1.5 1.9-2.5 2.8-2.8 2.3" fill="none" stroke="#1414ff" stroke-width="0.8" stroke-linejoin="round"/>
<path d="M140 63.8l3.8-2.2 4.8-2 2.8-1.5 6.7-.5 1.9-1.4 4.8-.4 3.4 .8 .4-2.3 1.9-2.8 .9-2.9M204.4 48.6l-1.5 2.9-2.3 2.4-3.5 1.9-3.8 2.3-3.4 1.5-4.2 2-2.3 .7 2.3 1.5 2.9-.3 1.9 1.5 3.8-.8 2.8-.4 2.9 1.6 2.9 1.3 3.8-.6 2.8 1.5 3.8 .6 2.9-.6 3.8-.9 3.8-1.3 2.9-1.9 2.4-1.9 1.9-2.5-.3 2.1-2.1 3-2.9 2.5-2.8 1.9-2.9 1.3-3.8 0-3.8 1.2-3.8 .7-3.8 .6-3.8 .6-2.9 1.3-1.9 1.3-.6 2.5-2.3 1.9-3.4 1.9-3.2 2.5-2.9 1.5-2.8 1.4-2.9 .9-.4 1.4 2.3 .5 2.9-1.1 1.9 1.9 2.4-1.3 2.7-2 3.4-1.9 3.8-.9 3.5-.8 2.3 1.2 2.8 .2 2.5 1.3 1.3-1.9 1.9-1.9 2.9-1.2 3.8-.3 3.8-.4 2.9 .4 2.4 .7 2.3-1.5 2.9-.6 2.8 .6 2.9-1 2.9-.5 1.9-1.5 2.8-.4 2.9 .9 1.9 1 1.9-1 2.8-.4 4.8-.5M167.4 90.9l1.2-.4 .5 1-1.1 .3-.6-.9M186.3 113.4l.9-.2 .2 .9-.9 0-.2-.7M223.4 98.5l1.9-.6 .8 1-1.9 .4-.8-.8M229.9 101.9l2.3-.5 1.1 1.1-2.3 .6-1.1-1.2M228 98.5l.8-.4 .2 .8-1-.4M260 99.6l-3.8 .8-3.8-.8-2.9 .8-2.5 .6-1.1-2.5-.8-3.2-4.1-.6-3.9 .4-2.8-.2 .9 2.8 1.6 2.7 1.9 3.1 1.1 3.2 .4 2.9 2.7 1.1-3.9 0-3.8-.2-3.8 1-3.4-.4-3.2-1.5-2.9 1.5-2.3 .7-2.5-2.6-1.9-1.6-3.2 1-2.5 1.3-3.8 0-2.8 .8-3.5-.8-3.2 0-2.9 1.2-1.9 1.3 1 1.9 2.8-.4 2.9 .6 1.3 1.5-3.2 .8-2.9 1.1-1.1 1.9 3 .8 3.8 .4 3.5 .7 2.3 1.6 3.4 .7 3.8 .4 3.2 1.9 3.3 1.2 3.8 .3 3.4 1M257 77.6l5.7 1.1 5.7-.6 4.8-1.3 4.8-1.5 4.7-2.3 2.9-1.9-.4-1.9-3.4-.6-3.8-.6-3.9-.4-2.8 .8-2.5-.6 2.5-.7 3.8-1.4 2.9-1.5 3.4-2.3-1.2-1.5 3.1-1.1 2.7-2.1 2.2-2.9 1.9-2.8 1.2-2.9M257 100.4l4.8-.8 3.8-.5-.6-2.5 2.5-1.9 4.7-1.1 4.8-2 4.8-1.9 3.8-2.1 1.9-2.8-.4-3.8 1.3-2.9 2.9-1.9 4.7-1.7 4.8-1.5 5.7-1.9 4.8-1.9 4.7-1.9 3.9-1.9 3.8-2.3 2.8-2.7 2.9-2.7 1.9-3.4 1.5-2.8 1.3-2.9M317 66.9l3.8-1.9 3.8-1.5 2.1 1.3-3 1.7 3 1-1.9 1.3-4-1-3.8-.9M319.9 66.1l3.8-1.1 1.9 1.1-2.9 1.2-2.8-1.2M340.4 54.7l3.8-2.7 5.8-1.5 3.2 1-1.7 2.1-5 1.7-4.5 .5-1.6-1.1M399.3 123.6l3.3 .6 3.4 1.4 3.8 1.9 .4 .5-3.8-1.5-3.8-1.5-3.3-.9 0-.5M451.5 53.6l1.2 0 0 .7-1.2 0 0-.7M459.1 53.6l1.2 0 0 .7-1.2 0 0-.7M477.8 58.7l1.2 0 0 .8-1.2 0 0-.8M480.7 65.4l1.1 0 0 .7-1.1 0 0-.7M462.6 52.8l2.4-1.3 3.9 .3 1.5 1.4-2.1 1.1-3.8-.2-1.9-1.3M225.7 128.8l1.9 2.5 2.9 .9 2.8-.4-2.3 2.3-1.5 1.9 1.9 1.9 1.9 2.9 3.8 2.8 2.9 2 2.9 .3 2.8 1.2 1.3 2.6-2.6 1.2 1.3 2.3 1.3 2.8-.3 2.5-.4 4.2-.4 5.7 .8 1.2 1.1 .7-1.1 1.2-1.4 3-.5 5.3-1 4.8-1.9 3.8-2.9 1.9-3.8 1-3.8 .3-3.8-.3-3.8-.4-3.8 .4-3.8-1-3.8-.9-3.8-.4-3.8 .7-3.8-.3-3.9 .3-3.8-.3-3.8-.4-3.8-.6-3.8-.9-3.8-.4-2.9-1.2-2.8 1.2-3.8 .4-3.8-.4-3.8 .4-3.9 .3-2.8-.7-2.9-1.5-3.8-1-3.8 1-3.8 .3M247 157l3.1 2.3 2.7 3 2.4 3.3 1.9 2.8M246.7 158.5l2.8 2.7 2.5 3 2.3 2.7 2.3 2.7M214.3 129.9l2.3-.2 .7 1.2-2.3 .2-.7-1.2M227.6 139.5l1.9-.2 .4 1.1-1.9 0-.4-.9M241.9 147.8l2.9 .8 .3 1-2.6-.6-.6-1.2M242.9 151.6l2.2 1.6 .8 1.9-1.9-1.5-1.1-2M358 144.8l2.8-1.5 3.2-.4 3.1 .7 .8 1.6-3.3-.4-3.2 .4-2.5 .7-.9-1.1M311.4 204.6l-1.6-2.5-.1-3.2 .5-3.1 1.6-2.2 2.9-1.4 3.3-1.3 3.4-1.9 2.6-1 2.5 .4 3.8 .6 2.9 1.3 2.8 .6 2.9-1.2 2.9 .6 2.8 1.9 3.8 .6 3.8 1.3 3.8 .6 4.8 .8 1.9-2.3 3.8-1.9 3.5-2.7 3.6-1.7 3.1-1.7M393 151.6l1.6-1.9 2.6-1.5 .8 .8-2.3 1.5-1.9 1.9-.8-.8M423.9 157.4l.8-2.3 1.9-1.9 1.5-.4-.4 1.9-1.5 2.3-1.2 1.9-1.1-1.5M376.7 185.2l4.5-1.4 4.4-.8 2.9-2.4 2.6-2.7 2.1-1.7 2.3-1 3.3-.1 3.4 .5 3.4 1.4 3.3 1.5 3.2 1.1 3.4 1.1 1.9 1.8 1.6 2.1 1.7 4.4 1.3 1.3 1.7 2.4 0 2.4-1.2 1.5 3.1 .4 1.2 1.6 2.8 1.6 2.4 2.4 1.6 2M494 213.6l-3.3-2.1-5-3.2-3.1-3.3-1.9-2.3-3.8-2.9-2.9-2.8-2.9-3.8-2.8-3.8-2.9-2.9-3.8-2.9-3.8-1.9-3.8-1.9-2.9-2.8-1.3-3.8 .4-3.8 1.9-3.3-1-2.5-1.9-2.8 1-1.9 2.8-1 2.9-.5 3.8-.8 3.8-1.1 3.8-1.4 1.9 1-.3 2.8 1.3 2.9 1.9 2.8 .9 2.9 2 1.9 1.9-.9 .9-2.9 1.9-1.9 1.9-1 1.9 1.9 2.9 2 1.9 3.8 1.9 3.8 1.9 2.8 1.9 2.9M449.4 158.9l2.7-1.2 2.9 .4-2.5 1.2-3.1-.4M480.3 163.6l1.9-.9 1.3 2.9 1 3.8 .9 3.8-1.3 .5-1.5-3.4-1.6-3.4-.7-3.3M485.4 167.5l2.5-.6 1.5 3.4-1.1 1.9-1.9-1.9-1-2.8M486.8 173.7l1.9 .8 2.4 3.8-1.3 .6-2.3-2.9-.7-2.3M416.9 198.5l2.8-.8 3.4 .8-.5 1.5-3.3 0-2.4-1.5M405 196.6l1.8-1 1.1 2.1-1.5 1.6-1.2-1.2-.2-1.5M413 194.7l1-.4 .2 1.2-1 0-.2-.8M173.9 244.4l4.2-.8 4.8 .4 2.8 .8-4.7 .2-4.8 .2-2.3-.8M185.7 251.6l1.9-1.9 2.3 2.3 1.9 1.6-2.7-.4-3.4-1.6M311.4 204.6l2 2-1.5 1.6 .7 2.7-.4 2.3-2.4 1.7-3.1 1.6-4 1.6-4 1.5-3 2-3.5 1.9-4.7 1.5-3.8 1.3-3.8 1.9-2.9 1.9-1.3 1.4 1.1 1.1-2.3 .8-2.3 .5-2.8 2.9-2.9 2.8-2.8 2.9-2.5 3.8-1.3 3.8-.6 3.8 1.1 2.9 2.3 1.9 2.9 .9 1.3 1.6-2.3 1.3-3.8 1.9-3.8 1.9-2.9 2.9-2.8 4.7-1.9 4.8M299.3 247.3l3.4-1.9 4.2-1.9 4.4-1 .9-1.1 1.2 1.5 3 3-1.3 2.3-1.9 2.3-1.9 1.9-2.5 1.5-1.9-2.3-2.3-1.9-2.8-.5-2.5-1.9M321.4 241l3.2-.6 3.8 1.2 1.4 1.7-3.3 .9-3.8-1.3-1.3-1.9M282.3 257.4l2.3-1.6 2.9-.3 1.1 1.5-2.1 1.7-2.8 .6-1.4-1.9M284.6 261.4l2.1-.2 .4 .9-2.1 0-.4-.7M405 196.8l1.4-1.5 1.3 1.5 .2 3.8 .8 4.8 .7 3.8-.5 3.8-1.4 3.8-1.5 2.8-1.9 2.3-2.5-1.5-2.8-1.7-2.3-2.9-1.5-3.4-1.6-3.2 .8-2.9 1.9-2.7 3-2 3.5-1 1.9-1 .5-2.8M388.3 225.4l2.8-1 3.9 1.9 3.8-1.3 3.8-1.9 2.8 .7 2.9 2.5 1.9 3.8 1.5 4.8-.6 4.7 1 4.8-1 4.8-.9 4.7-2.9 2.9-3.8-1-2.8 1.9-3.8-.3-3.9 .3-2.8-1.9-1-3.8 1.9-3.8-.9-3.8 .9-3.8-1.9-3.8-1.5-3.8-.4-3.8 1-3.8M433.6 204.6l-1.2 .8 4.3 0 2.4 1.2 2.3 2.3 3.1 2.2 4.7 2.8 4.8 3.5 4.8 2.2 3.8 2.3 4.7 1.2 3.8 1.9 3.9 3.2 2.8 1.9 2.9-.9 3.8 1.9 3.8 2.8 2.3 2.9 2.4 .9 2 1M488.3 263.8l2.3-.3 1.1 1.9-2.3 .3-1.1-1.9M480.7 263.1l1.1-.2 .2 .9-1.1 0-.2-.7M473 230.1l1.6-.5 .4 1.1-1.6 .4-.4-1M452.1 278.6l.3-5 1.5-1.8 3-.6 3.6-.3 3.5 .9 3.6 .6 3.6-.3 3.6 .3 3.5-.6 3.6-.6 3-1 3-.8 2.3-.4 3.8 0M462.3 260.8l1.2 0 0 .8-1.2 0 0-.8M485.5 262.4l1.2 0 0 .8-1.2 0 0-.8" fill="none" stroke="#000" stroke-width="0.75" stroke-linejoin="round"/>
</g>
<rect x="141.0" y="49.3" width="352.0" height="227.9" fill="none" stroke="#3a3a3a" stroke-width="1.0"/>
<text transform="translate(322.2,254.2) scale(1.08,1)" font-size="8.33" letter-spacing="0.322">from grib files provided by ECMWF</text>
<text transform="translate(380.4,273.2) scale(1.08,1)" font-size="8.33" letter-spacing="0.28">©2025 sb@irizone.net</text>
</g>
</svg></body></html>
